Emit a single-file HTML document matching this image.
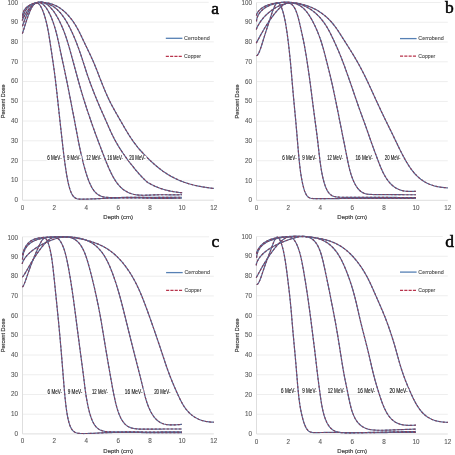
<!DOCTYPE html>
<html><head><meta charset="utf-8"><style>
html,body{margin:0;padding:0;background:#fff;}
svg{display:block;filter:blur(0.35px);}
.g{stroke:#eeeeee;stroke-width:1;}
.ax{stroke:#dedede;stroke-width:1;}
.tk{font-family:"Liberation Sans",sans-serif;font-size:6.3px;fill:#5a5a5a;stroke:#5a5a5a;stroke-width:0.1px;}
.ttl{font-family:"Liberation Sans",sans-serif;font-size:6.2px;fill:#3c3c3c;stroke:#3c3c3c;stroke-width:0.18px;}
.lg{font-family:"Liberation Sans",sans-serif;font-size:6.2px;fill:#505050;stroke:#505050;stroke-width:0.12px;}
.el{font-family:"Liberation Sans",sans-serif;font-size:6.3px;fill:#1a1a1a;stroke:#1a1a1a;stroke-width:0.15px;}
.let{font-family:"Liberation Serif",serif;font-size:17.5px;font-weight:normal;fill:#000;stroke:#000;stroke-width:0.5px;}
.lgb{stroke:#5680b4;stroke-width:1.3;}
.lgr{stroke:#b8344c;stroke-width:1.2;stroke-dasharray:3.1,1.2;}
.cb{fill:none;stroke:#536894;stroke-width:1.2;stroke-linejoin:round;}
.cu{fill:none;stroke:#843e5c;stroke-width:1.1;stroke-dasharray:2.1,1.9;}
.ck{fill:none;stroke:#3a3a5a;stroke-width:0.6;opacity:0.6}
</style></head><body>
<svg width="455" height="455" viewBox="0 0 455 455">
<rect width="455" height="455" fill="#fff"/>
<line x1="22.5" y1="180.41" x2="213.8" y2="180.41" class="g"/>
<line x1="22.5" y1="160.62" x2="213.8" y2="160.62" class="g"/>
<line x1="22.5" y1="140.83" x2="213.8" y2="140.83" class="g"/>
<line x1="22.5" y1="121.04" x2="213.8" y2="121.04" class="g"/>
<line x1="22.5" y1="101.25" x2="213.8" y2="101.25" class="g"/>
<line x1="22.5" y1="81.46" x2="213.8" y2="81.46" class="g"/>
<line x1="22.5" y1="61.67" x2="213.8" y2="61.67" class="g"/>
<line x1="22.5" y1="41.88" x2="213.8" y2="41.88" class="g"/>
<line x1="22.5" y1="22.09" x2="213.8" y2="22.09" class="g"/>
<line x1="22.5" y1="2.3" x2="213.8" y2="2.3" class="g"/>
<line x1="22.5" y1="2.3" x2="22.5" y2="200.2" class="ax"/>
<line x1="22.5" y1="200.2" x2="213.8" y2="200.2" class="ax"/>
<text x="17.9" y="202.2" class="tk" text-anchor="end">0</text>
<text x="17.9" y="182.41" class="tk" text-anchor="end">10</text>
<text x="17.9" y="162.62" class="tk" text-anchor="end">20</text>
<text x="17.9" y="142.83" class="tk" text-anchor="end">30</text>
<text x="17.9" y="123.04" class="tk" text-anchor="end">40</text>
<text x="17.9" y="103.25" class="tk" text-anchor="end">50</text>
<text x="17.9" y="83.46" class="tk" text-anchor="end">60</text>
<text x="17.9" y="63.67" class="tk" text-anchor="end">70</text>
<text x="17.9" y="43.88" class="tk" text-anchor="end">80</text>
<text x="17.9" y="24.09" class="tk" text-anchor="end">90</text>
<text x="17.9" y="5.1" class="tk" text-anchor="end">100</text>
<text x="22.5" y="209.7" class="tk" text-anchor="middle">0</text>
<text x="54.38" y="209.7" class="tk" text-anchor="middle">2</text>
<text x="86.27" y="209.7" class="tk" text-anchor="middle">4</text>
<text x="118.15" y="209.7" class="tk" text-anchor="middle">6</text>
<text x="150.03" y="209.7" class="tk" text-anchor="middle">8</text>
<text x="181.92" y="209.7" class="tk" text-anchor="middle">10</text>
<text x="213.8" y="209.7" class="tk" text-anchor="middle">12</text>
<text class="ttl" text-anchor="middle" textLength="34" lengthAdjust="spacingAndGlyphs" transform="translate(4.7,101.25) rotate(-90)">Percent Dose</text>
<text x="118.15" y="219.2" class="ttl" text-anchor="middle" textLength="29.7" lengthAdjust="spacingAndGlyphs">Depth (cm)</text>
<rect x="208.7" y="0.8" width="19.3" height="15" fill="#fff"/>
<text class="let" transform="translate(211.2,13.8) scale(1.0,1)">a</text>
<line x1="165.8" y1="38.3" x2="182.4" y2="38.3" class="lgb"/>
<line x1="165.8" y1="56.4" x2="182.4" y2="56.4" class="lgr"/>
<text x="184.1" y="39.9" class="lg" textLength="25.6" lengthAdjust="spacingAndGlyphs">Cerrobend</text>
<text x="184.1" y="58" class="lg" textLength="17" lengthAdjust="spacingAndGlyphs">Copper</text>
<path d="M22.34,33.65 L22.74,32.61 L23.1,31.52 L23.44,30.42 L23.77,29.32 L24.1,28.22 L24.44,27.11 L24.77,26.01 L25.11,24.91 L25.46,23.81 L25.81,22.72 L26.16,21.62 L26.52,20.53 L26.89,19.44 L27.27,18.35 L27.65,17.26 L28.04,16.18 L28.44,15.1 L28.85,14.03 L29.27,12.97 L29.7,11.91 L30.15,10.85 L30.62,9.81 L31.11,8.78 L31.63,7.77 L32.18,6.78 L32.77,5.82 L33.41,4.91 L34.12,4.07 L34.92,3.36 L35.81,2.87 L36.76,2.74 L37.7,3.01 L38.56,3.61 L39.33,4.39 L40,5.28 L40.61,6.23 L41.17,7.22 L41.68,8.24 L42.16,9.28 L42.61,10.33 L43.03,11.4 L43.43,12.47 L43.82,13.56 L44.19,14.65 L44.54,15.74 L44.88,16.85 L45.2,17.95 L45.51,19.06 L45.81,20.17 L46.1,21.29 L46.38,22.4 L46.65,23.53 L46.91,24.65 L47.16,25.77 L47.4,26.9 L47.63,28.03 L47.85,29.16 L48.07,30.29 L48.28,31.42 L48.48,32.56 L48.68,33.69 L48.87,34.83 L49.06,35.96 L49.24,37.1 L49.42,38.24 L49.6,39.37 L49.77,40.51 L49.95,41.65 L50.12,42.79 L50.29,43.93 L50.47,45.07 L50.64,46.2 L50.81,47.34 L50.98,48.48 L51.16,49.62 L51.33,50.76 L51.5,51.9 L51.67,53.03 L51.85,54.17 L52.02,55.31 L52.19,56.45 L52.36,57.59 L52.53,58.73 L52.69,59.87 L52.86,61.01 L53.03,62.15 L53.19,63.29 L53.35,64.43 L53.52,65.57 L53.67,66.71 L53.83,67.85 L53.99,68.99 L54.14,70.13 L54.3,71.27 L54.45,72.41 L54.6,73.56 L54.75,74.7 L54.89,75.84 L55.04,76.98 L55.18,78.12 L55.32,79.27 L55.46,80.41 L55.6,81.55 L55.74,82.7 L55.87,83.84 L56.01,84.98 L56.14,86.13 L56.27,87.27 L56.4,88.42 L56.53,89.56 L56.66,90.7 L56.79,91.85 L56.91,92.99 L57.04,94.14 L57.16,95.28 L57.29,96.43 L57.41,97.57 L57.54,98.72 L57.66,99.86 L57.79,101.01 L57.91,102.15 L58.04,103.3 L58.16,104.44 L58.29,105.59 L58.41,106.73 L58.54,107.87 L58.66,109.02 L58.79,110.16 L58.91,111.31 L59.04,112.45 L59.16,113.6 L59.29,114.74 L59.42,115.89 L59.54,117.03 L59.67,118.18 L59.8,119.32 L59.92,120.46 L60.05,121.61 L60.18,122.75 L60.31,123.9 L60.43,125.04 L60.56,126.19 L60.69,127.33 L60.81,128.47 L60.94,129.62 L61.07,130.76 L61.2,131.91 L61.32,133.05 L61.45,134.2 L61.57,135.34 L61.7,136.49 L61.83,137.63 L61.95,138.77 L62.08,139.92 L62.2,141.06 L62.33,142.21 L62.46,143.35 L62.58,144.5 L62.71,145.64 L62.84,146.78 L62.97,147.93 L63.11,149.07 L63.24,150.22 L63.38,151.36 L63.51,152.5 L63.65,153.65 L63.8,154.79 L63.94,155.93 L64.09,157.07 L64.23,158.22 L64.39,159.36 L64.54,160.5 L64.69,161.64 L64.85,162.78 L65.01,163.92 L65.17,165.06 L65.33,166.2 L65.49,167.34 L65.66,168.48 L65.83,169.62 L66.01,170.76 L66.18,171.9 L66.37,173.04 L66.55,174.17 L66.74,175.31 L66.94,176.45 L67.14,177.58 L67.36,178.71 L67.57,179.85 L67.8,180.98 L68.04,182.11 L68.29,183.23 L68.55,184.36 L68.83,185.48 L69.13,186.6 L69.44,187.71 L69.77,188.82 L70.13,189.92 L70.52,191.01 L70.95,192.09 L71.42,193.16 L71.94,194.2 L72.54,195.21 L73.22,196.17 L74.02,197.05 L74.94,197.81 L75.99,198.39 L77.11,198.79 L78.27,199.02 L79.43,199.13 L80.59,199.18 L81.75,199.19 L82.9,199.18 L84.05,199.16 L85.2,199.13 L86.35,199.1 L87.51,199.07 L88.66,199.04 L89.81,199 L90.96,198.97 L92.11,198.93 L93.26,198.88 L94.41,198.83 L95.56,198.78 L96.71,198.73 L97.86,198.67 L99.02,198.61 L100.17,198.55 L101.32,198.49 L102.47,198.43 L103.62,198.38 L104.77,198.33 L105.92,198.29 L107.07,198.25 L108.22,198.21 L109.37,198.18 L110.53,198.15 L111.68,198.13 L112.83,198.11 L113.98,198.09 L115.13,198.07 L116.28,198.05 L117.43,198.04 L118.59,198.03 L119.74,198.01 L120.89,198 L122.04,197.99 L123.19,197.98 L124.34,197.98 L125.49,197.97 L126.64,197.96 L127.8,197.96 L128.95,197.95 L130.1,197.95 L131.25,197.95 L132.4,197.95 L133.55,197.95 L134.7,197.95 L135.86,197.95 L137.01,197.96 L138.16,197.97 L139.31,197.98 L140.46,198 L141.61,198.02 L142.77,198.04 L143.92,198.06 L145.07,198.09 L146.22,198.12 L147.37,198.15 L148.52,198.19 L149.68,198.22 L150.83,198.25 L151.98,198.28 L153.13,198.3 L154.28,198.32 L155.44,198.33 L156.59,198.34 L157.74,198.35 L158.89,198.36 L160.04,198.36 L161.19,198.36 L162.34,198.35 L163.5,198.35 L164.65,198.34 L165.8,198.34 L166.95,198.33 L168.1,198.32 L169.25,198.31 L170.4,198.3 L171.56,198.29 L172.71,198.28 L173.86,198.28 L175.01,198.27 L176.16,198.26 L177.31,198.25 L178.46,198.23 L179.61,198.22 L180.77,198.21 L181.92,198.2" class="cb"/>
<path d="M22.34,33.65 L22.74,32.61 L23.1,31.52 L23.44,30.42 L23.77,29.32 L24.1,28.22 L24.44,27.11 L24.77,26.01 L25.11,24.91 L25.46,23.81 L25.81,22.72 L26.16,21.62 L26.52,20.53 L26.89,19.44 L27.27,18.35 L27.65,17.26 L28.04,16.18 L28.44,15.1 L28.85,14.03 L29.27,12.97 L29.7,11.91 L30.15,10.85 L30.62,9.81 L31.11,8.78 L31.63,7.77 L32.18,6.78 L32.77,5.82 L33.41,4.91 L34.12,4.07 L34.92,3.36 L35.81,2.87 L36.76,2.74 L37.7,3.01 L38.56,3.61 L39.33,4.39 L40,5.28 L40.61,6.23 L41.17,7.22 L41.68,8.24 L42.16,9.28 L42.61,10.33 L43.03,11.4 L43.43,12.47 L43.82,13.56 L44.19,14.65 L44.54,15.74 L44.88,16.85 L45.2,17.95 L45.51,19.06 L45.81,20.17 L46.1,21.29 L46.38,22.4 L46.65,23.53 L46.91,24.65 L47.16,25.77 L47.4,26.9 L47.63,28.03 L47.85,29.16 L48.07,30.29 L48.28,31.42 L48.48,32.56 L48.68,33.69 L48.87,34.83 L49.06,35.96 L49.24,37.1 L49.42,38.24 L49.6,39.37 L49.77,40.51 L49.95,41.65 L50.12,42.79 L50.29,43.93 L50.47,45.07 L50.64,46.2 L50.81,47.34 L50.98,48.48 L51.16,49.62 L51.33,50.76 L51.5,51.9 L51.67,53.03 L51.85,54.17 L52.02,55.31 L52.19,56.45 L52.36,57.59 L52.53,58.73 L52.69,59.87 L52.86,61.01 L53.03,62.15 L53.19,63.29 L53.35,64.43 L53.52,65.57 L53.67,66.71 L53.83,67.85 L53.99,68.99 L54.14,70.13 L54.3,71.27 L54.45,72.41 L54.6,73.56 L54.75,74.7 L54.89,75.84 L55.04,76.98 L55.18,78.12 L55.32,79.27 L55.46,80.41 L55.6,81.55 L55.74,82.7 L55.87,83.84 L56.01,84.98 L56.14,86.13 L56.27,87.27 L56.4,88.42 L56.53,89.56 L56.66,90.7 L56.79,91.85 L56.91,92.99 L57.04,94.14 L57.16,95.28 L57.29,96.43 L57.41,97.57 L57.54,98.72 L57.66,99.86 L57.79,101.01 L57.91,102.15 L58.04,103.3 L58.16,104.44 L58.29,105.59 L58.41,106.73 L58.54,107.87 L58.66,109.02 L58.79,110.16 L58.91,111.31 L59.04,112.45 L59.16,113.6 L59.29,114.74 L59.42,115.89 L59.54,117.03 L59.67,118.18 L59.8,119.32 L59.92,120.46 L60.05,121.61 L60.18,122.75 L60.31,123.9 L60.43,125.04 L60.56,126.19 L60.69,127.33 L60.81,128.47 L60.94,129.62 L61.07,130.76 L61.2,131.91 L61.32,133.05 L61.45,134.2 L61.57,135.34 L61.7,136.49 L61.83,137.63 L61.95,138.77 L62.08,139.92 L62.2,141.06 L62.33,142.21 L62.46,143.35 L62.58,144.5 L62.71,145.64 L62.84,146.78 L62.97,147.93 L63.11,149.07 L63.24,150.22 L63.38,151.36 L63.51,152.5 L63.65,153.65 L63.8,154.79 L63.94,155.93 L64.09,157.07 L64.23,158.22 L64.39,159.36 L64.54,160.5 L64.69,161.64 L64.85,162.78 L65.01,163.92 L65.17,165.06 L65.33,166.2 L65.49,167.34 L65.66,168.48 L65.83,169.62 L66.01,170.76 L66.18,171.9 L66.37,173.04 L66.55,174.17 L66.74,175.31 L66.94,176.45 L67.14,177.58 L67.36,178.71 L67.57,179.85 L67.8,180.98 L68.04,182.11 L68.29,183.23 L68.55,184.36 L68.83,185.48 L69.13,186.6 L69.44,187.71 L69.77,188.82 L70.13,189.92 L70.52,191.01 L70.95,192.09 L71.42,193.16 L71.94,194.2 L72.54,195.21 L73.22,196.17 L74.02,197.05 L74.94,197.81 L75.99,198.39 L77.11,198.79 L78.27,199.02 L79.43,199.13 L80.59,199.18 L81.75,199.19 L82.9,199.18 L84.05,199.16 L85.2,199.13 L86.35,199.1 L87.51,199.07 L88.66,199.04 L89.81,199 L90.96,198.97 L92.11,198.93 L93.26,198.88 L94.41,198.83 L95.56,198.78 L96.71,198.73 L97.86,198.67 L99.02,198.61 L100.17,198.55 L101.32,198.49 L102.47,198.43 L103.62,198.38 L104.77,198.33 L105.92,198.29 L107.07,198.25 L108.22,198.21 L109.37,198.18 L110.53,198.15 L111.68,198.13 L112.83,198.11 L113.98,198.09 L115.13,198.07 L116.28,198.05 L117.43,198.04 L118.59,198.03 L119.74,198.01 L120.89,198 L122.04,197.99 L123.19,197.98 L124.34,197.98 L125.49,197.97 L126.64,197.96 L127.8,197.96 L128.95,197.95 L130.1,197.95 L131.25,197.95 L132.4,197.95 L133.55,197.95 L134.7,197.95 L135.86,197.95 L137.01,197.96 L138.16,197.97 L139.31,197.98 L140.46,198 L141.61,198.02 L142.77,198.04 L143.92,198.06 L145.07,198.09 L146.22,198.12 L147.37,198.15 L148.52,198.19 L149.68,198.22 L150.83,198.25 L151.98,198.28 L153.13,198.3 L154.28,198.32 L155.44,198.33 L156.59,198.34 L157.74,198.35 L158.89,198.36 L160.04,198.36 L161.19,198.36 L162.34,198.35 L163.5,198.35 L164.65,198.34 L165.8,198.34 L166.95,198.33 L168.1,198.32 L169.25,198.31 L170.4,198.3 L171.56,198.29 L172.71,198.28 L173.86,198.28 L175.01,198.27 L176.16,198.26 L177.31,198.25 L178.46,198.23 L179.61,198.22 L180.77,198.21 L181.92,198.2" class="cu"/>
<path d="M22.44,26.28 L22.77,25.26 L23.1,24.24 L23.45,23.23 L23.8,22.22 L24.17,21.21 L24.55,20.21 L24.93,19.21 L25.33,18.22 L25.75,17.23 L26.17,16.25 L26.61,15.27 L27.07,14.3 L27.54,13.34 L28.02,12.39 L28.53,11.45 L29.06,10.52 L29.61,9.61 L30.19,8.71 L30.79,7.83 L31.43,6.98 L32.11,6.16 L32.82,5.38 L33.59,4.64 L34.4,3.98 L35.28,3.4 L36.22,2.93 L37.21,2.61 L38.24,2.47 L39.28,2.52 L40.29,2.76 L41.26,3.17 L42.16,3.7 L43.01,4.33 L43.8,5.04 L44.54,5.8 L45.24,6.61 L45.89,7.45 L46.51,8.32 L47.1,9.21 L47.67,10.12 L48.2,11.04 L48.72,11.98 L49.21,12.93 L49.69,13.89 L50.15,14.85 L50.59,15.83 L51.02,16.81 L51.43,17.8 L51.83,18.79 L52.22,19.79 L52.6,20.79 L52.96,21.8 L53.32,22.81 L53.66,23.82 L53.99,24.84 L54.32,25.86 L54.64,26.88 L54.95,27.91 L55.25,28.93 L55.54,29.96 L55.82,31 L56.1,32.03 L56.37,33.06 L56.64,34.1 L56.9,35.14 L57.15,36.18 L57.4,37.22 L57.64,38.26 L57.88,39.3 L58.12,40.35 L58.35,41.39 L58.58,42.44 L58.81,43.48 L59.04,44.53 L59.26,45.57 L59.48,46.62 L59.71,47.67 L59.93,48.71 L60.15,49.76 L60.37,50.81 L60.59,51.85 L60.81,52.9 L61.04,53.94 L61.26,54.99 L61.48,56.04 L61.71,57.08 L61.93,58.13 L62.16,59.17 L62.38,60.22 L62.61,61.26 L62.83,62.31 L63.06,63.36 L63.28,64.4 L63.51,65.45 L63.73,66.49 L63.96,67.54 L64.18,68.59 L64.41,69.63 L64.63,70.68 L64.85,71.73 L65.07,72.77 L65.3,73.82 L65.52,74.87 L65.74,75.91 L65.95,76.96 L66.17,78.01 L66.39,79.06 L66.6,80.11 L66.82,81.16 L67.03,82.21 L67.24,83.26 L67.45,84.31 L67.66,85.35 L67.87,86.4 L68.08,87.46 L68.29,88.51 L68.49,89.56 L68.7,90.61 L68.91,91.66 L69.11,92.71 L69.32,93.76 L69.52,94.81 L69.73,95.86 L69.93,96.91 L70.13,97.96 L70.34,99.02 L70.54,100.07 L70.74,101.12 L70.95,102.17 L71.15,103.22 L71.36,104.27 L71.56,105.32 L71.76,106.37 L71.97,107.43 L72.17,108.48 L72.37,109.53 L72.58,110.58 L72.78,111.63 L72.98,112.68 L73.19,113.73 L73.39,114.78 L73.59,115.84 L73.8,116.89 L74,117.94 L74.2,118.99 L74.4,120.04 L74.6,121.1 L74.8,122.15 L75,123.2 L75.2,124.25 L75.4,125.3 L75.6,126.36 L75.79,127.41 L75.99,128.46 L76.19,129.51 L76.39,130.56 L76.58,131.62 L76.78,132.67 L76.98,133.72 L77.18,134.77 L77.38,135.83 L77.58,136.88 L77.78,137.93 L77.98,138.98 L78.18,140.03 L78.39,141.08 L78.59,142.13 L78.8,143.19 L79.01,144.24 L79.22,145.28 L79.44,146.33 L79.65,147.38 L79.87,148.43 L80.1,149.48 L80.32,150.52 L80.55,151.57 L80.78,152.62 L81.01,153.66 L81.25,154.71 L81.49,155.75 L81.74,156.79 L81.98,157.83 L82.23,158.87 L82.49,159.92 L82.74,160.95 L83,161.99 L83.27,163.03 L83.54,164.07 L83.81,165.1 L84.08,166.14 L84.37,167.17 L84.65,168.2 L84.94,169.23 L85.24,170.26 L85.54,171.29 L85.84,172.31 L86.16,173.34 L86.48,174.36 L86.81,175.38 L87.15,176.39 L87.49,177.41 L87.85,178.42 L88.22,179.42 L88.6,180.42 L88.99,181.42 L89.4,182.41 L89.83,183.39 L90.27,184.36 L90.74,185.33 L91.22,186.28 L91.73,187.23 L92.27,188.15 L92.84,189.06 L93.44,189.95 L94.07,190.81 L94.75,191.64 L95.47,192.43 L96.24,193.18 L97.05,193.88 L97.91,194.52 L98.81,195.1 L99.76,195.6 L100.73,196.04 L101.74,196.4 L102.77,196.7 L103.81,196.94 L104.86,197.12 L105.92,197.27 L106.98,197.37 L108.05,197.45 L109.11,197.51 L110.18,197.54 L111.25,197.56 L112.32,197.57 L113.39,197.57 L114.46,197.57 L115.53,197.56 L116.6,197.55 L117.67,197.53 L118.74,197.52 L119.81,197.5 L120.88,197.48 L121.95,197.46 L123.02,197.45 L124.09,197.43 L125.17,197.41 L126.24,197.4 L127.31,197.38 L128.38,197.37 L129.45,197.36 L130.52,197.35 L131.59,197.34 L132.66,197.34 L133.73,197.34 L134.8,197.34 L135.87,197.34 L136.94,197.35 L138.01,197.35 L139.09,197.36 L140.16,197.37 L141.23,197.39 L142.3,197.4 L143.37,197.41 L144.44,197.42 L145.51,197.43 L146.58,197.44 L147.65,197.45 L148.72,197.45 L149.79,197.45 L150.87,197.45 L151.94,197.45 L153.01,197.45 L154.08,197.45 L155.15,197.44 L156.22,197.44 L157.29,197.43 L158.36,197.42 L159.43,197.41 L160.5,197.41 L161.57,197.4 L162.64,197.39 L163.71,197.38 L164.79,197.37 L165.86,197.36 L166.93,197.36 L168,197.35 L169.07,197.34 L170.14,197.33 L171.21,197.32 L172.28,197.31 L173.35,197.3 L174.42,197.29 L175.49,197.28 L176.56,197.27 L177.63,197.26 L178.7,197.26 L179.78,197.25 L180.85,197.24 L181.92,197.23" class="cb"/>
<path d="M22.44,26.28 L22.77,25.26 L23.1,24.24 L23.45,23.23 L23.8,22.22 L24.17,21.21 L24.55,20.21 L24.93,19.21 L25.33,18.22 L25.75,17.23 L26.17,16.25 L26.61,15.27 L27.07,14.3 L27.54,13.34 L28.02,12.39 L28.53,11.45 L29.06,10.52 L29.61,9.61 L30.19,8.71 L30.79,7.83 L31.43,6.98 L32.11,6.16 L32.82,5.38 L33.59,4.64 L34.4,3.98 L35.28,3.4 L36.22,2.93 L37.21,2.61 L38.24,2.47 L39.28,2.52 L40.29,2.76 L41.26,3.17 L42.16,3.7 L43.01,4.33 L43.8,5.04 L44.54,5.8 L45.24,6.61 L45.89,7.45 L46.51,8.32 L47.1,9.21 L47.67,10.12 L48.2,11.04 L48.72,11.98 L49.21,12.93 L49.69,13.89 L50.15,14.85 L50.59,15.83 L51.02,16.81 L51.43,17.8 L51.83,18.79 L52.22,19.79 L52.6,20.79 L52.96,21.8 L53.32,22.81 L53.66,23.82 L53.99,24.84 L54.32,25.86 L54.64,26.88 L54.95,27.91 L55.25,28.93 L55.54,29.96 L55.82,31 L56.1,32.03 L56.37,33.06 L56.64,34.1 L56.9,35.14 L57.15,36.18 L57.4,37.22 L57.64,38.26 L57.88,39.3 L58.12,40.35 L58.35,41.39 L58.58,42.44 L58.81,43.48 L59.04,44.53 L59.26,45.57 L59.48,46.62 L59.71,47.67 L59.93,48.71 L60.15,49.76 L60.37,50.81 L60.59,51.85 L60.81,52.9 L61.04,53.94 L61.26,54.99 L61.48,56.04 L61.71,57.08 L61.93,58.13 L62.16,59.17 L62.38,60.22 L62.61,61.26 L62.83,62.31 L63.06,63.36 L63.28,64.4 L63.51,65.45 L63.73,66.49 L63.96,67.54 L64.18,68.59 L64.41,69.63 L64.63,70.68 L64.85,71.73 L65.07,72.77 L65.3,73.82 L65.52,74.87 L65.74,75.91 L65.95,76.96 L66.17,78.01 L66.39,79.06 L66.6,80.11 L66.82,81.16 L67.03,82.21 L67.24,83.26 L67.45,84.31 L67.66,85.35 L67.87,86.4 L68.08,87.46 L68.29,88.51 L68.49,89.56 L68.7,90.61 L68.91,91.66 L69.11,92.71 L69.32,93.76 L69.52,94.81 L69.73,95.86 L69.93,96.91 L70.13,97.96 L70.34,99.02 L70.54,100.07 L70.74,101.12 L70.95,102.17 L71.15,103.22 L71.36,104.27 L71.56,105.32 L71.76,106.37 L71.97,107.43 L72.17,108.48 L72.37,109.53 L72.58,110.58 L72.78,111.63 L72.98,112.68 L73.19,113.73 L73.39,114.78 L73.59,115.84 L73.8,116.89 L74,117.94 L74.2,118.99 L74.4,120.04 L74.6,121.1 L74.8,122.15 L75,123.2 L75.2,124.25 L75.4,125.3 L75.6,126.36 L75.79,127.41 L75.99,128.46 L76.19,129.51 L76.39,130.56 L76.58,131.62 L76.78,132.67 L76.98,133.72 L77.18,134.77 L77.38,135.83 L77.58,136.88 L77.78,137.93 L77.98,138.98 L78.18,140.03 L78.39,141.08 L78.59,142.13 L78.8,143.19 L79.01,144.24 L79.22,145.28 L79.44,146.33 L79.65,147.38 L79.87,148.43 L80.1,149.48 L80.32,150.52 L80.55,151.57 L80.78,152.62 L81.01,153.66 L81.25,154.71 L81.49,155.75 L81.74,156.79 L81.98,157.83 L82.23,158.87 L82.49,159.92 L82.74,160.95 L83,161.99 L83.27,163.03 L83.54,164.07 L83.81,165.1 L84.08,166.14 L84.37,167.17 L84.65,168.2 L84.94,169.23 L85.24,170.26 L85.54,171.29 L85.84,172.31 L86.16,173.34 L86.48,174.36 L86.81,175.38 L87.15,176.39 L87.49,177.41 L87.85,178.42 L88.22,179.42 L88.6,180.42 L88.99,181.42 L89.4,182.41 L89.83,183.39 L90.27,184.36 L90.74,185.33 L91.22,186.28 L91.73,187.23 L92.27,188.15 L92.84,189.06 L93.44,189.95 L94.07,190.81 L94.75,191.64 L95.47,192.43 L96.24,193.18 L97.05,193.88 L97.91,194.52 L98.81,195.1 L99.76,195.6 L100.73,196.04 L101.74,196.4 L102.77,196.7 L103.81,196.94 L104.86,197.12 L105.92,197.27 L106.98,197.37 L108.05,197.45 L109.11,197.51 L110.18,197.54 L111.25,197.56 L112.32,197.57 L113.39,197.57 L114.46,197.57 L115.53,197.56 L116.6,197.55 L117.67,197.53 L118.74,197.52 L119.81,197.5 L120.88,197.48 L121.95,197.46 L123.02,197.45 L124.09,197.43 L125.17,197.41 L126.24,197.4 L127.31,197.38 L128.38,197.37 L129.45,197.36 L130.52,197.35 L131.59,197.34 L132.66,197.34 L133.73,197.34 L134.8,197.34 L135.87,197.34 L136.94,197.35 L138.01,197.35 L139.09,197.36 L140.16,197.37 L141.23,197.39 L142.3,197.4 L143.37,197.41 L144.44,197.42 L145.51,197.43 L146.58,197.44 L147.65,197.45 L148.72,197.45 L149.79,197.45 L150.87,197.45 L151.94,197.45 L153.01,197.45 L154.08,197.45 L155.15,197.44 L156.22,197.44 L157.29,197.43 L158.36,197.42 L159.43,197.41 L160.5,197.41 L161.57,197.4 L162.64,197.39 L163.71,197.38 L164.79,197.37 L165.86,197.36 L166.93,197.36 L168,197.35 L169.07,197.34 L170.14,197.33 L171.21,197.32 L172.28,197.31 L173.35,197.3 L174.42,197.29 L175.49,197.28 L176.56,197.27 L177.63,197.26 L178.7,197.26 L179.78,197.25 L180.85,197.24 L181.92,197.23" class="cu"/>
<path d="M22.09,20.58 L22.51,19.68 L22.94,18.78 L23.38,17.89 L23.84,17.01 L24.3,16.13 L24.78,15.26 L25.28,14.39 L25.78,13.53 L26.31,12.68 L26.85,11.84 L27.41,11.01 L27.98,10.2 L28.58,9.4 L29.2,8.61 L29.85,7.84 L30.52,7.09 L31.22,6.37 L31.95,5.67 L32.71,5.01 L33.51,4.39 L34.34,3.81 L35.22,3.29 L36.13,2.84 L37.09,2.46 L38.07,2.18 L39.09,1.99 L40.12,1.92 L41.15,1.96 L42.16,2.12 L43.16,2.37 L44.12,2.72 L45.05,3.15 L45.94,3.65 L46.79,4.2 L47.6,4.8 L48.38,5.43 L49.14,6.11 L49.86,6.81 L50.55,7.53 L51.22,8.28 L51.87,9.04 L52.5,9.82 L53.11,10.61 L53.7,11.42 L54.27,12.24 L54.83,13.06 L55.38,13.9 L55.91,14.74 L56.43,15.6 L56.93,16.46 L57.43,17.32 L57.91,18.19 L58.38,19.07 L58.85,19.95 L59.3,20.83 L59.74,21.72 L60.18,22.62 L60.6,23.52 L61.02,24.42 L61.43,25.32 L61.83,26.23 L62.22,27.14 L62.61,28.06 L62.99,28.97 L63.36,29.89 L63.72,30.82 L64.08,31.74 L64.43,32.67 L64.78,33.6 L65.11,34.53 L65.45,35.47 L65.77,36.4 L66.09,37.34 L66.41,38.28 L66.71,39.22 L67.02,40.16 L67.32,41.11 L67.61,42.06 L67.9,43 L68.19,43.95 L68.47,44.9 L68.75,45.85 L69.03,46.8 L69.3,47.75 L69.57,48.7 L69.84,49.66 L70.11,50.61 L70.38,51.56 L70.64,52.52 L70.9,53.47 L71.17,54.42 L71.43,55.38 L71.69,56.33 L71.95,57.29 L72.21,58.24 L72.47,59.19 L72.73,60.15 L72.99,61.1 L73.25,62.06 L73.51,63.01 L73.77,63.97 L74.03,64.92 L74.28,65.87 L74.54,66.83 L74.8,67.78 L75.06,68.74 L75.32,69.69 L75.57,70.65 L75.83,71.6 L76.09,72.55 L76.35,73.51 L76.61,74.46 L76.87,75.42 L77.13,76.37 L77.39,77.32 L77.65,78.28 L77.91,79.23 L78.18,80.18 L78.44,81.13 L78.71,82.09 L78.97,83.04 L79.24,83.99 L79.51,84.94 L79.78,85.89 L80.06,86.84 L80.33,87.79 L80.6,88.74 L80.88,89.69 L81.16,90.64 L81.44,91.59 L81.72,92.54 L82,93.49 L82.28,94.44 L82.57,95.38 L82.85,96.33 L83.14,97.28 L83.43,98.22 L83.72,99.17 L84.02,100.11 L84.31,101.06 L84.61,102 L84.91,102.95 L85.21,103.89 L85.51,104.83 L85.82,105.77 L86.12,106.72 L86.43,107.66 L86.74,108.6 L87.05,109.54 L87.37,110.48 L87.68,111.42 L88,112.36 L88.31,113.29 L88.63,114.23 L88.95,115.17 L89.27,116.11 L89.59,117.05 L89.91,117.99 L90.23,118.92 L90.55,119.86 L90.87,120.8 L91.19,121.73 L91.52,122.67 L91.84,123.6 L92.17,124.54 L92.49,125.48 L92.82,126.41 L93.15,127.34 L93.48,128.28 L93.81,129.21 L94.15,130.14 L94.48,131.07 L94.82,132 L95.16,132.93 L95.5,133.86 L95.84,134.79 L96.18,135.72 L96.53,136.65 L96.87,137.58 L97.22,138.5 L97.57,139.43 L97.92,140.35 L98.26,141.28 L98.61,142.2 L98.96,143.13 L99.31,144.05 L99.66,144.98 L100.01,145.9 L100.36,146.82 L100.71,147.75 L101.06,148.67 L101.41,149.59 L101.76,150.51 L102.11,151.43 L102.47,152.35 L102.82,153.27 L103.17,154.19 L103.53,155.11 L103.88,156.03 L104.24,156.95 L104.6,157.87 L104.96,158.78 L105.33,159.7 L105.69,160.61 L106.06,161.52 L106.43,162.43 L106.8,163.34 L107.18,164.25 L107.56,165.16 L107.94,166.07 L108.33,166.97 L108.73,167.87 L109.12,168.77 L109.53,169.67 L109.94,170.56 L110.35,171.45 L110.78,172.34 L111.21,173.23 L111.65,174.11 L112.1,174.98 L112.56,175.85 L113.03,176.72 L113.52,177.58 L114.01,178.43 L114.52,179.27 L115.05,180.11 L115.59,180.94 L116.14,181.75 L116.72,182.56 L117.31,183.35 L117.92,184.13 L118.55,184.9 L119.2,185.65 L119.88,186.38 L120.57,187.09 L121.29,187.77 L122.03,188.44 L122.8,189.08 L123.58,189.69 L124.4,190.28 L125.23,190.83 L126.08,191.35 L126.96,191.84 L127.85,192.29 L128.76,192.71 L129.68,193.09 L130.62,193.44 L131.57,193.75 L132.53,194.02 L133.5,194.27 L134.48,194.48 L135.46,194.66 L136.44,194.81 L137.42,194.93 L138.41,195.03 L139.4,195.11 L140.39,195.17 L141.38,195.21 L142.37,195.23 L143.36,195.24 L144.35,195.24 L145.34,195.22 L146.33,195.2 L147.31,195.17 L148.3,195.14 L149.29,195.1 L150.27,195.06 L151.26,195.02 L152.25,194.98 L153.24,194.93 L154.22,194.9 L155.21,194.86 L156.2,194.83 L157.18,194.8 L158.17,194.78 L159.16,194.76 L160.15,194.75 L161.14,194.74 L162.13,194.74 L163.12,194.74 L164.11,194.74 L165.1,194.75 L166.09,194.76 L167.08,194.77 L168.07,194.78 L169.06,194.8 L170.05,194.81 L171.04,194.81 L172.03,194.82 L173.02,194.82 L174.01,194.82 L175,194.82 L175.99,194.81 L176.98,194.8 L177.97,194.79 L178.96,194.78 L179.95,194.76 L180.94,194.74 L181.93,194.71" class="cb"/>
<path d="M22.09,20.58 L22.51,19.68 L22.94,18.78 L23.38,17.89 L23.84,17.01 L24.3,16.13 L24.78,15.26 L25.28,14.39 L25.78,13.53 L26.31,12.68 L26.85,11.84 L27.41,11.01 L27.98,10.2 L28.58,9.4 L29.2,8.61 L29.85,7.84 L30.52,7.09 L31.22,6.37 L31.95,5.67 L32.71,5.01 L33.51,4.39 L34.34,3.81 L35.22,3.29 L36.13,2.84 L37.09,2.46 L38.07,2.18 L39.09,1.99 L40.12,1.92 L41.15,1.96 L42.16,2.12 L43.16,2.37 L44.12,2.72 L45.05,3.15 L45.94,3.65 L46.79,4.2 L47.6,4.8 L48.38,5.43 L49.14,6.11 L49.86,6.81 L50.55,7.53 L51.22,8.28 L51.87,9.04 L52.5,9.82 L53.11,10.61 L53.7,11.42 L54.27,12.24 L54.83,13.06 L55.38,13.9 L55.91,14.74 L56.43,15.6 L56.93,16.46 L57.43,17.32 L57.91,18.19 L58.38,19.07 L58.85,19.95 L59.3,20.83 L59.74,21.72 L60.18,22.62 L60.6,23.52 L61.02,24.42 L61.43,25.32 L61.83,26.23 L62.22,27.14 L62.61,28.06 L62.99,28.97 L63.36,29.89 L63.72,30.82 L64.08,31.74 L64.43,32.67 L64.78,33.6 L65.11,34.53 L65.45,35.47 L65.77,36.4 L66.09,37.34 L66.41,38.28 L66.71,39.22 L67.02,40.16 L67.32,41.11 L67.61,42.06 L67.9,43 L68.19,43.95 L68.47,44.9 L68.75,45.85 L69.03,46.8 L69.3,47.75 L69.57,48.7 L69.84,49.66 L70.11,50.61 L70.38,51.56 L70.64,52.52 L70.9,53.47 L71.17,54.42 L71.43,55.38 L71.69,56.33 L71.95,57.29 L72.21,58.24 L72.47,59.19 L72.73,60.15 L72.99,61.1 L73.25,62.06 L73.51,63.01 L73.77,63.97 L74.03,64.92 L74.28,65.87 L74.54,66.83 L74.8,67.78 L75.06,68.74 L75.32,69.69 L75.57,70.65 L75.83,71.6 L76.09,72.55 L76.35,73.51 L76.61,74.46 L76.87,75.42 L77.13,76.37 L77.39,77.32 L77.65,78.28 L77.91,79.23 L78.18,80.18 L78.44,81.13 L78.71,82.09 L78.97,83.04 L79.24,83.99 L79.51,84.94 L79.78,85.89 L80.06,86.84 L80.33,87.79 L80.6,88.74 L80.88,89.69 L81.16,90.64 L81.44,91.59 L81.72,92.54 L82,93.49 L82.28,94.44 L82.57,95.38 L82.85,96.33 L83.14,97.28 L83.43,98.22 L83.72,99.17 L84.02,100.11 L84.31,101.06 L84.61,102 L84.91,102.95 L85.21,103.89 L85.51,104.83 L85.82,105.77 L86.12,106.72 L86.43,107.66 L86.74,108.6 L87.05,109.54 L87.37,110.48 L87.68,111.42 L88,112.36 L88.31,113.29 L88.63,114.23 L88.95,115.17 L89.27,116.11 L89.59,117.05 L89.91,117.99 L90.23,118.92 L90.55,119.86 L90.87,120.8 L91.19,121.73 L91.52,122.67 L91.84,123.6 L92.17,124.54 L92.49,125.48 L92.82,126.41 L93.15,127.34 L93.48,128.28 L93.81,129.21 L94.15,130.14 L94.48,131.07 L94.82,132 L95.16,132.93 L95.5,133.86 L95.84,134.79 L96.18,135.72 L96.53,136.65 L96.87,137.58 L97.22,138.5 L97.57,139.43 L97.92,140.35 L98.26,141.28 L98.61,142.2 L98.96,143.13 L99.31,144.05 L99.66,144.98 L100.01,145.9 L100.36,146.82 L100.71,147.75 L101.06,148.67 L101.41,149.59 L101.76,150.51 L102.11,151.43 L102.47,152.35 L102.82,153.27 L103.17,154.19 L103.53,155.11 L103.88,156.03 L104.24,156.95 L104.6,157.87 L104.96,158.78 L105.33,159.7 L105.69,160.61 L106.06,161.52 L106.43,162.43 L106.8,163.34 L107.18,164.25 L107.56,165.16 L107.94,166.07 L108.33,166.97 L108.73,167.87 L109.12,168.77 L109.53,169.67 L109.94,170.56 L110.35,171.45 L110.78,172.34 L111.21,173.23 L111.65,174.11 L112.1,174.98 L112.56,175.85 L113.03,176.72 L113.52,177.58 L114.01,178.43 L114.52,179.27 L115.05,180.11 L115.59,180.94 L116.14,181.75 L116.72,182.56 L117.31,183.35 L117.92,184.13 L118.55,184.9 L119.2,185.65 L119.88,186.38 L120.57,187.09 L121.29,187.77 L122.03,188.44 L122.8,189.08 L123.58,189.69 L124.4,190.28 L125.23,190.83 L126.08,191.35 L126.96,191.84 L127.85,192.29 L128.76,192.71 L129.68,193.09 L130.62,193.44 L131.57,193.75 L132.53,194.02 L133.5,194.27 L134.48,194.48 L135.46,194.66 L136.44,194.81 L137.42,194.93 L138.41,195.03 L139.4,195.11 L140.39,195.17 L141.38,195.21 L142.37,195.23 L143.36,195.24 L144.35,195.24 L145.34,195.22 L146.33,195.2 L147.31,195.17 L148.3,195.14 L149.29,195.1 L150.27,195.06 L151.26,195.02 L152.25,194.98 L153.24,194.93 L154.22,194.9 L155.21,194.86 L156.2,194.83 L157.18,194.8 L158.17,194.78 L159.16,194.76 L160.15,194.75 L161.14,194.74 L162.13,194.74 L163.12,194.74 L164.11,194.74 L165.1,194.75 L166.09,194.76 L167.08,194.77 L168.07,194.78 L169.06,194.8 L170.05,194.81 L171.04,194.81 L172.03,194.82 L173.02,194.82 L174.01,194.82 L175,194.82 L175.99,194.81 L176.98,194.8 L177.97,194.79 L178.96,194.78 L179.95,194.76 L180.94,194.74 L181.93,194.71" class="cu"/>
<path d="M22.55,18.12 L22.74,17.22 L22.99,16.32 L23.28,15.44 L23.6,14.57 L23.94,13.71 L24.32,12.86 L24.72,12.02 L25.16,11.2 L25.63,10.4 L26.13,9.63 L26.67,8.87 L27.25,8.14 L27.86,7.45 L28.51,6.79 L29.19,6.17 L29.91,5.59 L30.67,5.06 L31.46,4.58 L32.27,4.14 L33.11,3.76 L33.97,3.43 L34.85,3.15 L35.75,2.92 L36.65,2.74 L37.57,2.6 L38.49,2.51 L39.41,2.46 L40.33,2.45 L41.26,2.48 L42.18,2.55 L43.1,2.66 L44.01,2.8 L44.92,2.98 L45.82,3.19 L46.71,3.44 L47.59,3.73 L48.45,4.04 L49.31,4.39 L50.15,4.77 L50.98,5.18 L51.79,5.62 L52.59,6.09 L53.37,6.58 L54.13,7.1 L54.87,7.65 L55.6,8.22 L56.31,8.81 L57.01,9.42 L57.68,10.05 L58.34,10.7 L58.99,11.36 L59.62,12.04 L60.23,12.73 L60.83,13.44 L61.41,14.16 L61.99,14.89 L62.55,15.63 L63.09,16.38 L63.63,17.13 L64.15,17.9 L64.67,18.67 L65.17,19.45 L65.66,20.24 L66.15,21.03 L66.62,21.83 L67.09,22.64 L67.55,23.44 L68,24.26 L68.44,25.07 L68.88,25.9 L69.31,26.72 L69.73,27.55 L70.15,28.38 L70.56,29.21 L70.97,30.05 L71.37,30.89 L71.77,31.74 L72.16,32.58 L72.54,33.43 L72.92,34.28 L73.3,35.13 L73.67,35.98 L74.04,36.84 L74.4,37.69 L74.76,38.55 L75.12,39.41 L75.47,40.28 L75.82,41.14 L76.16,42.01 L76.5,42.87 L76.84,43.74 L77.17,44.61 L77.5,45.48 L77.83,46.35 L78.15,47.22 L78.47,48.1 L78.79,48.97 L79.11,49.85 L79.42,50.73 L79.73,51.6 L80.03,52.48 L80.34,53.36 L80.64,54.24 L80.94,55.12 L81.24,56.01 L81.53,56.89 L81.83,57.77 L82.12,58.66 L82.41,59.54 L82.7,60.43 L82.98,61.31 L83.27,62.2 L83.55,63.09 L83.83,63.97 L84.12,64.86 L84.4,65.75 L84.68,66.63 L84.97,67.52 L85.25,68.41 L85.53,69.29 L85.82,70.18 L86.11,71.07 L86.39,71.95 L86.69,72.83 L86.98,73.72 L87.27,74.6 L87.57,75.48 L87.87,76.36 L88.18,77.24 L88.48,78.12 L88.79,79 L89.11,79.88 L89.42,80.75 L89.74,81.63 L90.06,82.5 L90.38,83.38 L90.71,84.25 L91.04,85.12 L91.36,85.99 L91.7,86.86 L92.03,87.73 L92.36,88.6 L92.7,89.47 L93.04,90.34 L93.38,91.21 L93.72,92.07 L94.06,92.94 L94.4,93.81 L94.75,94.67 L95.09,95.54 L95.44,96.4 L95.79,97.26 L96.14,98.13 L96.49,98.99 L96.84,99.85 L97.2,100.71 L97.56,101.57 L97.92,102.43 L98.28,103.29 L98.64,104.15 L99,105 L99.37,105.86 L99.74,106.71 L100.11,107.57 L100.48,108.42 L100.85,109.27 L101.23,110.13 L101.6,110.98 L101.98,111.83 L102.36,112.68 L102.73,113.53 L103.11,114.38 L103.49,115.23 L103.87,116.08 L104.25,116.93 L104.63,117.78 L105,118.63 L105.38,119.48 L105.75,120.33 L106.13,121.18 L106.5,122.03 L106.88,122.88 L107.25,123.73 L107.62,124.58 L107.99,125.44 L108.37,126.29 L108.74,127.14 L109.12,127.99 L109.49,128.84 L109.87,129.69 L110.26,130.54 L110.64,131.39 L111.03,132.23 L111.43,133.08 L111.83,133.92 L112.23,134.76 L112.64,135.6 L113.05,136.43 L113.47,137.26 L113.9,138.09 L114.33,138.92 L114.76,139.74 L115.21,140.56 L115.66,141.38 L116.11,142.19 L116.57,143 L117.04,143.81 L117.51,144.61 L117.98,145.41 L118.47,146.21 L118.95,147 L119.45,147.79 L119.94,148.58 L120.45,149.37 L120.95,150.15 L121.46,150.93 L121.98,151.7 L122.5,152.47 L123.03,153.24 L123.55,154.01 L124.09,154.77 L124.62,155.53 L125.16,156.29 L125.7,157.05 L126.25,157.8 L126.8,158.56 L127.35,159.3 L127.91,160.05 L128.46,160.8 L129.02,161.54 L129.59,162.28 L130.15,163.02 L130.72,163.76 L131.3,164.49 L131.87,165.22 L132.45,165.95 L133.03,166.68 L133.61,167.4 L134.2,168.13 L134.79,168.85 L135.39,169.56 L135.98,170.28 L136.59,170.99 L137.19,171.69 L137.8,172.4 L138.42,173.1 L139.03,173.8 L139.66,174.49 L140.29,175.18 L140.92,175.86 L141.55,176.55 L142.2,177.22 L142.84,177.89 L143.49,178.56 L144.15,179.23 L144.81,179.88 L145.48,180.54 L146.15,181.19 L146.83,181.83 L147.67,182.39 L148.47,182.87 L149.29,183.33 L150.1,183.78 L150.93,184.23 L151.76,184.66 L152.59,185.08 L153.43,185.49 L154.28,185.88 L155.13,186.27 L155.99,186.64 L156.85,187 L157.72,187.36 L158.59,187.69 L159.46,188.02 L160.34,188.34 L161.23,188.64 L162.11,188.93 L163,189.21 L163.9,189.48 L164.79,189.74 L165.69,189.98 L166.6,190.22 L167.5,190.44 L168.41,190.65 L169.32,190.86 L170.23,191.05 L171.14,191.23 L172.06,191.4 L172.97,191.57 L173.89,191.72 L174.81,191.87 L175.73,192.01 L176.65,192.14 L177.57,192.27 L178.49,192.38 L179.41,192.5 L180.33,192.6 L181.25,192.71 L182.17,192.8" class="cb"/>
<path d="M22.55,18.12 L22.74,17.22 L22.99,16.32 L23.28,15.44 L23.6,14.57 L23.94,13.71 L24.32,12.86 L24.72,12.02 L25.16,11.2 L25.63,10.4 L26.13,9.63 L26.67,8.87 L27.25,8.14 L27.86,7.45 L28.51,6.79 L29.19,6.17 L29.91,5.59 L30.67,5.06 L31.46,4.58 L32.27,4.14 L33.11,3.76 L33.97,3.43 L34.85,3.15 L35.75,2.92 L36.65,2.74 L37.57,2.6 L38.49,2.51 L39.41,2.46 L40.33,2.45 L41.26,2.48 L42.18,2.55 L43.1,2.66 L44.01,2.8 L44.92,2.98 L45.82,3.19 L46.71,3.44 L47.59,3.73 L48.45,4.04 L49.31,4.39 L50.15,4.77 L50.98,5.18 L51.79,5.62 L52.59,6.09 L53.37,6.58 L54.13,7.1 L54.87,7.65 L55.6,8.22 L56.31,8.81 L57.01,9.42 L57.68,10.05 L58.34,10.7 L58.99,11.36 L59.62,12.04 L60.23,12.73 L60.83,13.44 L61.41,14.16 L61.99,14.89 L62.55,15.63 L63.09,16.38 L63.63,17.13 L64.15,17.9 L64.67,18.67 L65.17,19.45 L65.66,20.24 L66.15,21.03 L66.62,21.83 L67.09,22.64 L67.55,23.44 L68,24.26 L68.44,25.07 L68.88,25.9 L69.31,26.72 L69.73,27.55 L70.15,28.38 L70.56,29.21 L70.97,30.05 L71.37,30.89 L71.77,31.74 L72.16,32.58 L72.54,33.43 L72.92,34.28 L73.3,35.13 L73.67,35.98 L74.04,36.84 L74.4,37.69 L74.76,38.55 L75.12,39.41 L75.47,40.28 L75.82,41.14 L76.16,42.01 L76.5,42.87 L76.84,43.74 L77.17,44.61 L77.5,45.48 L77.83,46.35 L78.15,47.22 L78.47,48.1 L78.79,48.97 L79.11,49.85 L79.42,50.73 L79.73,51.6 L80.03,52.48 L80.34,53.36 L80.64,54.24 L80.94,55.12 L81.24,56.01 L81.53,56.89 L81.83,57.77 L82.12,58.66 L82.41,59.54 L82.7,60.43 L82.98,61.31 L83.27,62.2 L83.55,63.09 L83.83,63.97 L84.12,64.86 L84.4,65.75 L84.68,66.63 L84.97,67.52 L85.25,68.41 L85.53,69.29 L85.82,70.18 L86.11,71.07 L86.39,71.95 L86.69,72.83 L86.98,73.72 L87.27,74.6 L87.57,75.48 L87.87,76.36 L88.18,77.24 L88.48,78.12 L88.79,79 L89.11,79.88 L89.42,80.75 L89.74,81.63 L90.06,82.5 L90.38,83.38 L90.71,84.25 L91.04,85.12 L91.36,85.99 L91.7,86.86 L92.03,87.73 L92.36,88.6 L92.7,89.47 L93.04,90.34 L93.38,91.21 L93.72,92.07 L94.06,92.94 L94.4,93.81 L94.75,94.67 L95.09,95.54 L95.44,96.4 L95.79,97.26 L96.14,98.13 L96.49,98.99 L96.84,99.85 L97.2,100.71 L97.56,101.57 L97.92,102.43 L98.28,103.29 L98.64,104.15 L99,105 L99.37,105.86 L99.74,106.71 L100.11,107.57 L100.48,108.42 L100.85,109.27 L101.23,110.13 L101.6,110.98 L101.98,111.83 L102.36,112.68 L102.73,113.53 L103.11,114.38 L103.49,115.23 L103.87,116.08 L104.25,116.93 L104.63,117.78 L105,118.63 L105.38,119.48 L105.75,120.33 L106.13,121.18 L106.5,122.03 L106.88,122.88 L107.25,123.73 L107.62,124.58 L107.99,125.44 L108.37,126.29 L108.74,127.14 L109.12,127.99 L109.49,128.84 L109.87,129.69 L110.26,130.54 L110.64,131.39 L111.03,132.23 L111.43,133.08 L111.83,133.92 L112.23,134.76 L112.64,135.6 L113.05,136.43 L113.47,137.26 L113.9,138.09 L114.33,138.92 L114.76,139.74 L115.21,140.56 L115.66,141.38 L116.11,142.19 L116.57,143 L117.04,143.81 L117.51,144.61 L117.98,145.41 L118.47,146.21 L118.95,147 L119.45,147.79 L119.94,148.58 L120.45,149.37 L120.95,150.15 L121.46,150.93 L121.98,151.7 L122.5,152.47 L123.03,153.24 L123.55,154.01 L124.09,154.77 L124.62,155.53 L125.16,156.29 L125.7,157.05 L126.25,157.8 L126.8,158.56 L127.35,159.3 L127.91,160.05 L128.46,160.8 L129.02,161.54 L129.59,162.28 L130.15,163.02 L130.72,163.76 L131.3,164.49 L131.87,165.22 L132.45,165.95 L133.03,166.68 L133.61,167.4 L134.2,168.13 L134.79,168.85 L135.39,169.56 L135.98,170.28 L136.59,170.99 L137.19,171.69 L137.8,172.4 L138.42,173.1 L139.03,173.8 L139.66,174.49 L140.29,175.18 L140.92,175.86 L141.55,176.55 L142.2,177.22 L142.84,177.89 L143.49,178.56 L144.15,179.23 L144.81,179.88 L145.48,180.54 L146.15,181.19 L146.83,181.83 L147.67,182.39 L148.47,182.87 L149.29,183.33 L150.1,183.78 L150.93,184.23 L151.76,184.66 L152.59,185.08 L153.43,185.49 L154.28,185.88 L155.13,186.27 L155.99,186.64 L156.85,187 L157.72,187.36 L158.59,187.69 L159.46,188.02 L160.34,188.34 L161.23,188.64 L162.11,188.93 L163,189.21 L163.9,189.48 L164.79,189.74 L165.69,189.98 L166.6,190.22 L167.5,190.44 L168.41,190.65 L169.32,190.86 L170.23,191.05 L171.14,191.23 L172.06,191.4 L172.97,191.57 L173.89,191.72 L174.81,191.87 L175.73,192.01 L176.65,192.14 L177.57,192.27 L178.49,192.38 L179.41,192.5 L180.33,192.6 L181.25,192.71 L182.17,192.8" class="cu"/>
<path d="M22.55,15.8 L22.62,14.82 L22.78,13.85 L23.03,12.89 L23.35,11.97 L23.75,11.07 L24.22,10.2 L24.76,9.38 L25.36,8.61 L26.02,7.88 L26.73,7.2 L27.49,6.57 L28.28,5.99 L29.11,5.47 L29.97,4.99 L30.86,4.55 L31.76,4.17 L32.68,3.82 L33.62,3.52 L34.57,3.26 L35.52,3.03 L36.49,2.84 L37.46,2.69 L38.44,2.57 L39.42,2.48 L40.4,2.43 L41.39,2.4 L42.37,2.41 L43.35,2.45 L44.33,2.52 L45.31,2.62 L46.29,2.76 L47.26,2.92 L48.23,3.11 L49.19,3.32 L50.14,3.57 L51.09,3.85 L52.02,4.16 L52.95,4.49 L53.87,4.85 L54.78,5.24 L55.67,5.66 L56.56,6.1 L57.43,6.56 L58.29,7.06 L59.13,7.57 L59.96,8.11 L60.78,8.67 L61.58,9.25 L62.37,9.85 L63.14,10.47 L63.9,11.11 L64.65,11.77 L65.38,12.44 L66.09,13.13 L66.79,13.83 L67.48,14.55 L68.15,15.27 L68.81,16.02 L69.46,16.77 L70.09,17.53 L70.71,18.3 L71.32,19.09 L71.92,19.88 L72.5,20.68 L73.08,21.49 L73.64,22.3 L74.19,23.13 L74.72,23.96 L75.25,24.8 L75.77,25.64 L76.28,26.49 L76.78,27.34 L77.26,28.2 L77.74,29.07 L78.21,29.94 L78.67,30.81 L79.13,31.69 L79.58,32.57 L80.02,33.46 L80.45,34.34 L80.88,35.23 L81.31,36.12 L81.74,37.01 L82.16,37.9 L82.58,38.8 L83,39.69 L83.42,40.58 L83.84,41.47 L84.26,42.36 L84.69,43.25 L85.11,44.14 L85.54,45.03 L85.96,45.92 L86.39,46.81 L86.82,47.7 L87.25,48.59 L87.68,49.48 L88.11,50.37 L88.54,51.25 L88.97,52.14 L89.39,53.04 L89.82,53.93 L90.24,54.82 L90.66,55.71 L91.07,56.61 L91.48,57.51 L91.89,58.41 L92.3,59.31 L92.7,60.21 L93.09,61.12 L93.48,62.02 L93.87,62.93 L94.26,63.84 L94.64,64.75 L95.01,65.66 L95.39,66.58 L95.76,67.49 L96.12,68.41 L96.49,69.33 L96.85,70.25 L97.21,71.17 L97.57,72.09 L97.93,73.01 L98.29,73.93 L98.65,74.85 L99,75.77 L99.36,76.69 L99.71,77.61 L100.07,78.53 L100.43,79.46 L100.79,80.38 L101.15,81.3 L101.51,82.22 L101.87,83.14 L102.24,84.05 L102.6,84.97 L102.97,85.89 L103.34,86.81 L103.71,87.72 L104.09,88.64 L104.47,89.55 L104.85,90.46 L105.24,91.37 L105.62,92.28 L106.02,93.19 L106.41,94.09 L106.82,94.99 L107.22,95.9 L107.63,96.8 L108.05,97.69 L108.47,98.59 L108.89,99.48 L109.33,100.37 L109.76,101.26 L110.2,102.14 L110.65,103.03 L111.1,103.91 L111.56,104.78 L112.02,105.66 L112.49,106.53 L112.96,107.4 L113.43,108.27 L113.91,109.14 L114.39,110 L114.88,110.86 L115.36,111.73 L115.85,112.59 L116.34,113.44 L116.83,114.3 L117.33,115.16 L117.82,116.02 L118.31,116.87 L118.8,117.73 L119.3,118.58 L119.79,119.44 L120.28,120.29 L120.77,121.15 L121.27,122 L121.76,122.86 L122.25,123.71 L122.74,124.57 L123.23,125.42 L123.72,126.27 L124.22,127.13 L124.71,127.98 L125.21,128.83 L125.71,129.68 L126.21,130.53 L126.72,131.37 L127.23,132.21 L127.74,133.06 L128.26,133.9 L128.78,134.73 L129.31,135.56 L129.84,136.39 L130.37,137.22 L130.92,138.04 L131.47,138.86 L132.02,139.67 L132.58,140.48 L133.15,141.29 L133.73,142.09 L134.31,142.88 L134.9,143.67 L135.5,144.45 L136.1,145.23 L136.71,146 L137.33,146.77 L137.96,147.53 L138.59,148.29 L139.23,149.04 L139.87,149.78 L140.52,150.52 L141.18,151.25 L141.84,151.98 L142.5,152.7 L143.17,153.42 L143.85,154.14 L144.53,154.85 L145.21,155.55 L145.9,156.25 L146.59,156.95 L147.28,157.65 L147.98,158.34 L148.68,159.03 L149.38,159.71 L150.09,160.39 L150.81,161.06 L151.52,161.74 L152.25,162.4 L152.97,163.06 L153.7,163.72 L154.44,164.37 L155.18,165.02 L155.93,165.66 L156.68,166.3 L157.44,166.93 L158.2,167.55 L158.97,168.17 L159.75,168.78 L160.53,169.38 L161.32,169.97 L162.12,170.56 L162.92,171.14 L163.73,171.7 L164.54,172.27 L165.37,172.82 L166.19,173.36 L167.03,173.9 L167.87,174.42 L168.72,174.93 L169.57,175.44 L170.43,175.94 L171.29,176.42 L172.16,176.9 L173.04,177.36 L173.92,177.82 L174.81,178.26 L175.7,178.7 L176.6,179.12 L177.5,179.54 L178.41,179.94 L179.32,180.34 L180.24,180.72 L181.16,181.09 L182.08,181.45 L183.01,181.8 L183.94,182.15 L184.88,182.48 L185.82,182.8 L186.76,183.11 L187.7,183.41 L188.65,183.7 L189.6,183.98 L190.56,184.25 L191.51,184.51 L192.47,184.76 L193.43,185 L194.4,185.23 L195.36,185.46 L196.33,185.67 L197.3,185.88 L198.27,186.08 L199.24,186.27 L200.21,186.46 L201.18,186.63 L202.16,186.81 L203.13,186.97 L204.11,187.13 L205.08,187.28 L206.06,187.43 L207.04,187.58 L208.02,187.71 L208.99,187.85 L209.97,187.98 L210.95,188.11 L211.93,188.23 L212.91,188.35 L213.89,188.47" class="cb"/>
<path d="M22.55,15.8 L22.62,14.82 L22.78,13.85 L23.03,12.89 L23.35,11.97 L23.75,11.07 L24.22,10.2 L24.76,9.38 L25.36,8.61 L26.02,7.88 L26.73,7.2 L27.49,6.57 L28.28,5.99 L29.11,5.47 L29.97,4.99 L30.86,4.55 L31.76,4.17 L32.68,3.82 L33.62,3.52 L34.57,3.26 L35.52,3.03 L36.49,2.84 L37.46,2.69 L38.44,2.57 L39.42,2.48 L40.4,2.43 L41.39,2.4 L42.37,2.41 L43.35,2.45 L44.33,2.52 L45.31,2.62 L46.29,2.76 L47.26,2.92 L48.23,3.11 L49.19,3.32 L50.14,3.57 L51.09,3.85 L52.02,4.16 L52.95,4.49 L53.87,4.85 L54.78,5.24 L55.67,5.66 L56.56,6.1 L57.43,6.56 L58.29,7.06 L59.13,7.57 L59.96,8.11 L60.78,8.67 L61.58,9.25 L62.37,9.85 L63.14,10.47 L63.9,11.11 L64.65,11.77 L65.38,12.44 L66.09,13.13 L66.79,13.83 L67.48,14.55 L68.15,15.27 L68.81,16.02 L69.46,16.77 L70.09,17.53 L70.71,18.3 L71.32,19.09 L71.92,19.88 L72.5,20.68 L73.08,21.49 L73.64,22.3 L74.19,23.13 L74.72,23.96 L75.25,24.8 L75.77,25.64 L76.28,26.49 L76.78,27.34 L77.26,28.2 L77.74,29.07 L78.21,29.94 L78.67,30.81 L79.13,31.69 L79.58,32.57 L80.02,33.46 L80.45,34.34 L80.88,35.23 L81.31,36.12 L81.74,37.01 L82.16,37.9 L82.58,38.8 L83,39.69 L83.42,40.58 L83.84,41.47 L84.26,42.36 L84.69,43.25 L85.11,44.14 L85.54,45.03 L85.96,45.92 L86.39,46.81 L86.82,47.7 L87.25,48.59 L87.68,49.48 L88.11,50.37 L88.54,51.25 L88.97,52.14 L89.39,53.04 L89.82,53.93 L90.24,54.82 L90.66,55.71 L91.07,56.61 L91.48,57.51 L91.89,58.41 L92.3,59.31 L92.7,60.21 L93.09,61.12 L93.48,62.02 L93.87,62.93 L94.26,63.84 L94.64,64.75 L95.01,65.66 L95.39,66.58 L95.76,67.49 L96.12,68.41 L96.49,69.33 L96.85,70.25 L97.21,71.17 L97.57,72.09 L97.93,73.01 L98.29,73.93 L98.65,74.85 L99,75.77 L99.36,76.69 L99.71,77.61 L100.07,78.53 L100.43,79.46 L100.79,80.38 L101.15,81.3 L101.51,82.22 L101.87,83.14 L102.24,84.05 L102.6,84.97 L102.97,85.89 L103.34,86.81 L103.71,87.72 L104.09,88.64 L104.47,89.55 L104.85,90.46 L105.24,91.37 L105.62,92.28 L106.02,93.19 L106.41,94.09 L106.82,94.99 L107.22,95.9 L107.63,96.8 L108.05,97.69 L108.47,98.59 L108.89,99.48 L109.33,100.37 L109.76,101.26 L110.2,102.14 L110.65,103.03 L111.1,103.91 L111.56,104.78 L112.02,105.66 L112.49,106.53 L112.96,107.4 L113.43,108.27 L113.91,109.14 L114.39,110 L114.88,110.86 L115.36,111.73 L115.85,112.59 L116.34,113.44 L116.83,114.3 L117.33,115.16 L117.82,116.02 L118.31,116.87 L118.8,117.73 L119.3,118.58 L119.79,119.44 L120.28,120.29 L120.77,121.15 L121.27,122 L121.76,122.86 L122.25,123.71 L122.74,124.57 L123.23,125.42 L123.72,126.27 L124.22,127.13 L124.71,127.98 L125.21,128.83 L125.71,129.68 L126.21,130.53 L126.72,131.37 L127.23,132.21 L127.74,133.06 L128.26,133.9 L128.78,134.73 L129.31,135.56 L129.84,136.39 L130.37,137.22 L130.92,138.04 L131.47,138.86 L132.02,139.67 L132.58,140.48 L133.15,141.29 L133.73,142.09 L134.31,142.88 L134.9,143.67 L135.5,144.45 L136.1,145.23 L136.71,146 L137.33,146.77 L137.96,147.53 L138.59,148.29 L139.23,149.04 L139.87,149.78 L140.52,150.52 L141.18,151.25 L141.84,151.98 L142.5,152.7 L143.17,153.42 L143.85,154.14 L144.53,154.85 L145.21,155.55 L145.9,156.25 L146.59,156.95 L147.28,157.65 L147.98,158.34 L148.68,159.03 L149.38,159.71 L150.09,160.39 L150.81,161.06 L151.52,161.74 L152.25,162.4 L152.97,163.06 L153.7,163.72 L154.44,164.37 L155.18,165.02 L155.93,165.66 L156.68,166.3 L157.44,166.93 L158.2,167.55 L158.97,168.17 L159.75,168.78 L160.53,169.38 L161.32,169.97 L162.12,170.56 L162.92,171.14 L163.73,171.7 L164.54,172.27 L165.37,172.82 L166.19,173.36 L167.03,173.9 L167.87,174.42 L168.72,174.93 L169.57,175.44 L170.43,175.94 L171.29,176.42 L172.16,176.9 L173.04,177.36 L173.92,177.82 L174.81,178.26 L175.7,178.7 L176.6,179.12 L177.5,179.54 L178.41,179.94 L179.32,180.34 L180.24,180.72 L181.16,181.09 L182.08,181.45 L183.01,181.8 L183.94,182.15 L184.88,182.48 L185.82,182.8 L186.76,183.11 L187.7,183.41 L188.65,183.7 L189.6,183.98 L190.56,184.25 L191.51,184.51 L192.47,184.76 L193.43,185 L194.4,185.23 L195.36,185.46 L196.33,185.67 L197.3,185.88 L198.27,186.08 L199.24,186.27 L200.21,186.46 L201.18,186.63 L202.16,186.81 L203.13,186.97 L204.11,187.13 L205.08,187.28 L206.06,187.43 L207.04,187.58 L208.02,187.71 L208.99,187.85 L209.97,187.98 L210.95,188.11 L211.93,188.23 L212.91,188.35 L213.89,188.47" class="cu"/>
<rect x="46.7" y="155.7" width="15.9" height="5.4" fill="#fff"/>
<text x="47.2" y="160.3" class="el" textLength="14.5" lengthAdjust="spacingAndGlyphs">6 MeV-</text>
<rect x="66.4" y="155.7" width="15.2" height="5.4" fill="#fff"/>
<text x="66.9" y="160.3" class="el" textLength="13.8" lengthAdjust="spacingAndGlyphs">9 MeV-</text>
<rect x="85.7" y="155.7" width="16.7" height="5.4" fill="#fff"/>
<text x="86.2" y="160.3" class="el" textLength="15.3" lengthAdjust="spacingAndGlyphs">12 MeV-</text>
<rect x="106.8" y="155.7" width="17" height="5.4" fill="#fff"/>
<text x="107.3" y="160.3" class="el" textLength="15.6" lengthAdjust="spacingAndGlyphs">16 MeV-</text>
<rect x="128.8" y="155.7" width="17.5" height="5.4" fill="#fff"/>
<text x="129.3" y="160.3" class="el" textLength="16.1" lengthAdjust="spacingAndGlyphs">20 MeV-</text>
<line x1="256.5" y1="180.52" x2="447.8" y2="180.52" class="g"/>
<line x1="256.5" y1="160.74" x2="447.8" y2="160.74" class="g"/>
<line x1="256.5" y1="140.96" x2="447.8" y2="140.96" class="g"/>
<line x1="256.5" y1="121.18" x2="447.8" y2="121.18" class="g"/>
<line x1="256.5" y1="101.4" x2="447.8" y2="101.4" class="g"/>
<line x1="256.5" y1="81.62" x2="447.8" y2="81.62" class="g"/>
<line x1="256.5" y1="61.84" x2="447.8" y2="61.84" class="g"/>
<line x1="256.5" y1="42.06" x2="447.8" y2="42.06" class="g"/>
<line x1="256.5" y1="22.28" x2="447.8" y2="22.28" class="g"/>
<line x1="256.5" y1="2.5" x2="447.8" y2="2.5" class="g"/>
<line x1="256.5" y1="2.5" x2="256.5" y2="200.3" class="ax"/>
<line x1="256.5" y1="200.3" x2="447.8" y2="200.3" class="ax"/>
<text x="251.9" y="202.3" class="tk" text-anchor="end">0</text>
<text x="251.9" y="182.52" class="tk" text-anchor="end">10</text>
<text x="251.9" y="162.74" class="tk" text-anchor="end">20</text>
<text x="251.9" y="142.96" class="tk" text-anchor="end">30</text>
<text x="251.9" y="123.18" class="tk" text-anchor="end">40</text>
<text x="251.9" y="103.4" class="tk" text-anchor="end">50</text>
<text x="251.9" y="83.62" class="tk" text-anchor="end">60</text>
<text x="251.9" y="63.84" class="tk" text-anchor="end">70</text>
<text x="251.9" y="44.06" class="tk" text-anchor="end">80</text>
<text x="251.9" y="24.28" class="tk" text-anchor="end">90</text>
<text x="251.9" y="5.3" class="tk" text-anchor="end">100</text>
<text x="256.5" y="209.8" class="tk" text-anchor="middle">0</text>
<text x="288.38" y="209.8" class="tk" text-anchor="middle">2</text>
<text x="320.27" y="209.8" class="tk" text-anchor="middle">4</text>
<text x="352.15" y="209.8" class="tk" text-anchor="middle">6</text>
<text x="384.03" y="209.8" class="tk" text-anchor="middle">8</text>
<text x="415.92" y="209.8" class="tk" text-anchor="middle">10</text>
<text x="447.8" y="209.8" class="tk" text-anchor="middle">12</text>
<text class="ttl" text-anchor="middle" textLength="34" lengthAdjust="spacingAndGlyphs" transform="translate(238.7,101.4) rotate(-90)">Percent Dose</text>
<text x="352.15" y="219.3" class="ttl" text-anchor="middle" textLength="29.7" lengthAdjust="spacingAndGlyphs">Depth (cm)</text>
<rect x="440.8" y="-0.4" width="14.2" height="15" fill="#fff"/>
<text class="let" transform="translate(445,12.6) scale(1.0,1)">b</text>
<line x1="400" y1="38.6" x2="416.6" y2="38.6" class="lgb"/>
<line x1="400" y1="56.1" x2="416.6" y2="56.1" class="lgr"/>
<text x="418.3" y="40.2" class="lg" textLength="25.6" lengthAdjust="spacingAndGlyphs">Cerrobend</text>
<text x="418.3" y="57.7" class="lg" textLength="17" lengthAdjust="spacingAndGlyphs">Copper</text>
<path d="M256.52,55.72 L257.28,55.29 L257.97,54.4 L258.56,53.38 L259.08,52.31 L259.55,51.2 L259.99,50.07 L260.4,48.93 L260.8,47.79 L261.19,46.63 L261.56,45.48 L261.93,44.32 L262.29,43.15 L262.65,41.99 L263.01,40.82 L263.37,39.65 L263.73,38.49 L264.09,37.32 L264.46,36.15 L264.82,34.98 L265.19,33.82 L265.56,32.65 L265.94,31.49 L266.31,30.32 L266.69,29.16 L267.07,27.99 L267.45,26.83 L267.83,25.66 L268.21,24.5 L268.59,23.34 L268.97,22.18 L269.35,21.01 L269.73,19.85 L270.1,18.69 L270.48,17.53 L270.86,16.37 L271.24,15.22 L271.62,14.06 L272.01,12.91 L272.41,11.77 L272.82,10.63 L273.24,9.49 L273.69,8.37 L274.16,7.27 L274.68,6.19 L275.24,5.15 L275.89,4.18 L276.66,3.37 L277.55,2.9 L278.5,3.07 L279.35,3.76 L280.06,4.69 L280.67,5.73 L281.19,6.82 L281.66,7.94 L282.09,9.08 L282.48,10.24 L282.84,11.4 L283.18,12.58 L283.5,13.76 L283.8,14.94 L284.09,16.13 L284.36,17.32 L284.62,18.52 L284.87,19.72 L285.1,20.92 L285.33,22.12 L285.55,23.32 L285.76,24.53 L285.96,25.73 L286.16,26.94 L286.35,28.15 L286.54,29.36 L286.72,30.57 L286.9,31.78 L287.07,32.99 L287.24,34.2 L287.41,35.41 L287.57,36.62 L287.73,37.83 L287.88,39.05 L288.04,40.26 L288.19,41.47 L288.34,42.69 L288.48,43.9 L288.63,45.11 L288.77,46.33 L288.91,47.54 L289.05,48.76 L289.18,49.97 L289.32,51.19 L289.45,52.4 L289.58,53.62 L289.71,54.84 L289.83,56.05 L289.96,57.27 L290.08,58.49 L290.2,59.7 L290.32,60.92 L290.43,62.14 L290.55,63.35 L290.66,64.57 L290.77,65.79 L290.88,67.01 L290.99,68.22 L291.1,69.44 L291.2,70.66 L291.31,71.88 L291.41,73.1 L291.52,74.31 L291.62,75.53 L291.72,76.75 L291.83,77.97 L291.93,79.19 L292.03,80.41 L292.14,81.62 L292.24,82.84 L292.34,84.06 L292.45,85.28 L292.56,86.5 L292.66,87.71 L292.77,88.93 L292.87,90.15 L292.98,91.37 L293.09,92.59 L293.2,93.8 L293.31,95.02 L293.42,96.24 L293.53,97.46 L293.64,98.67 L293.76,99.89 L293.87,101.11 L293.98,102.33 L294.1,103.54 L294.21,104.76 L294.33,105.98 L294.45,107.19 L294.56,108.41 L294.68,109.63 L294.79,110.85 L294.91,112.06 L295.03,113.28 L295.14,114.5 L295.26,115.72 L295.37,116.93 L295.48,118.15 L295.59,119.37 L295.71,120.59 L295.82,121.8 L295.93,123.02 L296.03,124.24 L296.14,125.46 L296.25,126.67 L296.35,127.89 L296.46,129.11 L296.56,130.33 L296.67,131.55 L296.77,132.77 L296.87,133.98 L296.97,135.2 L297.08,136.42 L297.18,137.64 L297.28,138.86 L297.38,140.08 L297.49,141.3 L297.59,142.51 L297.69,143.73 L297.8,144.95 L297.9,146.17 L298.01,147.39 L298.11,148.61 L298.22,149.82 L298.33,151.04 L298.43,152.26 L298.54,153.48 L298.66,154.7 L298.77,155.92 L298.88,157.13 L299,158.35 L299.12,159.57 L299.24,160.79 L299.37,162 L299.49,163.22 L299.62,164.44 L299.76,165.65 L299.9,166.87 L300.05,168.09 L300.2,169.3 L300.36,170.51 L300.52,171.73 L300.69,172.94 L300.87,174.15 L301.06,175.36 L301.25,176.57 L301.46,177.78 L301.67,178.99 L301.9,180.2 L302.13,181.4 L302.38,182.6 L302.64,183.8 L302.91,185 L303.2,186.19 L303.51,187.38 L303.84,188.57 L304.2,189.75 L304.59,190.92 L305.02,192.07 L305.51,193.21 L306.06,194.33 L306.72,195.39 L307.5,196.38 L308.45,197.22 L309.55,197.86 L310.74,198.26 L311.97,198.47 L313.2,198.57 L314.43,198.61 L315.66,198.62 L316.88,198.62 L318.1,198.61 L319.33,198.61 L320.55,198.6 L321.77,198.6 L323,198.59 L324.22,198.59 L325.44,198.58 L326.66,198.58 L327.89,198.57 L329.11,198.57 L330.33,198.57 L331.55,198.56 L332.78,198.56 L334,198.55 L335.22,198.55 L336.44,198.54 L337.67,198.54 L338.89,198.53 L340.11,198.52 L341.34,198.52 L342.56,198.51 L343.78,198.5 L345,198.5 L346.23,198.49 L347.45,198.49 L348.67,198.48 L349.89,198.48 L351.12,198.47 L352.34,198.47 L353.56,198.47 L354.78,198.46 L356.01,198.46 L357.23,198.46 L358.45,198.46 L359.67,198.46 L360.9,198.46 L362.12,198.46 L363.34,198.46 L364.57,198.46 L365.79,198.46 L367.01,198.46 L368.23,198.46 L369.46,198.46 L370.68,198.46 L371.9,198.46 L373.12,198.46 L374.35,198.46 L375.57,198.46 L376.79,198.46 L378.01,198.47 L379.24,198.47 L380.46,198.47 L381.68,198.47 L382.91,198.47 L384.13,198.48 L385.35,198.48 L386.57,198.48 L387.8,198.49 L389.02,198.49 L390.24,198.49 L391.46,198.49 L392.69,198.5 L393.91,198.5 L395.13,198.5 L396.35,198.5 L397.58,198.5 L398.8,198.5 L400.02,198.51 L401.24,198.51 L402.47,198.51 L403.69,198.51 L404.91,198.51 L406.14,198.51 L407.36,198.51 L408.58,198.51 L409.8,198.51 L411.03,198.51 L412.25,198.51 L413.47,198.51 L414.69,198.51 L415.92,198.51" class="cb"/>
<path d="M256.52,55.72 L257.28,55.29 L257.97,54.4 L258.56,53.38 L259.08,52.31 L259.55,51.2 L259.99,50.07 L260.4,48.93 L260.8,47.79 L261.19,46.63 L261.56,45.48 L261.93,44.32 L262.29,43.15 L262.65,41.99 L263.01,40.82 L263.37,39.65 L263.73,38.49 L264.09,37.32 L264.46,36.15 L264.82,34.98 L265.19,33.82 L265.56,32.65 L265.94,31.49 L266.31,30.32 L266.69,29.16 L267.07,27.99 L267.45,26.83 L267.83,25.66 L268.21,24.5 L268.59,23.34 L268.97,22.18 L269.35,21.01 L269.73,19.85 L270.1,18.69 L270.48,17.53 L270.86,16.37 L271.24,15.22 L271.62,14.06 L272.01,12.91 L272.41,11.77 L272.82,10.63 L273.24,9.49 L273.69,8.37 L274.16,7.27 L274.68,6.19 L275.24,5.15 L275.89,4.18 L276.66,3.37 L277.55,2.9 L278.5,3.07 L279.35,3.76 L280.06,4.69 L280.67,5.73 L281.19,6.82 L281.66,7.94 L282.09,9.08 L282.48,10.24 L282.84,11.4 L283.18,12.58 L283.5,13.76 L283.8,14.94 L284.09,16.13 L284.36,17.32 L284.62,18.52 L284.87,19.72 L285.1,20.92 L285.33,22.12 L285.55,23.32 L285.76,24.53 L285.96,25.73 L286.16,26.94 L286.35,28.15 L286.54,29.36 L286.72,30.57 L286.9,31.78 L287.07,32.99 L287.24,34.2 L287.41,35.41 L287.57,36.62 L287.73,37.83 L287.88,39.05 L288.04,40.26 L288.19,41.47 L288.34,42.69 L288.48,43.9 L288.63,45.11 L288.77,46.33 L288.91,47.54 L289.05,48.76 L289.18,49.97 L289.32,51.19 L289.45,52.4 L289.58,53.62 L289.71,54.84 L289.83,56.05 L289.96,57.27 L290.08,58.49 L290.2,59.7 L290.32,60.92 L290.43,62.14 L290.55,63.35 L290.66,64.57 L290.77,65.79 L290.88,67.01 L290.99,68.22 L291.1,69.44 L291.2,70.66 L291.31,71.88 L291.41,73.1 L291.52,74.31 L291.62,75.53 L291.72,76.75 L291.83,77.97 L291.93,79.19 L292.03,80.41 L292.14,81.62 L292.24,82.84 L292.34,84.06 L292.45,85.28 L292.56,86.5 L292.66,87.71 L292.77,88.93 L292.87,90.15 L292.98,91.37 L293.09,92.59 L293.2,93.8 L293.31,95.02 L293.42,96.24 L293.53,97.46 L293.64,98.67 L293.76,99.89 L293.87,101.11 L293.98,102.33 L294.1,103.54 L294.21,104.76 L294.33,105.98 L294.45,107.19 L294.56,108.41 L294.68,109.63 L294.79,110.85 L294.91,112.06 L295.03,113.28 L295.14,114.5 L295.26,115.72 L295.37,116.93 L295.48,118.15 L295.59,119.37 L295.71,120.59 L295.82,121.8 L295.93,123.02 L296.03,124.24 L296.14,125.46 L296.25,126.67 L296.35,127.89 L296.46,129.11 L296.56,130.33 L296.67,131.55 L296.77,132.77 L296.87,133.98 L296.97,135.2 L297.08,136.42 L297.18,137.64 L297.28,138.86 L297.38,140.08 L297.49,141.3 L297.59,142.51 L297.69,143.73 L297.8,144.95 L297.9,146.17 L298.01,147.39 L298.11,148.61 L298.22,149.82 L298.33,151.04 L298.43,152.26 L298.54,153.48 L298.66,154.7 L298.77,155.92 L298.88,157.13 L299,158.35 L299.12,159.57 L299.24,160.79 L299.37,162 L299.49,163.22 L299.62,164.44 L299.76,165.65 L299.9,166.87 L300.05,168.09 L300.2,169.3 L300.36,170.51 L300.52,171.73 L300.69,172.94 L300.87,174.15 L301.06,175.36 L301.25,176.57 L301.46,177.78 L301.67,178.99 L301.9,180.2 L302.13,181.4 L302.38,182.6 L302.64,183.8 L302.91,185 L303.2,186.19 L303.51,187.38 L303.84,188.57 L304.2,189.75 L304.59,190.92 L305.02,192.07 L305.51,193.21 L306.06,194.33 L306.72,195.39 L307.5,196.38 L308.45,197.22 L309.55,197.86 L310.74,198.26 L311.97,198.47 L313.2,198.57 L314.43,198.61 L315.66,198.62 L316.88,198.62 L318.1,198.61 L319.33,198.61 L320.55,198.6 L321.77,198.6 L323,198.59 L324.22,198.59 L325.44,198.58 L326.66,198.58 L327.89,198.57 L329.11,198.57 L330.33,198.57 L331.55,198.56 L332.78,198.56 L334,198.55 L335.22,198.55 L336.44,198.54 L337.67,198.54 L338.89,198.53 L340.11,198.52 L341.34,198.52 L342.56,198.51 L343.78,198.5 L345,198.5 L346.23,198.49 L347.45,198.49 L348.67,198.48 L349.89,198.48 L351.12,198.47 L352.34,198.47 L353.56,198.47 L354.78,198.46 L356.01,198.46 L357.23,198.46 L358.45,198.46 L359.67,198.46 L360.9,198.46 L362.12,198.46 L363.34,198.46 L364.57,198.46 L365.79,198.46 L367.01,198.46 L368.23,198.46 L369.46,198.46 L370.68,198.46 L371.9,198.46 L373.12,198.46 L374.35,198.46 L375.57,198.46 L376.79,198.46 L378.01,198.47 L379.24,198.47 L380.46,198.47 L381.68,198.47 L382.91,198.47 L384.13,198.48 L385.35,198.48 L386.57,198.48 L387.8,198.49 L389.02,198.49 L390.24,198.49 L391.46,198.49 L392.69,198.5 L393.91,198.5 L395.13,198.5 L396.35,198.5 L397.58,198.5 L398.8,198.5 L400.02,198.51 L401.24,198.51 L402.47,198.51 L403.69,198.51 L404.91,198.51 L406.14,198.51 L407.36,198.51 L408.58,198.51 L409.8,198.51 L411.03,198.51 L412.25,198.51 L413.47,198.51 L414.69,198.51 L415.92,198.51" class="cu"/>
<path d="M256.24,43.11 L256.79,42.14 L257.33,41.14 L257.87,40.14 L258.4,39.14 L258.94,38.14 L259.49,37.14 L260.03,36.15 L260.58,35.15 L261.14,34.16 L261.7,33.17 L262.26,32.18 L262.83,31.2 L263.4,30.22 L263.98,29.24 L264.57,28.27 L265.16,27.3 L265.76,26.33 L266.37,25.37 L266.98,24.41 L267.6,23.46 L268.23,22.51 L268.86,21.57 L269.5,20.63 L270.15,19.7 L270.8,18.77 L271.47,17.85 L272.14,16.93 L272.82,16.02 L273.5,15.12 L274.2,14.23 L274.9,13.35 L275.62,12.47 L276.34,11.6 L277.08,10.75 L277.83,9.91 L278.6,9.09 L279.38,8.28 L280.18,7.5 L281.01,6.75 L281.85,6.03 L282.73,5.35 L283.63,4.72 L284.57,4.17 L285.54,3.7 L286.55,3.35 L287.57,3.14 L288.59,3.12 L289.59,3.29 L290.53,3.66 L291.41,4.2 L292.22,4.87 L292.95,5.65 L293.62,6.5 L294.22,7.41 L294.77,8.36 L295.27,9.34 L295.74,10.35 L296.16,11.37 L296.56,12.41 L296.94,13.47 L297.28,14.53 L297.61,15.6 L297.93,16.68 L298.22,17.76 L298.51,18.84 L298.79,19.93 L299.06,21.02 L299.32,22.12 L299.58,23.21 L299.84,24.31 L300.09,25.4 L300.34,26.5 L300.6,27.6 L300.85,28.7 L301.1,29.8 L301.35,30.91 L301.59,32.01 L301.84,33.11 L302.08,34.22 L302.33,35.32 L302.57,36.43 L302.8,37.54 L303.04,38.65 L303.27,39.75 L303.5,40.87 L303.72,41.98 L303.94,43.09 L304.15,44.2 L304.36,45.32 L304.57,46.43 L304.78,47.55 L304.98,48.67 L305.18,49.78 L305.37,50.9 L305.56,52.02 L305.75,53.14 L305.93,54.26 L306.12,55.38 L306.3,56.5 L306.48,57.62 L306.65,58.74 L306.83,59.86 L307,60.99 L307.18,62.11 L307.35,63.23 L307.52,64.35 L307.69,65.48 L307.85,66.6 L308.02,67.72 L308.19,68.85 L308.35,69.97 L308.52,71.1 L308.68,72.22 L308.84,73.34 L309,74.47 L309.16,75.59 L309.32,76.72 L309.47,77.84 L309.63,78.97 L309.78,80.1 L309.93,81.22 L310.08,82.35 L310.23,83.47 L310.38,84.6 L310.53,85.73 L310.67,86.85 L310.82,87.98 L310.96,89.11 L311.11,90.23 L311.25,91.36 L311.39,92.49 L311.54,93.62 L311.68,94.74 L311.82,95.87 L311.96,97 L312.1,98.12 L312.25,99.25 L312.39,100.38 L312.53,101.51 L312.68,102.63 L312.82,103.76 L312.97,104.89 L313.11,106.01 L313.26,107.14 L313.4,108.27 L313.55,109.39 L313.7,110.52 L313.85,111.65 L314,112.77 L314.15,113.9 L314.3,115.03 L314.45,116.15 L314.6,117.28 L314.75,118.4 L314.9,119.53 L315.05,120.66 L315.2,121.78 L315.35,122.91 L315.5,124.03 L315.66,125.16 L315.81,126.29 L315.96,127.41 L316.1,128.54 L316.25,129.66 L316.4,130.79 L316.55,131.92 L316.69,133.04 L316.84,134.17 L316.98,135.29 L317.12,136.42 L317.26,137.55 L317.4,138.68 L317.54,139.8 L317.67,140.93 L317.8,142.06 L317.94,143.18 L318.07,144.31 L318.2,145.44 L318.32,146.57 L318.45,147.7 L318.58,148.82 L318.71,149.95 L318.83,151.08 L318.96,152.21 L319.09,153.34 L319.22,154.47 L319.35,155.59 L319.49,156.72 L319.62,157.85 L319.76,158.98 L319.9,160.1 L320.05,161.23 L320.2,162.35 L320.35,163.48 L320.51,164.6 L320.67,165.73 L320.84,166.85 L321.02,167.97 L321.2,169.1 L321.39,170.22 L321.58,171.33 L321.79,172.45 L322,173.57 L322.22,174.68 L322.45,175.79 L322.69,176.9 L322.95,178.01 L323.21,179.12 L323.49,180.22 L323.79,181.32 L324.1,182.41 L324.42,183.5 L324.77,184.58 L325.14,185.66 L325.53,186.72 L325.96,187.78 L326.41,188.82 L326.91,189.84 L327.45,190.84 L328.04,191.81 L328.7,192.73 L329.43,193.6 L330.24,194.39 L331.13,195.09 L332.1,195.68 L333.12,196.15 L334.2,196.51 L335.3,196.77 L336.42,196.96 L337.54,197.09 L338.67,197.17 L339.81,197.23 L340.94,197.27 L342.08,197.29 L343.21,197.31 L344.35,197.31 L345.48,197.32 L346.62,197.32 L347.76,197.32 L348.89,197.32 L350.03,197.32 L351.16,197.32 L352.3,197.31 L353.44,197.31 L354.57,197.31 L355.71,197.31 L356.84,197.31 L357.98,197.31 L359.12,197.3 L360.25,197.3 L361.39,197.3 L362.52,197.3 L363.66,197.3 L364.8,197.3 L365.93,197.3 L367.07,197.31 L368.2,197.31 L369.34,197.31 L370.48,197.31 L371.61,197.31 L372.75,197.31 L373.88,197.32 L375.02,197.32 L376.16,197.33 L377.29,197.33 L378.43,197.34 L379.56,197.35 L380.7,197.36 L381.84,197.36 L382.97,197.37 L384.11,197.38 L385.24,197.39 L386.38,197.4 L387.52,197.41 L388.65,197.42 L389.79,197.43 L390.92,197.44 L392.06,197.45 L393.2,197.46 L394.33,197.46 L395.47,197.47 L396.6,197.47 L397.74,197.48 L398.88,197.48 L400.01,197.49 L401.15,197.49 L402.28,197.49 L403.42,197.49 L404.56,197.49 L405.69,197.5 L406.83,197.5 L407.96,197.5 L409.1,197.5 L410.24,197.5 L411.37,197.5 L412.51,197.5 L413.64,197.5 L414.78,197.5 L415.92,197.5" class="cb"/>
<path d="M256.24,43.11 L256.79,42.14 L257.33,41.14 L257.87,40.14 L258.4,39.14 L258.94,38.14 L259.49,37.14 L260.03,36.15 L260.58,35.15 L261.14,34.16 L261.7,33.17 L262.26,32.18 L262.83,31.2 L263.4,30.22 L263.98,29.24 L264.57,28.27 L265.16,27.3 L265.76,26.33 L266.37,25.37 L266.98,24.41 L267.6,23.46 L268.23,22.51 L268.86,21.57 L269.5,20.63 L270.15,19.7 L270.8,18.77 L271.47,17.85 L272.14,16.93 L272.82,16.02 L273.5,15.12 L274.2,14.23 L274.9,13.35 L275.62,12.47 L276.34,11.6 L277.08,10.75 L277.83,9.91 L278.6,9.09 L279.38,8.28 L280.18,7.5 L281.01,6.75 L281.85,6.03 L282.73,5.35 L283.63,4.72 L284.57,4.17 L285.54,3.7 L286.55,3.35 L287.57,3.14 L288.59,3.12 L289.59,3.29 L290.53,3.66 L291.41,4.2 L292.22,4.87 L292.95,5.65 L293.62,6.5 L294.22,7.41 L294.77,8.36 L295.27,9.34 L295.74,10.35 L296.16,11.37 L296.56,12.41 L296.94,13.47 L297.28,14.53 L297.61,15.6 L297.93,16.68 L298.22,17.76 L298.51,18.84 L298.79,19.93 L299.06,21.02 L299.32,22.12 L299.58,23.21 L299.84,24.31 L300.09,25.4 L300.34,26.5 L300.6,27.6 L300.85,28.7 L301.1,29.8 L301.35,30.91 L301.59,32.01 L301.84,33.11 L302.08,34.22 L302.33,35.32 L302.57,36.43 L302.8,37.54 L303.04,38.65 L303.27,39.75 L303.5,40.87 L303.72,41.98 L303.94,43.09 L304.15,44.2 L304.36,45.32 L304.57,46.43 L304.78,47.55 L304.98,48.67 L305.18,49.78 L305.37,50.9 L305.56,52.02 L305.75,53.14 L305.93,54.26 L306.12,55.38 L306.3,56.5 L306.48,57.62 L306.65,58.74 L306.83,59.86 L307,60.99 L307.18,62.11 L307.35,63.23 L307.52,64.35 L307.69,65.48 L307.85,66.6 L308.02,67.72 L308.19,68.85 L308.35,69.97 L308.52,71.1 L308.68,72.22 L308.84,73.34 L309,74.47 L309.16,75.59 L309.32,76.72 L309.47,77.84 L309.63,78.97 L309.78,80.1 L309.93,81.22 L310.08,82.35 L310.23,83.47 L310.38,84.6 L310.53,85.73 L310.67,86.85 L310.82,87.98 L310.96,89.11 L311.11,90.23 L311.25,91.36 L311.39,92.49 L311.54,93.62 L311.68,94.74 L311.82,95.87 L311.96,97 L312.1,98.12 L312.25,99.25 L312.39,100.38 L312.53,101.51 L312.68,102.63 L312.82,103.76 L312.97,104.89 L313.11,106.01 L313.26,107.14 L313.4,108.27 L313.55,109.39 L313.7,110.52 L313.85,111.65 L314,112.77 L314.15,113.9 L314.3,115.03 L314.45,116.15 L314.6,117.28 L314.75,118.4 L314.9,119.53 L315.05,120.66 L315.2,121.78 L315.35,122.91 L315.5,124.03 L315.66,125.16 L315.81,126.29 L315.96,127.41 L316.1,128.54 L316.25,129.66 L316.4,130.79 L316.55,131.92 L316.69,133.04 L316.84,134.17 L316.98,135.29 L317.12,136.42 L317.26,137.55 L317.4,138.68 L317.54,139.8 L317.67,140.93 L317.8,142.06 L317.94,143.18 L318.07,144.31 L318.2,145.44 L318.32,146.57 L318.45,147.7 L318.58,148.82 L318.71,149.95 L318.83,151.08 L318.96,152.21 L319.09,153.34 L319.22,154.47 L319.35,155.59 L319.49,156.72 L319.62,157.85 L319.76,158.98 L319.9,160.1 L320.05,161.23 L320.2,162.35 L320.35,163.48 L320.51,164.6 L320.67,165.73 L320.84,166.85 L321.02,167.97 L321.2,169.1 L321.39,170.22 L321.58,171.33 L321.79,172.45 L322,173.57 L322.22,174.68 L322.45,175.79 L322.69,176.9 L322.95,178.01 L323.21,179.12 L323.49,180.22 L323.79,181.32 L324.1,182.41 L324.42,183.5 L324.77,184.58 L325.14,185.66 L325.53,186.72 L325.96,187.78 L326.41,188.82 L326.91,189.84 L327.45,190.84 L328.04,191.81 L328.7,192.73 L329.43,193.6 L330.24,194.39 L331.13,195.09 L332.1,195.68 L333.12,196.15 L334.2,196.51 L335.3,196.77 L336.42,196.96 L337.54,197.09 L338.67,197.17 L339.81,197.23 L340.94,197.27 L342.08,197.29 L343.21,197.31 L344.35,197.31 L345.48,197.32 L346.62,197.32 L347.76,197.32 L348.89,197.32 L350.03,197.32 L351.16,197.32 L352.3,197.31 L353.44,197.31 L354.57,197.31 L355.71,197.31 L356.84,197.31 L357.98,197.31 L359.12,197.3 L360.25,197.3 L361.39,197.3 L362.52,197.3 L363.66,197.3 L364.8,197.3 L365.93,197.3 L367.07,197.31 L368.2,197.31 L369.34,197.31 L370.48,197.31 L371.61,197.31 L372.75,197.31 L373.88,197.32 L375.02,197.32 L376.16,197.33 L377.29,197.33 L378.43,197.34 L379.56,197.35 L380.7,197.36 L381.84,197.36 L382.97,197.37 L384.11,197.38 L385.24,197.39 L386.38,197.4 L387.52,197.41 L388.65,197.42 L389.79,197.43 L390.92,197.44 L392.06,197.45 L393.2,197.46 L394.33,197.46 L395.47,197.47 L396.6,197.47 L397.74,197.48 L398.88,197.48 L400.01,197.49 L401.15,197.49 L402.28,197.49 L403.42,197.49 L404.56,197.49 L405.69,197.5 L406.83,197.5 L407.96,197.5 L409.1,197.5 L410.24,197.5 L411.37,197.5 L412.51,197.5 L413.64,197.5 L414.78,197.5 L415.92,197.5" class="cu"/>
<path d="M256.32,29.46 L256.65,28.45 L257.06,27.49 L257.51,26.54 L257.99,25.62 L258.5,24.71 L259.03,23.82 L259.59,22.94 L260.16,22.07 L260.76,21.22 L261.38,20.38 L262.01,19.56 L262.67,18.75 L263.34,17.96 L264.02,17.18 L264.73,16.42 L265.45,15.68 L266.18,14.95 L266.93,14.23 L267.7,13.54 L268.47,12.86 L269.26,12.2 L270.07,11.55 L270.88,10.92 L271.71,10.31 L272.55,9.72 L273.4,9.14 L274.26,8.59 L275.13,8.05 L276.01,7.53 L276.9,7.04 L277.8,6.56 L278.72,6.11 L279.64,5.67 L280.57,5.27 L281.51,4.89 L282.46,4.54 L283.42,4.22 L284.39,3.93 L285.37,3.67 L286.36,3.46 L287.36,3.28 L288.36,3.15 L289.37,3.07 L290.38,3.03 L291.39,3.05 L292.4,3.12 L293.4,3.25 L294.4,3.44 L295.38,3.68 L296.35,3.98 L297.3,4.33 L298.23,4.74 L299.14,5.2 L300.02,5.71 L300.88,6.27 L301.7,6.87 L302.5,7.5 L303.27,8.17 L304.01,8.88 L304.73,9.61 L305.42,10.36 L306.08,11.14 L306.73,11.93 L307.35,12.74 L307.95,13.57 L308.54,14.41 L309.1,15.27 L309.66,16.13 L310.2,17 L310.73,17.88 L311.24,18.77 L311.75,19.67 L312.24,20.57 L312.73,21.48 L313.21,22.39 L313.68,23.31 L314.14,24.23 L314.59,25.16 L315.04,26.09 L315.47,27.03 L315.9,27.97 L316.33,28.92 L316.74,29.86 L317.15,30.82 L317.55,31.77 L317.94,32.73 L318.33,33.69 L318.7,34.66 L319.07,35.63 L319.44,36.6 L319.79,37.57 L320.14,38.55 L320.47,39.53 L320.81,40.52 L321.13,41.5 L321.45,42.49 L321.76,43.48 L322.06,44.47 L322.36,45.46 L322.66,46.46 L322.95,47.46 L323.23,48.46 L323.51,49.45 L323.78,50.45 L324.06,51.46 L324.33,52.46 L324.59,53.46 L324.86,54.46 L325.12,55.47 L325.38,56.47 L325.64,57.48 L325.9,58.48 L326.16,59.49 L326.42,60.49 L326.68,61.5 L326.94,62.5 L327.19,63.51 L327.45,64.51 L327.7,65.52 L327.96,66.53 L328.21,67.53 L328.46,68.54 L328.71,69.55 L328.96,70.56 L329.21,71.57 L329.46,72.57 L329.7,73.58 L329.95,74.59 L330.19,75.6 L330.43,76.61 L330.66,77.63 L330.9,78.64 L331.13,79.65 L331.37,80.66 L331.6,81.67 L331.83,82.69 L332.05,83.7 L332.28,84.71 L332.51,85.73 L332.73,86.74 L332.95,87.76 L333.17,88.77 L333.39,89.78 L333.61,90.8 L333.83,91.82 L334.04,92.83 L334.26,93.85 L334.47,94.86 L334.69,95.88 L334.9,96.9 L335.11,97.91 L335.32,98.93 L335.53,99.95 L335.74,100.96 L335.95,101.98 L336.15,103 L336.36,104.02 L336.57,105.03 L336.77,106.05 L336.98,107.07 L337.18,108.09 L337.39,109.1 L337.59,110.12 L337.8,111.14 L338,112.16 L338.2,113.18 L338.41,114.19 L338.61,115.21 L338.81,116.23 L339.01,117.25 L339.22,118.27 L339.42,119.29 L339.62,120.3 L339.82,121.32 L340.02,122.34 L340.22,123.36 L340.43,124.38 L340.63,125.39 L340.83,126.41 L341.03,127.43 L341.23,128.45 L341.44,129.47 L341.64,130.48 L341.84,131.5 L342.04,132.52 L342.25,133.54 L342.45,134.55 L342.65,135.57 L342.86,136.59 L343.06,137.61 L343.27,138.62 L343.47,139.64 L343.67,140.66 L343.88,141.67 L344.08,142.69 L344.29,143.71 L344.49,144.72 L344.7,145.74 L344.9,146.76 L345.1,147.78 L345.31,148.79 L345.51,149.81 L345.71,150.83 L345.91,151.84 L346.12,152.86 L346.32,153.88 L346.52,154.9 L346.72,155.92 L346.92,156.93 L347.13,157.95 L347.33,158.97 L347.53,159.99 L347.74,161.01 L347.95,162.02 L348.16,163.04 L348.38,164.06 L348.6,165.07 L348.83,166.09 L349.06,167.1 L349.3,168.11 L349.55,169.12 L349.81,170.13 L350.08,171.13 L350.37,172.13 L350.66,173.13 L350.96,174.13 L351.28,175.12 L351.62,176.1 L351.97,177.09 L352.33,178.06 L352.71,179.04 L353.11,180 L353.52,180.96 L353.95,181.91 L354.41,182.85 L354.88,183.78 L355.38,184.7 L355.91,185.6 L356.46,186.49 L357.05,187.36 L357.67,188.2 L358.33,189.01 L359.03,189.79 L359.77,190.53 L360.56,191.21 L361.4,191.84 L362.28,192.39 L363.21,192.87 L364.16,193.28 L365.15,193.61 L366.15,193.87 L367.17,194.08 L368.19,194.23 L369.22,194.34 L370.25,194.42 L371.29,194.47 L372.32,194.51 L373.36,194.53 L374.4,194.54 L375.43,194.55 L376.47,194.55 L377.51,194.55 L378.55,194.55 L379.58,194.54 L380.62,194.54 L381.66,194.54 L382.7,194.53 L383.74,194.53 L384.77,194.53 L385.81,194.53 L386.85,194.54 L387.89,194.54 L388.93,194.55 L389.96,194.56 L391,194.57 L392.04,194.58 L393.08,194.6 L394.12,194.61 L395.15,194.63 L396.19,194.65 L397.23,194.66 L398.27,194.68 L399.31,194.69 L400.35,194.7 L401.38,194.71 L402.42,194.72 L403.46,194.73 L404.5,194.73 L405.54,194.74 L406.57,194.74 L407.61,194.74 L408.65,194.75 L409.69,194.75 L410.73,194.75 L411.76,194.75 L412.8,194.75 L413.84,194.75 L414.88,194.75 L415.92,194.75" class="cb"/>
<path d="M256.32,29.46 L256.65,28.45 L257.06,27.49 L257.51,26.54 L257.99,25.62 L258.5,24.71 L259.03,23.82 L259.59,22.94 L260.16,22.07 L260.76,21.22 L261.38,20.38 L262.01,19.56 L262.67,18.75 L263.34,17.96 L264.02,17.18 L264.73,16.42 L265.45,15.68 L266.18,14.95 L266.93,14.23 L267.7,13.54 L268.47,12.86 L269.26,12.2 L270.07,11.55 L270.88,10.92 L271.71,10.31 L272.55,9.72 L273.4,9.14 L274.26,8.59 L275.13,8.05 L276.01,7.53 L276.9,7.04 L277.8,6.56 L278.72,6.11 L279.64,5.67 L280.57,5.27 L281.51,4.89 L282.46,4.54 L283.42,4.22 L284.39,3.93 L285.37,3.67 L286.36,3.46 L287.36,3.28 L288.36,3.15 L289.37,3.07 L290.38,3.03 L291.39,3.05 L292.4,3.12 L293.4,3.25 L294.4,3.44 L295.38,3.68 L296.35,3.98 L297.3,4.33 L298.23,4.74 L299.14,5.2 L300.02,5.71 L300.88,6.27 L301.7,6.87 L302.5,7.5 L303.27,8.17 L304.01,8.88 L304.73,9.61 L305.42,10.36 L306.08,11.14 L306.73,11.93 L307.35,12.74 L307.95,13.57 L308.54,14.41 L309.1,15.27 L309.66,16.13 L310.2,17 L310.73,17.88 L311.24,18.77 L311.75,19.67 L312.24,20.57 L312.73,21.48 L313.21,22.39 L313.68,23.31 L314.14,24.23 L314.59,25.16 L315.04,26.09 L315.47,27.03 L315.9,27.97 L316.33,28.92 L316.74,29.86 L317.15,30.82 L317.55,31.77 L317.94,32.73 L318.33,33.69 L318.7,34.66 L319.07,35.63 L319.44,36.6 L319.79,37.57 L320.14,38.55 L320.47,39.53 L320.81,40.52 L321.13,41.5 L321.45,42.49 L321.76,43.48 L322.06,44.47 L322.36,45.46 L322.66,46.46 L322.95,47.46 L323.23,48.46 L323.51,49.45 L323.78,50.45 L324.06,51.46 L324.33,52.46 L324.59,53.46 L324.86,54.46 L325.12,55.47 L325.38,56.47 L325.64,57.48 L325.9,58.48 L326.16,59.49 L326.42,60.49 L326.68,61.5 L326.94,62.5 L327.19,63.51 L327.45,64.51 L327.7,65.52 L327.96,66.53 L328.21,67.53 L328.46,68.54 L328.71,69.55 L328.96,70.56 L329.21,71.57 L329.46,72.57 L329.7,73.58 L329.95,74.59 L330.19,75.6 L330.43,76.61 L330.66,77.63 L330.9,78.64 L331.13,79.65 L331.37,80.66 L331.6,81.67 L331.83,82.69 L332.05,83.7 L332.28,84.71 L332.51,85.73 L332.73,86.74 L332.95,87.76 L333.17,88.77 L333.39,89.78 L333.61,90.8 L333.83,91.82 L334.04,92.83 L334.26,93.85 L334.47,94.86 L334.69,95.88 L334.9,96.9 L335.11,97.91 L335.32,98.93 L335.53,99.95 L335.74,100.96 L335.95,101.98 L336.15,103 L336.36,104.02 L336.57,105.03 L336.77,106.05 L336.98,107.07 L337.18,108.09 L337.39,109.1 L337.59,110.12 L337.8,111.14 L338,112.16 L338.2,113.18 L338.41,114.19 L338.61,115.21 L338.81,116.23 L339.01,117.25 L339.22,118.27 L339.42,119.29 L339.62,120.3 L339.82,121.32 L340.02,122.34 L340.22,123.36 L340.43,124.38 L340.63,125.39 L340.83,126.41 L341.03,127.43 L341.23,128.45 L341.44,129.47 L341.64,130.48 L341.84,131.5 L342.04,132.52 L342.25,133.54 L342.45,134.55 L342.65,135.57 L342.86,136.59 L343.06,137.61 L343.27,138.62 L343.47,139.64 L343.67,140.66 L343.88,141.67 L344.08,142.69 L344.29,143.71 L344.49,144.72 L344.7,145.74 L344.9,146.76 L345.1,147.78 L345.31,148.79 L345.51,149.81 L345.71,150.83 L345.91,151.84 L346.12,152.86 L346.32,153.88 L346.52,154.9 L346.72,155.92 L346.92,156.93 L347.13,157.95 L347.33,158.97 L347.53,159.99 L347.74,161.01 L347.95,162.02 L348.16,163.04 L348.38,164.06 L348.6,165.07 L348.83,166.09 L349.06,167.1 L349.3,168.11 L349.55,169.12 L349.81,170.13 L350.08,171.13 L350.37,172.13 L350.66,173.13 L350.96,174.13 L351.28,175.12 L351.62,176.1 L351.97,177.09 L352.33,178.06 L352.71,179.04 L353.11,180 L353.52,180.96 L353.95,181.91 L354.41,182.85 L354.88,183.78 L355.38,184.7 L355.91,185.6 L356.46,186.49 L357.05,187.36 L357.67,188.2 L358.33,189.01 L359.03,189.79 L359.77,190.53 L360.56,191.21 L361.4,191.84 L362.28,192.39 L363.21,192.87 L364.16,193.28 L365.15,193.61 L366.15,193.87 L367.17,194.08 L368.19,194.23 L369.22,194.34 L370.25,194.42 L371.29,194.47 L372.32,194.51 L373.36,194.53 L374.4,194.54 L375.43,194.55 L376.47,194.55 L377.51,194.55 L378.55,194.55 L379.58,194.54 L380.62,194.54 L381.66,194.54 L382.7,194.53 L383.74,194.53 L384.77,194.53 L385.81,194.53 L386.85,194.54 L387.89,194.54 L388.93,194.55 L389.96,194.56 L391,194.57 L392.04,194.58 L393.08,194.6 L394.12,194.61 L395.15,194.63 L396.19,194.65 L397.23,194.66 L398.27,194.68 L399.31,194.69 L400.35,194.7 L401.38,194.71 L402.42,194.72 L403.46,194.73 L404.5,194.73 L405.54,194.74 L406.57,194.74 L407.61,194.74 L408.65,194.75 L409.69,194.75 L410.73,194.75 L411.76,194.75 L412.8,194.75 L413.84,194.75 L414.88,194.75 L415.92,194.75" class="cu"/>
<path d="M256.5,21.4 L256.57,20.45 L256.72,19.51 L256.93,18.58 L257.2,17.67 L257.53,16.77 L257.9,15.89 L258.33,15.04 L258.8,14.21 L259.32,13.41 L259.87,12.63 L260.47,11.89 L261.11,11.18 L261.77,10.49 L262.47,9.84 L263.2,9.23 L263.95,8.64 L264.73,8.08 L265.53,7.56 L266.35,7.07 L267.18,6.6 L268.03,6.16 L268.89,5.76 L269.77,5.37 L270.65,5.02 L271.55,4.69 L272.45,4.38 L273.36,4.09 L274.28,3.83 L275.21,3.59 L276.14,3.37 L277.07,3.17 L278.01,2.99 L278.95,2.83 L279.9,2.69 L280.85,2.57 L281.8,2.47 L282.75,2.38 L283.71,2.31 L284.67,2.26 L285.62,2.23 L286.58,2.22 L287.54,2.23 L288.5,2.25 L289.46,2.3 L290.42,2.36 L291.38,2.45 L292.34,2.55 L293.3,2.68 L294.25,2.83 L295.2,3 L296.15,3.19 L297.09,3.4 L298.03,3.64 L298.96,3.89 L299.89,4.17 L300.81,4.47 L301.72,4.8 L302.63,5.14 L303.53,5.51 L304.41,5.9 L305.29,6.31 L306.16,6.74 L307.02,7.19 L307.87,7.66 L308.71,8.15 L309.53,8.65 L310.35,9.18 L311.15,9.72 L311.94,10.28 L312.72,10.86 L313.49,11.45 L314.24,12.06 L314.98,12.68 L315.71,13.32 L316.42,13.97 L317.13,14.63 L317.82,15.31 L318.49,15.99 L319.16,16.69 L319.81,17.4 L320.45,18.12 L321.07,18.86 L321.69,19.6 L322.29,20.35 L322.88,21.11 L323.45,21.88 L324.02,22.65 L324.57,23.44 L325.11,24.23 L325.64,25.03 L326.16,25.84 L326.66,26.65 L327.16,27.47 L327.64,28.29 L328.12,29.12 L328.58,29.96 L329.04,30.8 L329.49,31.64 L329.93,32.49 L330.36,33.34 L330.79,34.19 L331.21,35.04 L331.63,35.9 L332.04,36.76 L332.45,37.62 L332.86,38.48 L333.26,39.34 L333.67,40.2 L334.07,41.06 L334.46,41.92 L334.86,42.79 L335.25,43.65 L335.65,44.52 L336.04,45.38 L336.42,46.25 L336.81,47.12 L337.19,47.99 L337.57,48.86 L337.95,49.73 L338.33,50.6 L338.7,51.47 L339.07,52.35 L339.44,53.23 L339.8,54.1 L340.16,54.98 L340.52,55.86 L340.88,56.74 L341.23,57.63 L341.58,58.51 L341.93,59.4 L342.27,60.28 L342.61,61.17 L342.95,62.06 L343.29,62.95 L343.62,63.84 L343.95,64.73 L344.28,65.62 L344.61,66.52 L344.93,67.41 L345.25,68.31 L345.58,69.2 L345.89,70.1 L346.21,71 L346.53,71.9 L346.85,72.79 L347.17,73.69 L347.49,74.59 L347.81,75.48 L348.12,76.38 L348.44,77.28 L348.75,78.18 L349.07,79.08 L349.38,79.98 L349.7,80.88 L350.01,81.77 L350.32,82.67 L350.64,83.57 L350.95,84.47 L351.26,85.37 L351.57,86.27 L351.88,87.17 L352.19,88.07 L352.51,88.97 L352.82,89.88 L353.13,90.78 L353.44,91.68 L353.75,92.58 L354.05,93.48 L354.36,94.38 L354.67,95.28 L354.98,96.19 L355.29,97.09 L355.6,97.99 L355.91,98.89 L356.22,99.79 L356.53,100.7 L356.84,101.6 L357.15,102.5 L357.46,103.4 L357.78,104.3 L358.09,105.2 L358.41,106.1 L358.72,107 L359.04,107.9 L359.36,108.8 L359.68,109.7 L360,110.6 L360.33,111.5 L360.65,112.39 L360.98,113.29 L361.3,114.19 L361.63,115.08 L361.96,115.98 L362.29,116.88 L362.62,117.77 L362.95,118.67 L363.28,119.56 L363.61,120.46 L363.94,121.36 L364.26,122.25 L364.59,123.15 L364.91,124.05 L365.24,124.94 L365.56,125.84 L365.88,126.74 L366.2,127.64 L366.51,128.54 L366.83,129.44 L367.15,130.33 L367.46,131.23 L367.77,132.13 L368.09,133.03 L368.4,133.93 L368.71,134.83 L369.02,135.73 L369.34,136.63 L369.65,137.53 L369.96,138.43 L370.28,139.33 L370.6,140.23 L370.91,141.12 L371.23,142.02 L371.55,142.92 L371.87,143.81 L372.19,144.71 L372.52,145.6 L372.84,146.49 L373.17,147.39 L373.49,148.28 L373.82,149.17 L374.15,150.07 L374.48,150.96 L374.8,151.85 L375.13,152.74 L375.46,153.63 L375.79,154.52 L376.12,155.41 L376.45,156.3 L376.78,157.19 L377.12,158.08 L377.45,158.97 L377.78,159.86 L378.12,160.75 L378.46,161.64 L378.8,162.53 L379.15,163.41 L379.49,164.3 L379.85,165.18 L380.21,166.06 L380.57,166.94 L380.94,167.82 L381.32,168.69 L381.7,169.56 L382.1,170.43 L382.5,171.29 L382.92,172.15 L383.34,173.01 L383.78,173.86 L384.23,174.7 L384.69,175.54 L385.17,176.37 L385.66,177.19 L386.17,178 L386.7,178.8 L387.25,179.59 L387.81,180.37 L388.39,181.13 L389,181.88 L389.63,182.62 L390.27,183.33 L390.94,184.03 L391.64,184.7 L392.36,185.35 L393.1,185.97 L393.86,186.57 L394.65,187.14 L395.46,187.67 L396.29,188.17 L397.15,188.63 L398.02,189.06 L398.91,189.45 L399.81,189.8 L400.72,190.12 L401.65,190.39 L402.58,190.63 L403.53,190.84 L404.47,191.01 L405.42,191.15 L406.38,191.26 L407.33,191.34 L408.29,191.4 L409.24,191.44 L410.2,191.45 L411.15,191.45 L412.1,191.43 L413.06,191.4 L414.01,191.35 L414.96,191.3 L415.91,191.23" class="cb"/>
<path d="M256.5,21.4 L256.57,20.45 L256.72,19.51 L256.93,18.58 L257.2,17.67 L257.53,16.77 L257.9,15.89 L258.33,15.04 L258.8,14.21 L259.32,13.41 L259.87,12.63 L260.47,11.89 L261.11,11.18 L261.77,10.49 L262.47,9.84 L263.2,9.23 L263.95,8.64 L264.73,8.08 L265.53,7.56 L266.35,7.07 L267.18,6.6 L268.03,6.16 L268.89,5.76 L269.77,5.37 L270.65,5.02 L271.55,4.69 L272.45,4.38 L273.36,4.09 L274.28,3.83 L275.21,3.59 L276.14,3.37 L277.07,3.17 L278.01,2.99 L278.95,2.83 L279.9,2.69 L280.85,2.57 L281.8,2.47 L282.75,2.38 L283.71,2.31 L284.67,2.26 L285.62,2.23 L286.58,2.22 L287.54,2.23 L288.5,2.25 L289.46,2.3 L290.42,2.36 L291.38,2.45 L292.34,2.55 L293.3,2.68 L294.25,2.83 L295.2,3 L296.15,3.19 L297.09,3.4 L298.03,3.64 L298.96,3.89 L299.89,4.17 L300.81,4.47 L301.72,4.8 L302.63,5.14 L303.53,5.51 L304.41,5.9 L305.29,6.31 L306.16,6.74 L307.02,7.19 L307.87,7.66 L308.71,8.15 L309.53,8.65 L310.35,9.18 L311.15,9.72 L311.94,10.28 L312.72,10.86 L313.49,11.45 L314.24,12.06 L314.98,12.68 L315.71,13.32 L316.42,13.97 L317.13,14.63 L317.82,15.31 L318.49,15.99 L319.16,16.69 L319.81,17.4 L320.45,18.12 L321.07,18.86 L321.69,19.6 L322.29,20.35 L322.88,21.11 L323.45,21.88 L324.02,22.65 L324.57,23.44 L325.11,24.23 L325.64,25.03 L326.16,25.84 L326.66,26.65 L327.16,27.47 L327.64,28.29 L328.12,29.12 L328.58,29.96 L329.04,30.8 L329.49,31.64 L329.93,32.49 L330.36,33.34 L330.79,34.19 L331.21,35.04 L331.63,35.9 L332.04,36.76 L332.45,37.62 L332.86,38.48 L333.26,39.34 L333.67,40.2 L334.07,41.06 L334.46,41.92 L334.86,42.79 L335.25,43.65 L335.65,44.52 L336.04,45.38 L336.42,46.25 L336.81,47.12 L337.19,47.99 L337.57,48.86 L337.95,49.73 L338.33,50.6 L338.7,51.47 L339.07,52.35 L339.44,53.23 L339.8,54.1 L340.16,54.98 L340.52,55.86 L340.88,56.74 L341.23,57.63 L341.58,58.51 L341.93,59.4 L342.27,60.28 L342.61,61.17 L342.95,62.06 L343.29,62.95 L343.62,63.84 L343.95,64.73 L344.28,65.62 L344.61,66.52 L344.93,67.41 L345.25,68.31 L345.58,69.2 L345.89,70.1 L346.21,71 L346.53,71.9 L346.85,72.79 L347.17,73.69 L347.49,74.59 L347.81,75.48 L348.12,76.38 L348.44,77.28 L348.75,78.18 L349.07,79.08 L349.38,79.98 L349.7,80.88 L350.01,81.77 L350.32,82.67 L350.64,83.57 L350.95,84.47 L351.26,85.37 L351.57,86.27 L351.88,87.17 L352.19,88.07 L352.51,88.97 L352.82,89.88 L353.13,90.78 L353.44,91.68 L353.75,92.58 L354.05,93.48 L354.36,94.38 L354.67,95.28 L354.98,96.19 L355.29,97.09 L355.6,97.99 L355.91,98.89 L356.22,99.79 L356.53,100.7 L356.84,101.6 L357.15,102.5 L357.46,103.4 L357.78,104.3 L358.09,105.2 L358.41,106.1 L358.72,107 L359.04,107.9 L359.36,108.8 L359.68,109.7 L360,110.6 L360.33,111.5 L360.65,112.39 L360.98,113.29 L361.3,114.19 L361.63,115.08 L361.96,115.98 L362.29,116.88 L362.62,117.77 L362.95,118.67 L363.28,119.56 L363.61,120.46 L363.94,121.36 L364.26,122.25 L364.59,123.15 L364.91,124.05 L365.24,124.94 L365.56,125.84 L365.88,126.74 L366.2,127.64 L366.51,128.54 L366.83,129.44 L367.15,130.33 L367.46,131.23 L367.77,132.13 L368.09,133.03 L368.4,133.93 L368.71,134.83 L369.02,135.73 L369.34,136.63 L369.65,137.53 L369.96,138.43 L370.28,139.33 L370.6,140.23 L370.91,141.12 L371.23,142.02 L371.55,142.92 L371.87,143.81 L372.19,144.71 L372.52,145.6 L372.84,146.49 L373.17,147.39 L373.49,148.28 L373.82,149.17 L374.15,150.07 L374.48,150.96 L374.8,151.85 L375.13,152.74 L375.46,153.63 L375.79,154.52 L376.12,155.41 L376.45,156.3 L376.78,157.19 L377.12,158.08 L377.45,158.97 L377.78,159.86 L378.12,160.75 L378.46,161.64 L378.8,162.53 L379.15,163.41 L379.49,164.3 L379.85,165.18 L380.21,166.06 L380.57,166.94 L380.94,167.82 L381.32,168.69 L381.7,169.56 L382.1,170.43 L382.5,171.29 L382.92,172.15 L383.34,173.01 L383.78,173.86 L384.23,174.7 L384.69,175.54 L385.17,176.37 L385.66,177.19 L386.17,178 L386.7,178.8 L387.25,179.59 L387.81,180.37 L388.39,181.13 L389,181.88 L389.63,182.62 L390.27,183.33 L390.94,184.03 L391.64,184.7 L392.36,185.35 L393.1,185.97 L393.86,186.57 L394.65,187.14 L395.46,187.67 L396.29,188.17 L397.15,188.63 L398.02,189.06 L398.91,189.45 L399.81,189.8 L400.72,190.12 L401.65,190.39 L402.58,190.63 L403.53,190.84 L404.47,191.01 L405.42,191.15 L406.38,191.26 L407.33,191.34 L408.29,191.4 L409.24,191.44 L410.2,191.45 L411.15,191.45 L412.1,191.43 L413.06,191.4 L414.01,191.35 L414.96,191.3 L415.91,191.23" class="cu"/>
<path d="M256.43,15.51 L256.63,14.53 L257,13.6 L257.46,12.72 L258,11.89 L258.6,11.1 L259.26,10.35 L259.96,9.66 L260.71,9 L261.49,8.39 L262.3,7.81 L263.13,7.28 L263.99,6.78 L264.87,6.32 L265.76,5.9 L266.67,5.5 L267.59,5.13 L268.52,4.8 L269.46,4.49 L270.41,4.2 L271.37,3.94 L272.33,3.71 L273.29,3.49 L274.27,3.3 L275.24,3.13 L276.22,2.97 L277.2,2.84 L278.18,2.72 L279.16,2.62 L280.15,2.53 L281.14,2.46 L282.13,2.41 L283.12,2.37 L284.11,2.35 L285.1,2.34 L286.09,2.34 L287.08,2.36 L288.07,2.39 L289.06,2.43 L290.05,2.49 L291.04,2.56 L292.03,2.65 L293.02,2.75 L294.01,2.86 L294.99,2.99 L295.98,3.13 L296.96,3.28 L297.94,3.45 L298.92,3.63 L299.9,3.82 L300.87,4.04 L301.84,4.26 L302.81,4.5 L303.78,4.76 L304.74,5.03 L305.7,5.32 L306.65,5.62 L307.6,5.95 L308.54,6.28 L309.48,6.64 L310.41,7.01 L311.33,7.4 L312.25,7.8 L313.15,8.22 L314.06,8.66 L314.95,9.12 L315.83,9.59 L316.71,10.08 L317.58,10.58 L318.43,11.1 L319.28,11.63 L320.12,12.18 L320.95,12.74 L321.77,13.32 L322.57,13.91 L323.37,14.51 L324.16,15.13 L324.93,15.76 L325.7,16.41 L326.45,17.06 L327.19,17.73 L327.92,18.41 L328.64,19.1 L329.34,19.8 L330.03,20.52 L330.72,21.25 L331.38,21.98 L332.04,22.73 L332.68,23.49 L333.31,24.25 L333.93,25.03 L334.54,25.81 L335.13,26.61 L335.72,27.41 L336.29,28.21 L336.86,29.02 L337.42,29.84 L337.97,30.66 L338.51,31.48 L339.05,32.31 L339.59,33.13 L340.12,33.96 L340.65,34.79 L341.18,35.62 L341.7,36.44 L342.23,37.27 L342.76,38.1 L343.28,38.93 L343.81,39.75 L344.33,40.58 L344.86,41.4 L345.38,42.23 L345.91,43.06 L346.43,43.88 L346.96,44.71 L347.48,45.54 L348,46.37 L348.52,47.2 L349.04,48.03 L349.56,48.87 L350.09,49.71 L350.61,50.54 L351.13,51.37 L351.65,52.21 L352.16,53.05 L352.67,53.89 L353.18,54.73 L353.69,55.57 L354.2,56.41 L354.7,57.26 L355.2,58.11 L355.7,58.96 L356.19,59.81 L356.68,60.67 L357.17,61.52 L357.66,62.38 L358.14,63.24 L358.62,64.1 L359.1,64.96 L359.57,65.83 L360.04,66.7 L360.51,67.56 L360.98,68.44 L361.44,69.31 L361.9,70.18 L362.35,71.06 L362.81,71.93 L363.26,72.81 L363.7,73.69 L364.15,74.58 L364.59,75.46 L365.02,76.35 L365.46,77.23 L365.89,78.12 L366.32,79.01 L366.75,79.9 L367.17,80.79 L367.59,81.69 L368.01,82.58 L368.43,83.47 L368.85,84.37 L369.26,85.27 L369.68,86.16 L370.09,87.06 L370.51,87.96 L370.92,88.85 L371.33,89.75 L371.74,90.65 L372.15,91.55 L372.56,92.45 L372.98,93.35 L373.39,94.24 L373.8,95.14 L374.21,96.04 L374.62,96.94 L375.03,97.84 L375.45,98.74 L375.86,99.63 L376.27,100.53 L376.69,101.43 L377.1,102.33 L377.52,103.22 L377.93,104.12 L378.35,105.02 L378.77,105.91 L379.18,106.81 L379.6,107.7 L380.02,108.6 L380.44,109.49 L380.86,110.39 L381.28,111.28 L381.71,112.17 L382.13,113.07 L382.56,113.96 L382.98,114.85 L383.41,115.74 L383.84,116.63 L384.27,117.52 L384.7,118.41 L385.13,119.3 L385.56,120.19 L386,121.07 L386.43,121.96 L386.87,122.85 L387.3,123.73 L387.74,124.62 L388.18,125.5 L388.62,126.39 L389.06,127.27 L389.49,128.15 L389.93,129.04 L390.37,129.92 L390.8,130.81 L391.24,131.69 L391.67,132.58 L392.1,133.46 L392.53,134.35 L392.96,135.23 L393.39,136.12 L393.82,137.01 L394.24,137.89 L394.67,138.78 L395.09,139.67 L395.52,140.56 L395.94,141.44 L396.37,142.33 L396.79,143.22 L397.22,144.11 L397.64,144.99 L398.07,145.88 L398.5,146.76 L398.94,147.65 L399.37,148.53 L399.81,149.41 L400.25,150.29 L400.69,151.17 L401.13,152.05 L401.58,152.93 L402.03,153.8 L402.49,154.68 L402.95,155.55 L403.41,156.42 L403.88,157.29 L404.35,158.15 L404.83,159.02 L405.31,159.88 L405.8,160.74 L406.29,161.59 L406.8,162.44 L407.3,163.29 L407.82,164.14 L408.35,164.98 L408.88,165.81 L409.43,166.64 L409.98,167.46 L410.55,168.28 L411.13,169.09 L411.72,169.89 L412.32,170.68 L412.94,171.46 L413.57,172.24 L414.22,173 L414.88,173.75 L415.56,174.48 L416.25,175.2 L416.96,175.91 L417.69,176.6 L418.43,177.27 L419.19,177.93 L419.97,178.57 L420.76,179.19 L421.57,179.79 L422.39,180.36 L423.23,180.92 L424.08,181.46 L424.94,181.97 L425.82,182.46 L426.71,182.93 L427.61,183.37 L428.52,183.79 L429.44,184.19 L430.37,184.56 L431.31,184.91 L432.25,185.23 L433.21,185.54 L434.16,185.82 L435.12,186.08 L436.09,186.32 L437.06,186.54 L438.03,186.74 L439.01,186.92 L439.98,187.08 L440.96,187.22 L441.94,187.35 L442.92,187.47 L443.9,187.57 L444.88,187.66 L445.87,187.73 L446.85,187.79 L447.83,187.84" class="cb"/>
<path d="M256.43,15.51 L256.63,14.53 L257,13.6 L257.46,12.72 L258,11.89 L258.6,11.1 L259.26,10.35 L259.96,9.66 L260.71,9 L261.49,8.39 L262.3,7.81 L263.13,7.28 L263.99,6.78 L264.87,6.32 L265.76,5.9 L266.67,5.5 L267.59,5.13 L268.52,4.8 L269.46,4.49 L270.41,4.2 L271.37,3.94 L272.33,3.71 L273.29,3.49 L274.27,3.3 L275.24,3.13 L276.22,2.97 L277.2,2.84 L278.18,2.72 L279.16,2.62 L280.15,2.53 L281.14,2.46 L282.13,2.41 L283.12,2.37 L284.11,2.35 L285.1,2.34 L286.09,2.34 L287.08,2.36 L288.07,2.39 L289.06,2.43 L290.05,2.49 L291.04,2.56 L292.03,2.65 L293.02,2.75 L294.01,2.86 L294.99,2.99 L295.98,3.13 L296.96,3.28 L297.94,3.45 L298.92,3.63 L299.9,3.82 L300.87,4.04 L301.84,4.26 L302.81,4.5 L303.78,4.76 L304.74,5.03 L305.7,5.32 L306.65,5.62 L307.6,5.95 L308.54,6.28 L309.48,6.64 L310.41,7.01 L311.33,7.4 L312.25,7.8 L313.15,8.22 L314.06,8.66 L314.95,9.12 L315.83,9.59 L316.71,10.08 L317.58,10.58 L318.43,11.1 L319.28,11.63 L320.12,12.18 L320.95,12.74 L321.77,13.32 L322.57,13.91 L323.37,14.51 L324.16,15.13 L324.93,15.76 L325.7,16.41 L326.45,17.06 L327.19,17.73 L327.92,18.41 L328.64,19.1 L329.34,19.8 L330.03,20.52 L330.72,21.25 L331.38,21.98 L332.04,22.73 L332.68,23.49 L333.31,24.25 L333.93,25.03 L334.54,25.81 L335.13,26.61 L335.72,27.41 L336.29,28.21 L336.86,29.02 L337.42,29.84 L337.97,30.66 L338.51,31.48 L339.05,32.31 L339.59,33.13 L340.12,33.96 L340.65,34.79 L341.18,35.62 L341.7,36.44 L342.23,37.27 L342.76,38.1 L343.28,38.93 L343.81,39.75 L344.33,40.58 L344.86,41.4 L345.38,42.23 L345.91,43.06 L346.43,43.88 L346.96,44.71 L347.48,45.54 L348,46.37 L348.52,47.2 L349.04,48.03 L349.56,48.87 L350.09,49.71 L350.61,50.54 L351.13,51.37 L351.65,52.21 L352.16,53.05 L352.67,53.89 L353.18,54.73 L353.69,55.57 L354.2,56.41 L354.7,57.26 L355.2,58.11 L355.7,58.96 L356.19,59.81 L356.68,60.67 L357.17,61.52 L357.66,62.38 L358.14,63.24 L358.62,64.1 L359.1,64.96 L359.57,65.83 L360.04,66.7 L360.51,67.56 L360.98,68.44 L361.44,69.31 L361.9,70.18 L362.35,71.06 L362.81,71.93 L363.26,72.81 L363.7,73.69 L364.15,74.58 L364.59,75.46 L365.02,76.35 L365.46,77.23 L365.89,78.12 L366.32,79.01 L366.75,79.9 L367.17,80.79 L367.59,81.69 L368.01,82.58 L368.43,83.47 L368.85,84.37 L369.26,85.27 L369.68,86.16 L370.09,87.06 L370.51,87.96 L370.92,88.85 L371.33,89.75 L371.74,90.65 L372.15,91.55 L372.56,92.45 L372.98,93.35 L373.39,94.24 L373.8,95.14 L374.21,96.04 L374.62,96.94 L375.03,97.84 L375.45,98.74 L375.86,99.63 L376.27,100.53 L376.69,101.43 L377.1,102.33 L377.52,103.22 L377.93,104.12 L378.35,105.02 L378.77,105.91 L379.18,106.81 L379.6,107.7 L380.02,108.6 L380.44,109.49 L380.86,110.39 L381.28,111.28 L381.71,112.17 L382.13,113.07 L382.56,113.96 L382.98,114.85 L383.41,115.74 L383.84,116.63 L384.27,117.52 L384.7,118.41 L385.13,119.3 L385.56,120.19 L386,121.07 L386.43,121.96 L386.87,122.85 L387.3,123.73 L387.74,124.62 L388.18,125.5 L388.62,126.39 L389.06,127.27 L389.49,128.15 L389.93,129.04 L390.37,129.92 L390.8,130.81 L391.24,131.69 L391.67,132.58 L392.1,133.46 L392.53,134.35 L392.96,135.23 L393.39,136.12 L393.82,137.01 L394.24,137.89 L394.67,138.78 L395.09,139.67 L395.52,140.56 L395.94,141.44 L396.37,142.33 L396.79,143.22 L397.22,144.11 L397.64,144.99 L398.07,145.88 L398.5,146.76 L398.94,147.65 L399.37,148.53 L399.81,149.41 L400.25,150.29 L400.69,151.17 L401.13,152.05 L401.58,152.93 L402.03,153.8 L402.49,154.68 L402.95,155.55 L403.41,156.42 L403.88,157.29 L404.35,158.15 L404.83,159.02 L405.31,159.88 L405.8,160.74 L406.29,161.59 L406.8,162.44 L407.3,163.29 L407.82,164.14 L408.35,164.98 L408.88,165.81 L409.43,166.64 L409.98,167.46 L410.55,168.28 L411.13,169.09 L411.72,169.89 L412.32,170.68 L412.94,171.46 L413.57,172.24 L414.22,173 L414.88,173.75 L415.56,174.48 L416.25,175.2 L416.96,175.91 L417.69,176.6 L418.43,177.27 L419.19,177.93 L419.97,178.57 L420.76,179.19 L421.57,179.79 L422.39,180.36 L423.23,180.92 L424.08,181.46 L424.94,181.97 L425.82,182.46 L426.71,182.93 L427.61,183.37 L428.52,183.79 L429.44,184.19 L430.37,184.56 L431.31,184.91 L432.25,185.23 L433.21,185.54 L434.16,185.82 L435.12,186.08 L436.09,186.32 L437.06,186.54 L438.03,186.74 L439.01,186.92 L439.98,187.08 L440.96,187.22 L441.94,187.35 L442.92,187.47 L443.9,187.57 L444.88,187.66 L445.87,187.73 L446.85,187.79 L447.83,187.84" class="cu"/>
<rect x="281.7" y="155.4" width="15.9" height="5.4" fill="#fff"/>
<text x="282.2" y="160" class="el" textLength="14.5" lengthAdjust="spacingAndGlyphs">6 MeV-</text>
<rect x="301.7" y="155.4" width="15.7" height="5.4" fill="#fff"/>
<text x="302.2" y="160" class="el" textLength="14.3" lengthAdjust="spacingAndGlyphs">9 MeV-</text>
<rect x="326.7" y="155.4" width="17.1" height="5.4" fill="#fff"/>
<text x="327.2" y="160" class="el" textLength="15.7" lengthAdjust="spacingAndGlyphs">12 MeV-</text>
<rect x="355" y="155.4" width="18.7" height="5.4" fill="#fff"/>
<text x="355.5" y="160" class="el" textLength="17.3" lengthAdjust="spacingAndGlyphs">16 MeV-</text>
<rect x="384.3" y="155.4" width="17.1" height="5.4" fill="#fff"/>
<text x="384.8" y="160" class="el" textLength="15.7" lengthAdjust="spacingAndGlyphs">20 MeV-</text>
<line x1="22.5" y1="414.19" x2="213.8" y2="414.19" class="g"/>
<line x1="22.5" y1="394.48" x2="213.8" y2="394.48" class="g"/>
<line x1="22.5" y1="374.77" x2="213.8" y2="374.77" class="g"/>
<line x1="22.5" y1="355.06" x2="213.8" y2="355.06" class="g"/>
<line x1="22.5" y1="335.35" x2="213.8" y2="335.35" class="g"/>
<line x1="22.5" y1="315.64" x2="213.8" y2="315.64" class="g"/>
<line x1="22.5" y1="295.93" x2="213.8" y2="295.93" class="g"/>
<line x1="22.5" y1="276.22" x2="213.8" y2="276.22" class="g"/>
<line x1="22.5" y1="256.51" x2="213.8" y2="256.51" class="g"/>
<line x1="22.5" y1="236.8" x2="213.8" y2="236.8" class="g"/>
<line x1="22.5" y1="236.8" x2="22.5" y2="433.9" class="ax"/>
<line x1="22.5" y1="433.9" x2="213.8" y2="433.9" class="ax"/>
<text x="17.9" y="435.9" class="tk" text-anchor="end">0</text>
<text x="17.9" y="416.19" class="tk" text-anchor="end">10</text>
<text x="17.9" y="396.48" class="tk" text-anchor="end">20</text>
<text x="17.9" y="376.77" class="tk" text-anchor="end">30</text>
<text x="17.9" y="357.06" class="tk" text-anchor="end">40</text>
<text x="17.9" y="337.35" class="tk" text-anchor="end">50</text>
<text x="17.9" y="317.64" class="tk" text-anchor="end">60</text>
<text x="17.9" y="297.93" class="tk" text-anchor="end">70</text>
<text x="17.9" y="278.22" class="tk" text-anchor="end">80</text>
<text x="17.9" y="258.51" class="tk" text-anchor="end">90</text>
<text x="17.9" y="239.6" class="tk" text-anchor="end">100</text>
<text x="22.5" y="443.4" class="tk" text-anchor="middle">0</text>
<text x="54.38" y="443.4" class="tk" text-anchor="middle">2</text>
<text x="86.27" y="443.4" class="tk" text-anchor="middle">4</text>
<text x="118.15" y="443.4" class="tk" text-anchor="middle">6</text>
<text x="150.03" y="443.4" class="tk" text-anchor="middle">8</text>
<text x="181.92" y="443.4" class="tk" text-anchor="middle">10</text>
<text x="213.8" y="443.4" class="tk" text-anchor="middle">12</text>
<text class="ttl" text-anchor="middle" textLength="34" lengthAdjust="spacingAndGlyphs" transform="translate(4.7,335.35) rotate(-90)">Percent Dose</text>
<text x="118.15" y="452.9" class="ttl" text-anchor="middle" textLength="29.7" lengthAdjust="spacingAndGlyphs">Depth (cm)</text>
<rect x="209.1" y="234" width="18.9" height="15" fill="#fff"/>
<text class="let" transform="translate(211.6,247) scale(1.0,1)">c</text>
<line x1="166.1" y1="272.6" x2="182.7" y2="272.6" class="lgb"/>
<line x1="166.1" y1="290.3" x2="182.7" y2="290.3" class="lgr"/>
<text x="184.4" y="274.2" class="lg" textLength="25.6" lengthAdjust="spacingAndGlyphs">Cerrobend</text>
<text x="184.4" y="291.9" class="lg" textLength="17" lengthAdjust="spacingAndGlyphs">Copper</text>
<path d="M22.46,287.06 L23.16,286.18 L23.71,285.11 L24.2,284.01 L24.65,282.89 L25.09,281.76 L25.5,280.63 L25.91,279.49 L26.31,278.35 L26.7,277.2 L27.1,276.05 L27.49,274.91 L27.88,273.76 L28.27,272.61 L28.67,271.47 L29.07,270.32 L29.48,269.18 L29.89,268.04 L30.3,266.9 L30.73,265.76 L31.15,264.62 L31.58,263.49 L32.02,262.36 L32.47,261.22 L32.91,260.1 L33.37,258.97 L33.82,257.85 L34.28,256.73 L34.75,255.61 L35.22,254.49 L35.69,253.38 L36.16,252.27 L36.64,251.16 L37.13,250.06 L37.61,248.96 L38.1,247.86 L38.6,246.77 L39.11,245.69 L39.62,244.63 L40.15,243.57 L40.7,242.53 L41.28,241.52 L41.88,240.55 L42.53,239.65 L43.22,238.85 L43.93,238.26 L44.55,238 L45.09,238.08 L45.74,238.56 L46.38,239.34 L46.95,240.27 L47.46,241.29 L47.92,242.36 L48.34,243.46 L48.72,244.59 L49.07,245.72 L49.4,246.87 L49.7,248.03 L49.99,249.2 L50.26,250.37 L50.51,251.55 L50.75,252.73 L50.98,253.91 L51.19,255.1 L51.4,256.29 L51.59,257.48 L51.78,258.67 L51.96,259.87 L52.13,261.07 L52.3,262.26 L52.46,263.46 L52.61,264.66 L52.76,265.86 L52.9,267.06 L53.04,268.26 L53.18,269.47 L53.32,270.67 L53.45,271.87 L53.58,273.08 L53.71,274.28 L53.84,275.48 L53.96,276.69 L54.09,277.89 L54.21,279.1 L54.34,280.3 L54.46,281.5 L54.59,282.71 L54.71,283.91 L54.83,285.12 L54.96,286.32 L55.08,287.53 L55.2,288.73 L55.33,289.94 L55.45,291.14 L55.57,292.35 L55.7,293.55 L55.82,294.76 L55.94,295.97 L56.07,297.17 L56.19,298.38 L56.31,299.58 L56.44,300.79 L56.56,301.99 L56.69,303.2 L56.81,304.41 L56.93,305.61 L57.05,306.82 L57.18,308.02 L57.3,309.23 L57.42,310.44 L57.54,311.64 L57.66,312.85 L57.78,314.06 L57.9,315.26 L58.02,316.47 L58.14,317.68 L58.26,318.88 L58.38,320.09 L58.49,321.3 L58.61,322.5 L58.72,323.71 L58.84,324.92 L58.95,326.13 L59.06,327.33 L59.18,328.54 L59.29,329.75 L59.4,330.96 L59.51,332.16 L59.62,333.37 L59.73,334.58 L59.84,335.79 L59.95,336.99 L60.06,338.2 L60.17,339.41 L60.27,340.62 L60.38,341.83 L60.49,343.03 L60.59,344.24 L60.7,345.45 L60.8,346.66 L60.91,347.87 L61.01,349.07 L61.11,350.28 L61.22,351.49 L61.32,352.7 L61.42,353.91 L61.52,355.12 L61.62,356.33 L61.72,357.53 L61.82,358.74 L61.92,359.95 L62.02,361.16 L62.12,362.37 L62.21,363.58 L62.31,364.79 L62.41,366 L62.5,367.2 L62.6,368.41 L62.7,369.62 L62.79,370.83 L62.89,372.04 L62.99,373.25 L63.08,374.46 L63.18,375.67 L63.28,376.88 L63.37,378.08 L63.47,379.29 L63.57,380.5 L63.67,381.71 L63.76,382.92 L63.86,384.13 L63.96,385.34 L64.06,386.55 L64.17,387.76 L64.27,388.97 L64.37,390.18 L64.48,391.38 L64.58,392.59 L64.69,393.8 L64.8,395.01 L64.92,396.22 L65.03,397.43 L65.15,398.64 L65.28,399.85 L65.4,401.05 L65.53,402.26 L65.67,403.47 L65.81,404.68 L65.95,405.88 L66.1,407.09 L66.26,408.3 L66.43,409.5 L66.6,410.71 L66.78,411.91 L66.98,413.11 L67.18,414.32 L67.39,415.52 L67.62,416.72 L67.86,417.91 L68.12,419.11 L68.4,420.31 L68.7,421.5 L69.02,422.68 L69.38,423.87 L69.77,425.04 L70.22,426.21 L70.73,427.37 L71.31,428.5 L72.01,429.59 L72.84,430.62 L73.84,431.53 L74.98,432.26 L76.22,432.78 L77.49,433.12 L78.75,433.32 L80,433.43 L81.24,433.49 L82.46,433.52 L83.68,433.53 L84.9,433.52 L86.12,433.51 L87.33,433.49 L88.54,433.47 L89.76,433.44 L90.97,433.4 L92.18,433.36 L93.4,433.31 L94.61,433.25 L95.82,433.19 L97.03,433.12 L98.25,433.05 L99.46,432.97 L100.67,432.9 L101.88,432.84 L103.1,432.78 L104.31,432.72 L105.52,432.67 L106.73,432.63 L107.95,432.6 L109.16,432.57 L110.37,432.55 L111.58,432.53 L112.8,432.51 L114.01,432.5 L115.22,432.49 L116.43,432.48 L117.65,432.48 L118.86,432.47 L120.07,432.47 L121.28,432.47 L122.5,432.47 L123.71,432.47 L124.92,432.47 L126.14,432.47 L127.35,432.47 L128.56,432.47 L129.77,432.47 L130.99,432.47 L132.2,432.48 L133.41,432.48 L134.62,432.48 L135.84,432.49 L137.05,432.5 L138.26,432.5 L139.47,432.51 L140.69,432.52 L141.9,432.53 L143.11,432.55 L144.33,432.56 L145.54,432.57 L146.75,432.59 L147.96,432.6 L149.18,432.61 L150.39,432.62 L151.6,432.63 L152.81,432.64 L154.03,432.65 L155.24,432.65 L156.45,432.65 L157.66,432.66 L158.88,432.66 L160.09,432.66 L161.3,432.65 L162.51,432.65 L163.73,432.65 L164.94,432.65 L166.15,432.65 L167.37,432.65 L168.58,432.64 L169.79,432.64 L171,432.64 L172.22,432.64 L173.43,432.64 L174.64,432.64 L175.85,432.63 L177.07,432.63 L178.28,432.63 L179.49,432.63 L180.7,432.63 L181.92,432.63" class="cb"/>
<path d="M22.46,287.06 L23.16,286.18 L23.71,285.11 L24.2,284.01 L24.65,282.89 L25.09,281.76 L25.5,280.63 L25.91,279.49 L26.31,278.35 L26.7,277.2 L27.1,276.05 L27.49,274.91 L27.88,273.76 L28.27,272.61 L28.67,271.47 L29.07,270.32 L29.48,269.18 L29.89,268.04 L30.3,266.9 L30.73,265.76 L31.15,264.62 L31.58,263.49 L32.02,262.36 L32.47,261.22 L32.91,260.1 L33.37,258.97 L33.82,257.85 L34.28,256.73 L34.75,255.61 L35.22,254.49 L35.69,253.38 L36.16,252.27 L36.64,251.16 L37.13,250.06 L37.61,248.96 L38.1,247.86 L38.6,246.77 L39.11,245.69 L39.62,244.63 L40.15,243.57 L40.7,242.53 L41.28,241.52 L41.88,240.55 L42.53,239.65 L43.22,238.85 L43.93,238.26 L44.55,238 L45.09,238.08 L45.74,238.56 L46.38,239.34 L46.95,240.27 L47.46,241.29 L47.92,242.36 L48.34,243.46 L48.72,244.59 L49.07,245.72 L49.4,246.87 L49.7,248.03 L49.99,249.2 L50.26,250.37 L50.51,251.55 L50.75,252.73 L50.98,253.91 L51.19,255.1 L51.4,256.29 L51.59,257.48 L51.78,258.67 L51.96,259.87 L52.13,261.07 L52.3,262.26 L52.46,263.46 L52.61,264.66 L52.76,265.86 L52.9,267.06 L53.04,268.26 L53.18,269.47 L53.32,270.67 L53.45,271.87 L53.58,273.08 L53.71,274.28 L53.84,275.48 L53.96,276.69 L54.09,277.89 L54.21,279.1 L54.34,280.3 L54.46,281.5 L54.59,282.71 L54.71,283.91 L54.83,285.12 L54.96,286.32 L55.08,287.53 L55.2,288.73 L55.33,289.94 L55.45,291.14 L55.57,292.35 L55.7,293.55 L55.82,294.76 L55.94,295.97 L56.07,297.17 L56.19,298.38 L56.31,299.58 L56.44,300.79 L56.56,301.99 L56.69,303.2 L56.81,304.41 L56.93,305.61 L57.05,306.82 L57.18,308.02 L57.3,309.23 L57.42,310.44 L57.54,311.64 L57.66,312.85 L57.78,314.06 L57.9,315.26 L58.02,316.47 L58.14,317.68 L58.26,318.88 L58.38,320.09 L58.49,321.3 L58.61,322.5 L58.72,323.71 L58.84,324.92 L58.95,326.13 L59.06,327.33 L59.18,328.54 L59.29,329.75 L59.4,330.96 L59.51,332.16 L59.62,333.37 L59.73,334.58 L59.84,335.79 L59.95,336.99 L60.06,338.2 L60.17,339.41 L60.27,340.62 L60.38,341.83 L60.49,343.03 L60.59,344.24 L60.7,345.45 L60.8,346.66 L60.91,347.87 L61.01,349.07 L61.11,350.28 L61.22,351.49 L61.32,352.7 L61.42,353.91 L61.52,355.12 L61.62,356.33 L61.72,357.53 L61.82,358.74 L61.92,359.95 L62.02,361.16 L62.12,362.37 L62.21,363.58 L62.31,364.79 L62.41,366 L62.5,367.2 L62.6,368.41 L62.7,369.62 L62.79,370.83 L62.89,372.04 L62.99,373.25 L63.08,374.46 L63.18,375.67 L63.28,376.88 L63.37,378.08 L63.47,379.29 L63.57,380.5 L63.67,381.71 L63.76,382.92 L63.86,384.13 L63.96,385.34 L64.06,386.55 L64.17,387.76 L64.27,388.97 L64.37,390.18 L64.48,391.38 L64.58,392.59 L64.69,393.8 L64.8,395.01 L64.92,396.22 L65.03,397.43 L65.15,398.64 L65.28,399.85 L65.4,401.05 L65.53,402.26 L65.67,403.47 L65.81,404.68 L65.95,405.88 L66.1,407.09 L66.26,408.3 L66.43,409.5 L66.6,410.71 L66.78,411.91 L66.98,413.11 L67.18,414.32 L67.39,415.52 L67.62,416.72 L67.86,417.91 L68.12,419.11 L68.4,420.31 L68.7,421.5 L69.02,422.68 L69.38,423.87 L69.77,425.04 L70.22,426.21 L70.73,427.37 L71.31,428.5 L72.01,429.59 L72.84,430.62 L73.84,431.53 L74.98,432.26 L76.22,432.78 L77.49,433.12 L78.75,433.32 L80,433.43 L81.24,433.49 L82.46,433.52 L83.68,433.53 L84.9,433.52 L86.12,433.51 L87.33,433.49 L88.54,433.47 L89.76,433.44 L90.97,433.4 L92.18,433.36 L93.4,433.31 L94.61,433.25 L95.82,433.19 L97.03,433.12 L98.25,433.05 L99.46,432.97 L100.67,432.9 L101.88,432.84 L103.1,432.78 L104.31,432.72 L105.52,432.67 L106.73,432.63 L107.95,432.6 L109.16,432.57 L110.37,432.55 L111.58,432.53 L112.8,432.51 L114.01,432.5 L115.22,432.49 L116.43,432.48 L117.65,432.48 L118.86,432.47 L120.07,432.47 L121.28,432.47 L122.5,432.47 L123.71,432.47 L124.92,432.47 L126.14,432.47 L127.35,432.47 L128.56,432.47 L129.77,432.47 L130.99,432.47 L132.2,432.48 L133.41,432.48 L134.62,432.48 L135.84,432.49 L137.05,432.5 L138.26,432.5 L139.47,432.51 L140.69,432.52 L141.9,432.53 L143.11,432.55 L144.33,432.56 L145.54,432.57 L146.75,432.59 L147.96,432.6 L149.18,432.61 L150.39,432.62 L151.6,432.63 L152.81,432.64 L154.03,432.65 L155.24,432.65 L156.45,432.65 L157.66,432.66 L158.88,432.66 L160.09,432.66 L161.3,432.65 L162.51,432.65 L163.73,432.65 L164.94,432.65 L166.15,432.65 L167.37,432.65 L168.58,432.64 L169.79,432.64 L171,432.64 L172.22,432.64 L173.43,432.64 L174.64,432.64 L175.85,432.63 L177.07,432.63 L178.28,432.63 L179.49,432.63 L180.7,432.63 L181.92,432.63" class="cu"/>
<path d="M22.32,277.11 L22.99,276.39 L23.64,275.49 L24.25,274.55 L24.85,273.6 L25.44,272.64 L26.02,271.68 L26.59,270.7 L27.16,269.73 L27.73,268.75 L28.29,267.77 L28.86,266.8 L29.43,265.82 L30,264.84 L30.58,263.87 L31.15,262.89 L31.74,261.92 L32.32,260.96 L32.91,259.99 L33.51,259.03 L34.12,258.07 L34.72,257.12 L35.34,256.17 L35.96,255.22 L36.59,254.28 L37.23,253.35 L37.88,252.42 L38.53,251.5 L39.19,250.58 L39.86,249.67 L40.54,248.77 L41.22,247.87 L41.92,246.99 L42.63,246.11 L43.35,245.25 L44.09,244.4 L44.83,243.56 L45.6,242.74 L46.38,241.94 L47.19,241.17 L48.01,240.43 L48.87,239.73 L49.76,239.07 L50.68,238.48 L51.64,237.98 L52.64,237.59 L53.66,237.34 L54.7,237.27 L55.73,237.4 L56.71,237.75 L57.62,238.27 L58.45,238.94 L59.21,239.72 L59.9,240.57 L60.53,241.47 L61.11,242.42 L61.64,243.4 L62.14,244.4 L62.6,245.42 L63.03,246.45 L63.43,247.5 L63.82,248.56 L64.18,249.62 L64.52,250.69 L64.85,251.77 L65.16,252.85 L65.46,253.94 L65.74,255.03 L66.01,256.12 L66.28,257.22 L66.53,258.31 L66.78,259.41 L67.02,260.52 L67.25,261.62 L67.47,262.73 L67.69,263.83 L67.91,264.94 L68.12,266.05 L68.33,267.16 L68.54,268.27 L68.74,269.38 L68.94,270.49 L69.13,271.6 L69.33,272.71 L69.52,273.82 L69.71,274.94 L69.9,276.05 L70.09,277.16 L70.27,278.28 L70.45,279.39 L70.63,280.51 L70.81,281.62 L70.99,282.74 L71.17,283.86 L71.34,284.97 L71.51,286.09 L71.68,287.21 L71.85,288.32 L72.02,289.44 L72.18,290.56 L72.35,291.68 L72.51,292.8 L72.67,293.92 L72.83,295.03 L72.99,296.15 L73.14,297.27 L73.3,298.39 L73.46,299.51 L73.61,300.63 L73.76,301.75 L73.92,302.87 L74.07,303.99 L74.22,305.11 L74.37,306.23 L74.52,307.36 L74.67,308.48 L74.81,309.6 L74.96,310.72 L75.11,311.84 L75.26,312.96 L75.4,314.08 L75.55,315.2 L75.7,316.32 L75.84,317.45 L75.99,318.57 L76.13,319.69 L76.28,320.81 L76.42,321.93 L76.57,323.05 L76.71,324.17 L76.86,325.3 L77,326.42 L77.15,327.54 L77.29,328.66 L77.44,329.78 L77.58,330.9 L77.73,332.03 L77.87,333.15 L78.02,334.27 L78.17,335.39 L78.31,336.51 L78.46,337.63 L78.61,338.75 L78.75,339.88 L78.9,341 L79.05,342.12 L79.2,343.24 L79.34,344.36 L79.49,345.48 L79.64,346.6 L79.79,347.72 L79.94,348.84 L80.09,349.97 L80.24,351.09 L80.38,352.21 L80.53,353.33 L80.68,354.45 L80.83,355.57 L80.98,356.69 L81.13,357.81 L81.28,358.93 L81.43,360.05 L81.57,361.17 L81.72,362.3 L81.87,363.42 L82.02,364.54 L82.16,365.66 L82.31,366.78 L82.46,367.9 L82.6,369.02 L82.75,370.14 L82.89,371.26 L83.04,372.38 L83.18,373.5 L83.32,374.63 L83.47,375.75 L83.61,376.87 L83.75,377.99 L83.89,379.11 L84.02,380.23 L84.16,381.35 L84.3,382.48 L84.44,383.6 L84.58,384.72 L84.72,385.84 L84.86,386.96 L85,388.08 L85.15,389.21 L85.3,390.33 L85.45,391.45 L85.61,392.57 L85.77,393.68 L85.94,394.8 L86.11,395.92 L86.29,397.04 L86.48,398.15 L86.67,399.27 L86.86,400.38 L87.07,401.49 L87.28,402.6 L87.49,403.71 L87.72,404.82 L87.95,405.93 L88.19,407.03 L88.44,408.14 L88.69,409.24 L88.96,410.34 L89.24,411.44 L89.53,412.53 L89.84,413.62 L90.16,414.71 L90.5,415.79 L90.85,416.86 L91.23,417.93 L91.63,418.99 L92.05,420.04 L92.51,421.08 L93,422.11 L93.52,423.12 L94.09,424.1 L94.71,425.06 L95.38,425.98 L96.1,426.85 L96.9,427.67 L97.75,428.42 L98.67,429.1 L99.65,429.69 L100.68,430.18 L101.74,430.6 L102.82,430.93 L103.93,431.19 L105.04,431.4 L106.16,431.55 L107.29,431.67 L108.42,431.76 L109.55,431.83 L110.68,431.88 L111.81,431.91 L112.94,431.94 L114.07,431.95 L115.2,431.96 L116.33,431.97 L117.46,431.97 L118.59,431.96 L119.72,431.96 L120.85,431.95 L121.98,431.95 L123.11,431.94 L124.25,431.93 L125.38,431.92 L126.51,431.92 L127.64,431.91 L128.77,431.91 L129.9,431.9 L131.03,431.9 L132.16,431.9 L133.29,431.91 L134.42,431.91 L135.55,431.91 L136.68,431.92 L137.82,431.93 L138.95,431.94 L140.08,431.95 L141.21,431.96 L142.34,431.97 L143.47,431.98 L144.6,431.99 L145.73,432 L146.86,432 L147.99,432.01 L149.12,432.01 L150.25,432.01 L151.38,432 L152.52,432 L153.65,432 L154.78,431.99 L155.91,431.99 L157.04,431.99 L158.17,431.98 L159.3,431.98 L160.43,431.97 L161.56,431.97 L162.69,431.97 L163.82,431.96 L164.95,431.96 L166.09,431.96 L167.22,431.96 L168.35,431.96 L169.48,431.95 L170.61,431.95 L171.74,431.95 L172.87,431.95 L174,431.95 L175.13,431.95 L176.26,431.95 L177.39,431.95 L178.52,431.95 L179.66,431.95 L180.79,431.95 L181.92,431.95" class="cb"/>
<path d="M22.32,277.11 L22.99,276.39 L23.64,275.49 L24.25,274.55 L24.85,273.6 L25.44,272.64 L26.02,271.68 L26.59,270.7 L27.16,269.73 L27.73,268.75 L28.29,267.77 L28.86,266.8 L29.43,265.82 L30,264.84 L30.58,263.87 L31.15,262.89 L31.74,261.92 L32.32,260.96 L32.91,259.99 L33.51,259.03 L34.12,258.07 L34.72,257.12 L35.34,256.17 L35.96,255.22 L36.59,254.28 L37.23,253.35 L37.88,252.42 L38.53,251.5 L39.19,250.58 L39.86,249.67 L40.54,248.77 L41.22,247.87 L41.92,246.99 L42.63,246.11 L43.35,245.25 L44.09,244.4 L44.83,243.56 L45.6,242.74 L46.38,241.94 L47.19,241.17 L48.01,240.43 L48.87,239.73 L49.76,239.07 L50.68,238.48 L51.64,237.98 L52.64,237.59 L53.66,237.34 L54.7,237.27 L55.73,237.4 L56.71,237.75 L57.62,238.27 L58.45,238.94 L59.21,239.72 L59.9,240.57 L60.53,241.47 L61.11,242.42 L61.64,243.4 L62.14,244.4 L62.6,245.42 L63.03,246.45 L63.43,247.5 L63.82,248.56 L64.18,249.62 L64.52,250.69 L64.85,251.77 L65.16,252.85 L65.46,253.94 L65.74,255.03 L66.01,256.12 L66.28,257.22 L66.53,258.31 L66.78,259.41 L67.02,260.52 L67.25,261.62 L67.47,262.73 L67.69,263.83 L67.91,264.94 L68.12,266.05 L68.33,267.16 L68.54,268.27 L68.74,269.38 L68.94,270.49 L69.13,271.6 L69.33,272.71 L69.52,273.82 L69.71,274.94 L69.9,276.05 L70.09,277.16 L70.27,278.28 L70.45,279.39 L70.63,280.51 L70.81,281.62 L70.99,282.74 L71.17,283.86 L71.34,284.97 L71.51,286.09 L71.68,287.21 L71.85,288.32 L72.02,289.44 L72.18,290.56 L72.35,291.68 L72.51,292.8 L72.67,293.92 L72.83,295.03 L72.99,296.15 L73.14,297.27 L73.3,298.39 L73.46,299.51 L73.61,300.63 L73.76,301.75 L73.92,302.87 L74.07,303.99 L74.22,305.11 L74.37,306.23 L74.52,307.36 L74.67,308.48 L74.81,309.6 L74.96,310.72 L75.11,311.84 L75.26,312.96 L75.4,314.08 L75.55,315.2 L75.7,316.32 L75.84,317.45 L75.99,318.57 L76.13,319.69 L76.28,320.81 L76.42,321.93 L76.57,323.05 L76.71,324.17 L76.86,325.3 L77,326.42 L77.15,327.54 L77.29,328.66 L77.44,329.78 L77.58,330.9 L77.73,332.03 L77.87,333.15 L78.02,334.27 L78.17,335.39 L78.31,336.51 L78.46,337.63 L78.61,338.75 L78.75,339.88 L78.9,341 L79.05,342.12 L79.2,343.24 L79.34,344.36 L79.49,345.48 L79.64,346.6 L79.79,347.72 L79.94,348.84 L80.09,349.97 L80.24,351.09 L80.38,352.21 L80.53,353.33 L80.68,354.45 L80.83,355.57 L80.98,356.69 L81.13,357.81 L81.28,358.93 L81.43,360.05 L81.57,361.17 L81.72,362.3 L81.87,363.42 L82.02,364.54 L82.16,365.66 L82.31,366.78 L82.46,367.9 L82.6,369.02 L82.75,370.14 L82.89,371.26 L83.04,372.38 L83.18,373.5 L83.32,374.63 L83.47,375.75 L83.61,376.87 L83.75,377.99 L83.89,379.11 L84.02,380.23 L84.16,381.35 L84.3,382.48 L84.44,383.6 L84.58,384.72 L84.72,385.84 L84.86,386.96 L85,388.08 L85.15,389.21 L85.3,390.33 L85.45,391.45 L85.61,392.57 L85.77,393.68 L85.94,394.8 L86.11,395.92 L86.29,397.04 L86.48,398.15 L86.67,399.27 L86.86,400.38 L87.07,401.49 L87.28,402.6 L87.49,403.71 L87.72,404.82 L87.95,405.93 L88.19,407.03 L88.44,408.14 L88.69,409.24 L88.96,410.34 L89.24,411.44 L89.53,412.53 L89.84,413.62 L90.16,414.71 L90.5,415.79 L90.85,416.86 L91.23,417.93 L91.63,418.99 L92.05,420.04 L92.51,421.08 L93,422.11 L93.52,423.12 L94.09,424.1 L94.71,425.06 L95.38,425.98 L96.1,426.85 L96.9,427.67 L97.75,428.42 L98.67,429.1 L99.65,429.69 L100.68,430.18 L101.74,430.6 L102.82,430.93 L103.93,431.19 L105.04,431.4 L106.16,431.55 L107.29,431.67 L108.42,431.76 L109.55,431.83 L110.68,431.88 L111.81,431.91 L112.94,431.94 L114.07,431.95 L115.2,431.96 L116.33,431.97 L117.46,431.97 L118.59,431.96 L119.72,431.96 L120.85,431.95 L121.98,431.95 L123.11,431.94 L124.25,431.93 L125.38,431.92 L126.51,431.92 L127.64,431.91 L128.77,431.91 L129.9,431.9 L131.03,431.9 L132.16,431.9 L133.29,431.91 L134.42,431.91 L135.55,431.91 L136.68,431.92 L137.82,431.93 L138.95,431.94 L140.08,431.95 L141.21,431.96 L142.34,431.97 L143.47,431.98 L144.6,431.99 L145.73,432 L146.86,432 L147.99,432.01 L149.12,432.01 L150.25,432.01 L151.38,432 L152.52,432 L153.65,432 L154.78,431.99 L155.91,431.99 L157.04,431.99 L158.17,431.98 L159.3,431.98 L160.43,431.97 L161.56,431.97 L162.69,431.97 L163.82,431.96 L164.95,431.96 L166.09,431.96 L167.22,431.96 L168.35,431.96 L169.48,431.95 L170.61,431.95 L171.74,431.95 L172.87,431.95 L174,431.95 L175.13,431.95 L176.26,431.95 L177.39,431.95 L178.52,431.95 L179.66,431.95 L180.79,431.95 L181.92,431.95" class="cu"/>
<path d="M22.18,263.99 L22.41,262.91 L22.78,261.89 L23.22,260.91 L23.73,259.97 L24.29,259.06 L24.89,258.18 L25.52,257.32 L26.18,256.49 L26.87,255.68 L27.59,254.9 L28.32,254.14 L29.08,253.4 L29.86,252.68 L30.65,251.98 L31.46,251.3 L32.28,250.64 L33.12,249.99 L33.97,249.36 L34.83,248.75 L35.7,248.16 L36.58,247.58 L37.47,247.02 L38.36,246.47 L39.27,245.93 L40.18,245.41 L41.1,244.9 L42.02,244.4 L42.95,243.92 L43.89,243.44 L44.83,242.98 L45.78,242.53 L46.73,242.09 L47.69,241.67 L48.65,241.25 L49.62,240.85 L50.59,240.46 L51.56,240.08 L52.55,239.72 L53.53,239.37 L54.52,239.03 L55.52,238.71 L56.52,238.41 L57.53,238.13 L58.54,237.88 L59.56,237.64 L60.58,237.43 L61.61,237.26 L62.64,237.11 L63.68,237 L64.73,236.94 L65.78,236.92 L66.83,236.94 L67.87,237.03 L68.91,237.17 L69.95,237.38 L70.97,237.65 L71.97,237.99 L72.95,238.4 L73.9,238.88 L74.81,239.41 L75.69,240.01 L76.54,240.66 L77.34,241.35 L78.1,242.09 L78.82,242.87 L79.51,243.68 L80.15,244.51 L80.76,245.38 L81.34,246.26 L81.89,247.16 L82.41,248.08 L82.9,249.01 L83.37,249.96 L83.82,250.91 L84.24,251.87 L84.65,252.84 L85.03,253.82 L85.41,254.8 L85.77,255.78 L86.11,256.77 L86.45,257.77 L86.77,258.76 L87.09,259.76 L87.4,260.77 L87.7,261.77 L88,262.78 L88.29,263.78 L88.58,264.79 L88.86,265.8 L89.14,266.81 L89.41,267.82 L89.68,268.83 L89.95,269.85 L90.22,270.86 L90.48,271.87 L90.75,272.89 L91.01,273.91 L91.27,274.92 L91.52,275.94 L91.78,276.96 L92.03,277.98 L92.29,278.99 L92.54,280.01 L92.79,281.03 L93.04,282.05 L93.28,283.08 L93.53,284.1 L93.77,285.12 L94.01,286.14 L94.25,287.17 L94.49,288.19 L94.73,289.21 L94.96,290.24 L95.19,291.27 L95.42,292.29 L95.65,293.32 L95.88,294.35 L96.11,295.37 L96.33,296.4 L96.55,297.43 L96.77,298.46 L96.99,299.49 L97.2,300.52 L97.42,301.55 L97.63,302.58 L97.84,303.61 L98.05,304.64 L98.26,305.67 L98.47,306.71 L98.67,307.74 L98.88,308.77 L99.08,309.81 L99.28,310.84 L99.47,311.87 L99.67,312.91 L99.86,313.94 L100.05,314.98 L100.24,316.01 L100.43,317.05 L100.62,318.09 L100.8,319.12 L100.98,320.16 L101.16,321.2 L101.34,322.23 L101.52,323.27 L101.7,324.31 L101.87,325.35 L102.05,326.39 L102.22,327.42 L102.39,328.46 L102.56,329.5 L102.73,330.54 L102.91,331.58 L103.08,332.62 L103.25,333.66 L103.42,334.7 L103.59,335.73 L103.76,336.77 L103.93,337.81 L104.1,338.85 L104.27,339.89 L104.44,340.93 L104.61,341.97 L104.78,343.01 L104.95,344.04 L105.12,345.08 L105.29,346.12 L105.46,347.16 L105.64,348.2 L105.81,349.24 L105.98,350.27 L106.16,351.31 L106.33,352.35 L106.51,353.39 L106.68,354.43 L106.86,355.46 L107.03,356.5 L107.21,357.54 L107.39,358.58 L107.57,359.61 L107.74,360.65 L107.92,361.69 L108.1,362.73 L108.28,363.76 L108.46,364.8 L108.64,365.84 L108.82,366.87 L109,367.91 L109.18,368.95 L109.36,369.98 L109.54,371.02 L109.72,372.06 L109.9,373.09 L110.08,374.13 L110.26,375.17 L110.45,376.2 L110.63,377.24 L110.81,378.27 L110.99,379.31 L111.18,380.34 L111.36,381.38 L111.55,382.42 L111.73,383.45 L111.92,384.49 L112.11,385.52 L112.3,386.55 L112.49,387.59 L112.69,388.62 L112.88,389.66 L113.08,390.69 L113.28,391.72 L113.48,392.76 L113.69,393.79 L113.89,394.82 L114.1,395.85 L114.32,396.88 L114.54,397.91 L114.76,398.94 L114.99,399.97 L115.22,400.99 L115.46,402.02 L115.7,403.04 L115.95,404.07 L116.21,405.09 L116.48,406.11 L116.76,407.12 L117.05,408.14 L117.35,409.15 L117.67,410.15 L117.99,411.16 L118.34,412.16 L118.7,413.15 L119.07,414.14 L119.47,415.12 L119.89,416.09 L120.33,417.06 L120.8,418.01 L121.3,418.95 L121.83,419.87 L122.39,420.77 L123,421.66 L123.64,422.51 L124.33,423.33 L125.06,424.11 L125.85,424.84 L126.68,425.52 L127.56,426.14 L128.48,426.69 L129.44,427.17 L130.43,427.58 L131.44,427.93 L132.47,428.21 L133.5,428.44 L134.55,428.63 L135.6,428.77 L136.65,428.89 L137.7,428.97 L138.76,429.04 L139.81,429.08 L140.86,429.12 L141.92,429.14 L142.97,429.15 L144.02,429.16 L145.07,429.16 L146.13,429.16 L147.18,429.15 L148.23,429.15 L149.28,429.14 L150.34,429.13 L151.39,429.12 L152.44,429.11 L153.5,429.09 L154.55,429.08 L155.6,429.07 L156.65,429.07 L157.71,429.06 L158.76,429.05 L159.81,429.04 L160.86,429.03 L161.92,429.03 L162.97,429.02 L164.02,429.02 L165.07,429.02 L166.13,429.01 L167.18,429.01 L168.23,429.01 L169.28,429.01 L170.34,429 L171.39,429 L172.44,429 L173.5,429 L174.55,429 L175.6,429 L176.65,429 L177.71,428.99 L178.76,428.99 L179.81,428.99 L180.86,428.99 L181.92,428.99" class="cb"/>
<path d="M22.18,263.99 L22.41,262.91 L22.78,261.89 L23.22,260.91 L23.73,259.97 L24.29,259.06 L24.89,258.18 L25.52,257.32 L26.18,256.49 L26.87,255.68 L27.59,254.9 L28.32,254.14 L29.08,253.4 L29.86,252.68 L30.65,251.98 L31.46,251.3 L32.28,250.64 L33.12,249.99 L33.97,249.36 L34.83,248.75 L35.7,248.16 L36.58,247.58 L37.47,247.02 L38.36,246.47 L39.27,245.93 L40.18,245.41 L41.1,244.9 L42.02,244.4 L42.95,243.92 L43.89,243.44 L44.83,242.98 L45.78,242.53 L46.73,242.09 L47.69,241.67 L48.65,241.25 L49.62,240.85 L50.59,240.46 L51.56,240.08 L52.55,239.72 L53.53,239.37 L54.52,239.03 L55.52,238.71 L56.52,238.41 L57.53,238.13 L58.54,237.88 L59.56,237.64 L60.58,237.43 L61.61,237.26 L62.64,237.11 L63.68,237 L64.73,236.94 L65.78,236.92 L66.83,236.94 L67.87,237.03 L68.91,237.17 L69.95,237.38 L70.97,237.65 L71.97,237.99 L72.95,238.4 L73.9,238.88 L74.81,239.41 L75.69,240.01 L76.54,240.66 L77.34,241.35 L78.1,242.09 L78.82,242.87 L79.51,243.68 L80.15,244.51 L80.76,245.38 L81.34,246.26 L81.89,247.16 L82.41,248.08 L82.9,249.01 L83.37,249.96 L83.82,250.91 L84.24,251.87 L84.65,252.84 L85.03,253.82 L85.41,254.8 L85.77,255.78 L86.11,256.77 L86.45,257.77 L86.77,258.76 L87.09,259.76 L87.4,260.77 L87.7,261.77 L88,262.78 L88.29,263.78 L88.58,264.79 L88.86,265.8 L89.14,266.81 L89.41,267.82 L89.68,268.83 L89.95,269.85 L90.22,270.86 L90.48,271.87 L90.75,272.89 L91.01,273.91 L91.27,274.92 L91.52,275.94 L91.78,276.96 L92.03,277.98 L92.29,278.99 L92.54,280.01 L92.79,281.03 L93.04,282.05 L93.28,283.08 L93.53,284.1 L93.77,285.12 L94.01,286.14 L94.25,287.17 L94.49,288.19 L94.73,289.21 L94.96,290.24 L95.19,291.27 L95.42,292.29 L95.65,293.32 L95.88,294.35 L96.11,295.37 L96.33,296.4 L96.55,297.43 L96.77,298.46 L96.99,299.49 L97.2,300.52 L97.42,301.55 L97.63,302.58 L97.84,303.61 L98.05,304.64 L98.26,305.67 L98.47,306.71 L98.67,307.74 L98.88,308.77 L99.08,309.81 L99.28,310.84 L99.47,311.87 L99.67,312.91 L99.86,313.94 L100.05,314.98 L100.24,316.01 L100.43,317.05 L100.62,318.09 L100.8,319.12 L100.98,320.16 L101.16,321.2 L101.34,322.23 L101.52,323.27 L101.7,324.31 L101.87,325.35 L102.05,326.39 L102.22,327.42 L102.39,328.46 L102.56,329.5 L102.73,330.54 L102.91,331.58 L103.08,332.62 L103.25,333.66 L103.42,334.7 L103.59,335.73 L103.76,336.77 L103.93,337.81 L104.1,338.85 L104.27,339.89 L104.44,340.93 L104.61,341.97 L104.78,343.01 L104.95,344.04 L105.12,345.08 L105.29,346.12 L105.46,347.16 L105.64,348.2 L105.81,349.24 L105.98,350.27 L106.16,351.31 L106.33,352.35 L106.51,353.39 L106.68,354.43 L106.86,355.46 L107.03,356.5 L107.21,357.54 L107.39,358.58 L107.57,359.61 L107.74,360.65 L107.92,361.69 L108.1,362.73 L108.28,363.76 L108.46,364.8 L108.64,365.84 L108.82,366.87 L109,367.91 L109.18,368.95 L109.36,369.98 L109.54,371.02 L109.72,372.06 L109.9,373.09 L110.08,374.13 L110.26,375.17 L110.45,376.2 L110.63,377.24 L110.81,378.27 L110.99,379.31 L111.18,380.34 L111.36,381.38 L111.55,382.42 L111.73,383.45 L111.92,384.49 L112.11,385.52 L112.3,386.55 L112.49,387.59 L112.69,388.62 L112.88,389.66 L113.08,390.69 L113.28,391.72 L113.48,392.76 L113.69,393.79 L113.89,394.82 L114.1,395.85 L114.32,396.88 L114.54,397.91 L114.76,398.94 L114.99,399.97 L115.22,400.99 L115.46,402.02 L115.7,403.04 L115.95,404.07 L116.21,405.09 L116.48,406.11 L116.76,407.12 L117.05,408.14 L117.35,409.15 L117.67,410.15 L117.99,411.16 L118.34,412.16 L118.7,413.15 L119.07,414.14 L119.47,415.12 L119.89,416.09 L120.33,417.06 L120.8,418.01 L121.3,418.95 L121.83,419.87 L122.39,420.77 L123,421.66 L123.64,422.51 L124.33,423.33 L125.06,424.11 L125.85,424.84 L126.68,425.52 L127.56,426.14 L128.48,426.69 L129.44,427.17 L130.43,427.58 L131.44,427.93 L132.47,428.21 L133.5,428.44 L134.55,428.63 L135.6,428.77 L136.65,428.89 L137.7,428.97 L138.76,429.04 L139.81,429.08 L140.86,429.12 L141.92,429.14 L142.97,429.15 L144.02,429.16 L145.07,429.16 L146.13,429.16 L147.18,429.15 L148.23,429.15 L149.28,429.14 L150.34,429.13 L151.39,429.12 L152.44,429.11 L153.5,429.09 L154.55,429.08 L155.6,429.07 L156.65,429.07 L157.71,429.06 L158.76,429.05 L159.81,429.04 L160.86,429.03 L161.92,429.03 L162.97,429.02 L164.02,429.02 L165.07,429.02 L166.13,429.01 L167.18,429.01 L168.23,429.01 L169.28,429.01 L170.34,429 L171.39,429 L172.44,429 L173.5,429 L174.55,429 L175.6,429 L176.65,429 L177.71,428.99 L178.76,428.99 L179.81,428.99 L180.86,428.99 L181.92,428.99" class="cu"/>
<path d="M22.47,259.47 L22.52,258.47 L22.62,257.47 L22.75,256.47 L22.93,255.49 L23.14,254.51 L23.39,253.53 L23.68,252.57 L24.02,251.62 L24.39,250.69 L24.81,249.78 L25.27,248.88 L25.78,248.02 L26.34,247.18 L26.94,246.37 L27.59,245.6 L28.28,244.87 L29.02,244.18 L29.79,243.53 L30.59,242.92 L31.43,242.35 L32.29,241.83 L33.17,241.34 L34.07,240.9 L34.99,240.48 L35.93,240.11 L36.87,239.76 L37.83,239.44 L38.79,239.15 L39.76,238.88 L40.73,238.64 L41.71,238.41 L42.69,238.21 L43.68,238.02 L44.67,237.85 L45.66,237.69 L46.66,237.55 L47.65,237.42 L48.65,237.3 L49.65,237.2 L50.64,237.1 L51.64,237.01 L52.64,236.94 L53.65,236.87 L54.65,236.81 L55.65,236.76 L56.65,236.72 L57.65,236.69 L58.66,236.66 L59.66,236.64 L60.66,236.63 L61.67,236.62 L62.67,236.63 L63.67,236.64 L64.68,236.66 L65.68,236.69 L66.68,236.72 L67.69,236.77 L68.69,236.82 L69.69,236.89 L70.69,236.96 L71.7,237.05 L72.7,237.15 L73.7,237.26 L74.7,237.39 L75.69,237.53 L76.69,237.68 L77.68,237.85 L78.67,238.04 L79.66,238.24 L80.65,238.47 L81.63,238.71 L82.61,238.98 L83.58,239.27 L84.54,239.58 L85.5,239.92 L86.45,240.28 L87.39,240.66 L88.32,241.08 L89.24,241.52 L90.14,241.99 L91.03,242.48 L91.91,243 L92.77,243.55 L93.61,244.13 L94.43,244.73 L95.24,245.36 L96.02,246.01 L96.78,246.68 L97.53,247.37 L98.25,248.08 L98.96,248.81 L99.64,249.56 L100.31,250.32 L100.95,251.1 L101.58,251.9 L102.19,252.71 L102.78,253.53 L103.35,254.36 L103.9,255.2 L104.44,256.05 L104.97,256.91 L105.47,257.78 L105.97,258.65 L106.45,259.54 L106.92,260.42 L107.37,261.32 L107.82,262.22 L108.25,263.12 L108.68,264.03 L109.09,264.94 L109.5,265.85 L109.89,266.77 L110.28,267.7 L110.67,268.62 L111.04,269.55 L111.41,270.48 L111.77,271.41 L112.13,272.34 L112.48,273.28 L112.83,274.21 L113.17,275.15 L113.51,276.09 L113.84,277.04 L114.17,277.98 L114.5,278.93 L114.82,279.87 L115.14,280.82 L115.45,281.77 L115.76,282.72 L116.07,283.67 L116.37,284.62 L116.67,285.58 L116.97,286.53 L117.26,287.49 L117.55,288.44 L117.84,289.4 L118.13,290.36 L118.41,291.32 L118.69,292.28 L118.97,293.24 L119.24,294.2 L119.51,295.16 L119.78,296.13 L120.05,297.09 L120.32,298.05 L120.58,299.02 L120.84,299.99 L121.1,300.95 L121.35,301.92 L121.61,302.89 L121.86,303.85 L122.11,304.82 L122.36,305.79 L122.61,306.76 L122.86,307.73 L123.11,308.7 L123.35,309.67 L123.6,310.64 L123.84,311.61 L124.08,312.58 L124.32,313.56 L124.56,314.53 L124.81,315.5 L125.05,316.47 L125.29,317.44 L125.53,318.41 L125.77,319.39 L126.01,320.36 L126.25,321.33 L126.49,322.3 L126.73,323.28 L126.97,324.25 L127.21,325.22 L127.45,326.19 L127.69,327.17 L127.93,328.14 L128.17,329.11 L128.41,330.08 L128.65,331.06 L128.89,332.03 L129.13,333 L129.37,333.97 L129.61,334.95 L129.86,335.92 L130.1,336.89 L130.34,337.86 L130.58,338.84 L130.82,339.81 L131.07,340.78 L131.31,341.75 L131.55,342.72 L131.8,343.7 L132.04,344.67 L132.29,345.64 L132.53,346.61 L132.78,347.58 L133.02,348.56 L133.27,349.53 L133.52,350.5 L133.76,351.47 L134.01,352.44 L134.26,353.41 L134.5,354.38 L134.75,355.35 L135,356.33 L135.25,357.3 L135.5,358.27 L135.75,359.24 L136,360.21 L136.25,361.18 L136.49,362.15 L136.74,363.12 L136.99,364.09 L137.24,365.06 L137.49,366.03 L137.74,367 L137.99,367.97 L138.24,368.94 L138.49,369.91 L138.74,370.88 L138.98,371.84 L139.23,372.81 L139.48,373.78 L139.72,374.75 L139.97,375.72 L140.21,376.69 L140.45,377.66 L140.7,378.63 L140.94,379.6 L141.18,380.57 L141.42,381.54 L141.66,382.51 L141.9,383.48 L142.13,384.45 L142.37,385.43 L142.61,386.4 L142.84,387.37 L143.08,388.34 L143.31,389.31 L143.55,390.28 L143.78,391.26 L144.02,392.23 L144.26,393.2 L144.51,394.17 L144.76,395.14 L145.01,396.11 L145.27,397.07 L145.54,398.04 L145.82,399 L146.1,399.96 L146.4,400.92 L146.7,401.87 L147.02,402.82 L147.35,403.77 L147.69,404.71 L148.05,405.65 L148.42,406.58 L148.8,407.51 L149.2,408.43 L149.61,409.34 L150.04,410.25 L150.49,411.15 L150.96,412.04 L151.45,412.92 L151.96,413.79 L152.49,414.64 L153.04,415.48 L153.62,416.3 L154.23,417.11 L154.87,417.89 L155.54,418.64 L156.24,419.37 L156.97,420.06 L157.74,420.72 L158.54,421.33 L159.38,421.9 L160.25,422.42 L161.14,422.89 L162.06,423.3 L163,423.66 L163.96,423.96 L164.94,424.22 L165.92,424.42 L166.91,424.59 L167.91,424.72 L168.91,424.81 L169.91,424.87 L170.91,424.91 L171.92,424.92 L172.92,424.92 L173.92,424.9 L174.92,424.86 L175.92,424.81 L176.92,424.76 L177.92,424.69 L178.92,424.62 L179.92,424.55 L180.92,424.46 L181.92,424.38" class="cb"/>
<path d="M22.47,259.47 L22.52,258.47 L22.62,257.47 L22.75,256.47 L22.93,255.49 L23.14,254.51 L23.39,253.53 L23.68,252.57 L24.02,251.62 L24.39,250.69 L24.81,249.78 L25.27,248.88 L25.78,248.02 L26.34,247.18 L26.94,246.37 L27.59,245.6 L28.28,244.87 L29.02,244.18 L29.79,243.53 L30.59,242.92 L31.43,242.35 L32.29,241.83 L33.17,241.34 L34.07,240.9 L34.99,240.48 L35.93,240.11 L36.87,239.76 L37.83,239.44 L38.79,239.15 L39.76,238.88 L40.73,238.64 L41.71,238.41 L42.69,238.21 L43.68,238.02 L44.67,237.85 L45.66,237.69 L46.66,237.55 L47.65,237.42 L48.65,237.3 L49.65,237.2 L50.64,237.1 L51.64,237.01 L52.64,236.94 L53.65,236.87 L54.65,236.81 L55.65,236.76 L56.65,236.72 L57.65,236.69 L58.66,236.66 L59.66,236.64 L60.66,236.63 L61.67,236.62 L62.67,236.63 L63.67,236.64 L64.68,236.66 L65.68,236.69 L66.68,236.72 L67.69,236.77 L68.69,236.82 L69.69,236.89 L70.69,236.96 L71.7,237.05 L72.7,237.15 L73.7,237.26 L74.7,237.39 L75.69,237.53 L76.69,237.68 L77.68,237.85 L78.67,238.04 L79.66,238.24 L80.65,238.47 L81.63,238.71 L82.61,238.98 L83.58,239.27 L84.54,239.58 L85.5,239.92 L86.45,240.28 L87.39,240.66 L88.32,241.08 L89.24,241.52 L90.14,241.99 L91.03,242.48 L91.91,243 L92.77,243.55 L93.61,244.13 L94.43,244.73 L95.24,245.36 L96.02,246.01 L96.78,246.68 L97.53,247.37 L98.25,248.08 L98.96,248.81 L99.64,249.56 L100.31,250.32 L100.95,251.1 L101.58,251.9 L102.19,252.71 L102.78,253.53 L103.35,254.36 L103.9,255.2 L104.44,256.05 L104.97,256.91 L105.47,257.78 L105.97,258.65 L106.45,259.54 L106.92,260.42 L107.37,261.32 L107.82,262.22 L108.25,263.12 L108.68,264.03 L109.09,264.94 L109.5,265.85 L109.89,266.77 L110.28,267.7 L110.67,268.62 L111.04,269.55 L111.41,270.48 L111.77,271.41 L112.13,272.34 L112.48,273.28 L112.83,274.21 L113.17,275.15 L113.51,276.09 L113.84,277.04 L114.17,277.98 L114.5,278.93 L114.82,279.87 L115.14,280.82 L115.45,281.77 L115.76,282.72 L116.07,283.67 L116.37,284.62 L116.67,285.58 L116.97,286.53 L117.26,287.49 L117.55,288.44 L117.84,289.4 L118.13,290.36 L118.41,291.32 L118.69,292.28 L118.97,293.24 L119.24,294.2 L119.51,295.16 L119.78,296.13 L120.05,297.09 L120.32,298.05 L120.58,299.02 L120.84,299.99 L121.1,300.95 L121.35,301.92 L121.61,302.89 L121.86,303.85 L122.11,304.82 L122.36,305.79 L122.61,306.76 L122.86,307.73 L123.11,308.7 L123.35,309.67 L123.6,310.64 L123.84,311.61 L124.08,312.58 L124.32,313.56 L124.56,314.53 L124.81,315.5 L125.05,316.47 L125.29,317.44 L125.53,318.41 L125.77,319.39 L126.01,320.36 L126.25,321.33 L126.49,322.3 L126.73,323.28 L126.97,324.25 L127.21,325.22 L127.45,326.19 L127.69,327.17 L127.93,328.14 L128.17,329.11 L128.41,330.08 L128.65,331.06 L128.89,332.03 L129.13,333 L129.37,333.97 L129.61,334.95 L129.86,335.92 L130.1,336.89 L130.34,337.86 L130.58,338.84 L130.82,339.81 L131.07,340.78 L131.31,341.75 L131.55,342.72 L131.8,343.7 L132.04,344.67 L132.29,345.64 L132.53,346.61 L132.78,347.58 L133.02,348.56 L133.27,349.53 L133.52,350.5 L133.76,351.47 L134.01,352.44 L134.26,353.41 L134.5,354.38 L134.75,355.35 L135,356.33 L135.25,357.3 L135.5,358.27 L135.75,359.24 L136,360.21 L136.25,361.18 L136.49,362.15 L136.74,363.12 L136.99,364.09 L137.24,365.06 L137.49,366.03 L137.74,367 L137.99,367.97 L138.24,368.94 L138.49,369.91 L138.74,370.88 L138.98,371.84 L139.23,372.81 L139.48,373.78 L139.72,374.75 L139.97,375.72 L140.21,376.69 L140.45,377.66 L140.7,378.63 L140.94,379.6 L141.18,380.57 L141.42,381.54 L141.66,382.51 L141.9,383.48 L142.13,384.45 L142.37,385.43 L142.61,386.4 L142.84,387.37 L143.08,388.34 L143.31,389.31 L143.55,390.28 L143.78,391.26 L144.02,392.23 L144.26,393.2 L144.51,394.17 L144.76,395.14 L145.01,396.11 L145.27,397.07 L145.54,398.04 L145.82,399 L146.1,399.96 L146.4,400.92 L146.7,401.87 L147.02,402.82 L147.35,403.77 L147.69,404.71 L148.05,405.65 L148.42,406.58 L148.8,407.51 L149.2,408.43 L149.61,409.34 L150.04,410.25 L150.49,411.15 L150.96,412.04 L151.45,412.92 L151.96,413.79 L152.49,414.64 L153.04,415.48 L153.62,416.3 L154.23,417.11 L154.87,417.89 L155.54,418.64 L156.24,419.37 L156.97,420.06 L157.74,420.72 L158.54,421.33 L159.38,421.9 L160.25,422.42 L161.14,422.89 L162.06,423.3 L163,423.66 L163.96,423.96 L164.94,424.22 L165.92,424.42 L166.91,424.59 L167.91,424.72 L168.91,424.81 L169.91,424.87 L170.91,424.91 L171.92,424.92 L172.92,424.92 L173.92,424.9 L174.92,424.86 L175.92,424.81 L176.92,424.76 L177.92,424.69 L178.92,424.62 L179.92,424.55 L180.92,424.46 L181.92,424.38" class="cu"/>
<path d="M22.47,254.88 L22.69,253.87 L22.97,252.87 L23.27,251.89 L23.62,250.91 L23.99,249.95 L24.4,249 L24.84,248.07 L25.32,247.16 L25.84,246.27 L26.4,245.41 L27.01,244.57 L27.65,243.78 L28.35,243.02 L29.09,242.31 L29.87,241.65 L30.7,241.04 L31.56,240.49 L32.46,240 L33.38,239.56 L34.33,239.18 L35.29,238.84 L36.27,238.55 L37.26,238.3 L38.27,238.08 L39.27,237.9 L40.29,237.74 L41.31,237.61 L42.33,237.49 L43.35,237.4 L44.37,237.32 L45.4,237.25 L46.43,237.2 L47.46,237.16 L48.49,237.12 L49.52,237.09 L50.55,237.06 L51.58,237.05 L52.61,237.03 L53.64,237.02 L54.67,237.01 L55.7,237.01 L56.73,237.01 L57.77,237.01 L58.8,237.02 L59.83,237.03 L60.86,237.04 L61.9,237.06 L62.93,237.08 L63.96,237.11 L65,237.15 L66.03,237.19 L67.06,237.24 L68.09,237.3 L69.12,237.37 L70.15,237.45 L71.18,237.54 L72.21,237.64 L73.24,237.75 L74.27,237.87 L75.29,238 L76.32,238.15 L77.34,238.31 L78.36,238.48 L79.38,238.66 L80.39,238.85 L81.41,239.05 L82.42,239.27 L83.42,239.49 L84.43,239.73 L85.43,239.98 L86.43,240.23 L87.43,240.5 L88.42,240.78 L89.41,241.06 L90.39,241.36 L91.38,241.67 L92.35,241.98 L93.33,242.31 L94.3,242.65 L95.26,243 L96.22,243.36 L97.17,243.74 L98.12,244.13 L99.06,244.53 L100,244.95 L100.92,245.38 L101.84,245.82 L102.76,246.28 L103.66,246.76 L104.56,247.25 L105.45,247.75 L106.33,248.28 L107.19,248.81 L108.05,249.37 L108.9,249.93 L109.74,250.52 L110.57,251.12 L111.39,251.73 L112.2,252.36 L113,253 L113.78,253.65 L114.56,254.32 L115.32,255 L116.08,255.7 L116.82,256.4 L117.55,257.12 L118.28,257.85 L118.99,258.59 L119.69,259.34 L120.38,260.1 L121.07,260.87 L121.74,261.64 L122.41,262.43 L123.07,263.22 L123.72,264.02 L124.36,264.83 L124.99,265.64 L125.61,266.47 L126.22,267.3 L126.83,268.13 L127.42,268.97 L128.01,269.82 L128.59,270.68 L129.16,271.54 L129.73,272.4 L130.28,273.28 L130.83,274.15 L131.37,275.03 L131.91,275.92 L132.43,276.81 L132.95,277.71 L133.46,278.61 L133.96,279.51 L134.46,280.42 L134.95,281.33 L135.43,282.24 L135.9,283.16 L136.37,284.09 L136.83,285.01 L137.29,285.94 L137.73,286.88 L138.18,287.81 L138.61,288.75 L139.04,289.69 L139.46,290.64 L139.88,291.58 L140.29,292.53 L140.69,293.48 L141.09,294.44 L141.49,295.39 L141.88,296.35 L142.27,297.31 L142.65,298.27 L143.03,299.23 L143.41,300.19 L143.78,301.16 L144.16,302.12 L144.53,303.09 L144.89,304.05 L145.26,305.02 L145.62,305.99 L145.98,306.95 L146.34,307.92 L146.7,308.89 L147.05,309.86 L147.41,310.83 L147.76,311.8 L148.11,312.77 L148.46,313.75 L148.81,314.72 L149.16,315.69 L149.51,316.66 L149.86,317.64 L150.2,318.61 L150.55,319.58 L150.89,320.56 L151.23,321.53 L151.57,322.51 L151.92,323.48 L152.26,324.46 L152.6,325.43 L152.93,326.41 L153.27,327.38 L153.61,328.36 L153.95,329.33 L154.29,330.31 L154.62,331.29 L154.96,332.26 L155.3,333.24 L155.63,334.22 L155.97,335.19 L156.31,336.17 L156.64,337.15 L156.98,338.12 L157.31,339.1 L157.65,340.08 L157.98,341.05 L158.31,342.03 L158.65,343.01 L158.98,343.99 L159.31,344.96 L159.64,345.94 L159.97,346.92 L160.3,347.9 L160.63,348.88 L160.95,349.86 L161.28,350.84 L161.61,351.82 L161.93,352.8 L162.25,353.78 L162.58,354.76 L162.9,355.74 L163.22,356.72 L163.54,357.7 L163.87,358.68 L164.19,359.66 L164.51,360.64 L164.84,361.62 L165.17,362.6 L165.49,363.58 L165.83,364.55 L166.16,365.53 L166.5,366.51 L166.83,367.48 L167.18,368.46 L167.52,369.43 L167.87,370.4 L168.22,371.37 L168.58,372.34 L168.94,373.31 L169.3,374.27 L169.67,375.24 L170.04,376.2 L170.41,377.16 L170.79,378.12 L171.17,379.08 L171.56,380.04 L171.95,380.99 L172.34,381.95 L172.74,382.9 L173.14,383.85 L173.54,384.8 L173.95,385.75 L174.35,386.7 L174.77,387.64 L175.18,388.59 L175.6,389.53 L176.02,390.48 L176.44,391.42 L176.86,392.36 L177.29,393.3 L177.71,394.24 L178.15,395.18 L178.58,396.12 L179.02,397.06 L179.47,397.99 L179.92,398.93 L180.38,399.86 L180.85,400.78 L181.33,401.71 L181.82,402.62 L182.33,403.53 L182.85,404.43 L183.39,405.33 L183.95,406.21 L184.53,407.08 L185.13,407.94 L185.75,408.78 L186.4,409.61 L187.06,410.42 L187.75,411.21 L188.47,411.99 L189.2,412.74 L189.96,413.47 L190.75,414.17 L191.55,414.85 L192.38,415.51 L193.23,416.13 L194.1,416.73 L194.98,417.3 L195.89,417.83 L196.81,418.33 L197.75,418.8 L198.71,419.24 L199.67,419.64 L200.65,420.01 L201.64,420.34 L202.63,420.64 L203.63,420.91 L204.64,421.16 L205.65,421.37 L206.67,421.55 L207.69,421.71 L208.71,421.85 L209.73,421.96 L210.76,422.05 L211.78,422.12 L212.81,422.18 L213.83,422.22" class="cb"/>
<path d="M22.47,254.88 L22.69,253.87 L22.97,252.87 L23.27,251.89 L23.62,250.91 L23.99,249.95 L24.4,249 L24.84,248.07 L25.32,247.16 L25.84,246.27 L26.4,245.41 L27.01,244.57 L27.65,243.78 L28.35,243.02 L29.09,242.31 L29.87,241.65 L30.7,241.04 L31.56,240.49 L32.46,240 L33.38,239.56 L34.33,239.18 L35.29,238.84 L36.27,238.55 L37.26,238.3 L38.27,238.08 L39.27,237.9 L40.29,237.74 L41.31,237.61 L42.33,237.49 L43.35,237.4 L44.37,237.32 L45.4,237.25 L46.43,237.2 L47.46,237.16 L48.49,237.12 L49.52,237.09 L50.55,237.06 L51.58,237.05 L52.61,237.03 L53.64,237.02 L54.67,237.01 L55.7,237.01 L56.73,237.01 L57.77,237.01 L58.8,237.02 L59.83,237.03 L60.86,237.04 L61.9,237.06 L62.93,237.08 L63.96,237.11 L65,237.15 L66.03,237.19 L67.06,237.24 L68.09,237.3 L69.12,237.37 L70.15,237.45 L71.18,237.54 L72.21,237.64 L73.24,237.75 L74.27,237.87 L75.29,238 L76.32,238.15 L77.34,238.31 L78.36,238.48 L79.38,238.66 L80.39,238.85 L81.41,239.05 L82.42,239.27 L83.42,239.49 L84.43,239.73 L85.43,239.98 L86.43,240.23 L87.43,240.5 L88.42,240.78 L89.41,241.06 L90.39,241.36 L91.38,241.67 L92.35,241.98 L93.33,242.31 L94.3,242.65 L95.26,243 L96.22,243.36 L97.17,243.74 L98.12,244.13 L99.06,244.53 L100,244.95 L100.92,245.38 L101.84,245.82 L102.76,246.28 L103.66,246.76 L104.56,247.25 L105.45,247.75 L106.33,248.28 L107.19,248.81 L108.05,249.37 L108.9,249.93 L109.74,250.52 L110.57,251.12 L111.39,251.73 L112.2,252.36 L113,253 L113.78,253.65 L114.56,254.32 L115.32,255 L116.08,255.7 L116.82,256.4 L117.55,257.12 L118.28,257.85 L118.99,258.59 L119.69,259.34 L120.38,260.1 L121.07,260.87 L121.74,261.64 L122.41,262.43 L123.07,263.22 L123.72,264.02 L124.36,264.83 L124.99,265.64 L125.61,266.47 L126.22,267.3 L126.83,268.13 L127.42,268.97 L128.01,269.82 L128.59,270.68 L129.16,271.54 L129.73,272.4 L130.28,273.28 L130.83,274.15 L131.37,275.03 L131.91,275.92 L132.43,276.81 L132.95,277.71 L133.46,278.61 L133.96,279.51 L134.46,280.42 L134.95,281.33 L135.43,282.24 L135.9,283.16 L136.37,284.09 L136.83,285.01 L137.29,285.94 L137.73,286.88 L138.18,287.81 L138.61,288.75 L139.04,289.69 L139.46,290.64 L139.88,291.58 L140.29,292.53 L140.69,293.48 L141.09,294.44 L141.49,295.39 L141.88,296.35 L142.27,297.31 L142.65,298.27 L143.03,299.23 L143.41,300.19 L143.78,301.16 L144.16,302.12 L144.53,303.09 L144.89,304.05 L145.26,305.02 L145.62,305.99 L145.98,306.95 L146.34,307.92 L146.7,308.89 L147.05,309.86 L147.41,310.83 L147.76,311.8 L148.11,312.77 L148.46,313.75 L148.81,314.72 L149.16,315.69 L149.51,316.66 L149.86,317.64 L150.2,318.61 L150.55,319.58 L150.89,320.56 L151.23,321.53 L151.57,322.51 L151.92,323.48 L152.26,324.46 L152.6,325.43 L152.93,326.41 L153.27,327.38 L153.61,328.36 L153.95,329.33 L154.29,330.31 L154.62,331.29 L154.96,332.26 L155.3,333.24 L155.63,334.22 L155.97,335.19 L156.31,336.17 L156.64,337.15 L156.98,338.12 L157.31,339.1 L157.65,340.08 L157.98,341.05 L158.31,342.03 L158.65,343.01 L158.98,343.99 L159.31,344.96 L159.64,345.94 L159.97,346.92 L160.3,347.9 L160.63,348.88 L160.95,349.86 L161.28,350.84 L161.61,351.82 L161.93,352.8 L162.25,353.78 L162.58,354.76 L162.9,355.74 L163.22,356.72 L163.54,357.7 L163.87,358.68 L164.19,359.66 L164.51,360.64 L164.84,361.62 L165.17,362.6 L165.49,363.58 L165.83,364.55 L166.16,365.53 L166.5,366.51 L166.83,367.48 L167.18,368.46 L167.52,369.43 L167.87,370.4 L168.22,371.37 L168.58,372.34 L168.94,373.31 L169.3,374.27 L169.67,375.24 L170.04,376.2 L170.41,377.16 L170.79,378.12 L171.17,379.08 L171.56,380.04 L171.95,380.99 L172.34,381.95 L172.74,382.9 L173.14,383.85 L173.54,384.8 L173.95,385.75 L174.35,386.7 L174.77,387.64 L175.18,388.59 L175.6,389.53 L176.02,390.48 L176.44,391.42 L176.86,392.36 L177.29,393.3 L177.71,394.24 L178.15,395.18 L178.58,396.12 L179.02,397.06 L179.47,397.99 L179.92,398.93 L180.38,399.86 L180.85,400.78 L181.33,401.71 L181.82,402.62 L182.33,403.53 L182.85,404.43 L183.39,405.33 L183.95,406.21 L184.53,407.08 L185.13,407.94 L185.75,408.78 L186.4,409.61 L187.06,410.42 L187.75,411.21 L188.47,411.99 L189.2,412.74 L189.96,413.47 L190.75,414.17 L191.55,414.85 L192.38,415.51 L193.23,416.13 L194.1,416.73 L194.98,417.3 L195.89,417.83 L196.81,418.33 L197.75,418.8 L198.71,419.24 L199.67,419.64 L200.65,420.01 L201.64,420.34 L202.63,420.64 L203.63,420.91 L204.64,421.16 L205.65,421.37 L206.67,421.55 L207.69,421.71 L208.71,421.85 L209.73,421.96 L210.76,422.05 L211.78,422.12 L212.81,422.18 L213.83,422.22" class="cu"/>
<rect x="47.1" y="389.3" width="15.8" height="5.4" fill="#fff"/>
<text x="47.6" y="393.9" class="el" textLength="14.4" lengthAdjust="spacingAndGlyphs">6 MeV-</text>
<rect x="67.25" y="389.3" width="15.95" height="5.4" fill="#fff"/>
<text x="67.75" y="393.9" class="el" textLength="14.55" lengthAdjust="spacingAndGlyphs">9 MeV-</text>
<rect x="91.5" y="389.3" width="17.3" height="5.4" fill="#fff"/>
<text x="92" y="393.9" class="el" textLength="15.9" lengthAdjust="spacingAndGlyphs">12 MeV-</text>
<rect x="124.3" y="389.3" width="19.1" height="5.4" fill="#fff"/>
<text x="124.8" y="393.9" class="el" textLength="17.7" lengthAdjust="spacingAndGlyphs">16 MeV-</text>
<rect x="153.7" y="389.3" width="17.6" height="5.4" fill="#fff"/>
<text x="154.2" y="393.9" class="el" textLength="16.2" lengthAdjust="spacingAndGlyphs">20 MeV-</text>
<line x1="256.5" y1="414.25" x2="447.8" y2="414.25" class="g"/>
<line x1="256.5" y1="394.5" x2="447.8" y2="394.5" class="g"/>
<line x1="256.5" y1="374.75" x2="447.8" y2="374.75" class="g"/>
<line x1="256.5" y1="355" x2="447.8" y2="355" class="g"/>
<line x1="256.5" y1="335.25" x2="447.8" y2="335.25" class="g"/>
<line x1="256.5" y1="315.5" x2="447.8" y2="315.5" class="g"/>
<line x1="256.5" y1="295.75" x2="447.8" y2="295.75" class="g"/>
<line x1="256.5" y1="276" x2="447.8" y2="276" class="g"/>
<line x1="256.5" y1="256.25" x2="447.8" y2="256.25" class="g"/>
<line x1="256.5" y1="236.5" x2="447.8" y2="236.5" class="g"/>
<line x1="256.5" y1="236.5" x2="256.5" y2="434" class="ax"/>
<line x1="256.5" y1="434" x2="447.8" y2="434" class="ax"/>
<text x="251.9" y="436" class="tk" text-anchor="end">0</text>
<text x="251.9" y="416.25" class="tk" text-anchor="end">10</text>
<text x="251.9" y="396.5" class="tk" text-anchor="end">20</text>
<text x="251.9" y="376.75" class="tk" text-anchor="end">30</text>
<text x="251.9" y="357" class="tk" text-anchor="end">40</text>
<text x="251.9" y="337.25" class="tk" text-anchor="end">50</text>
<text x="251.9" y="317.5" class="tk" text-anchor="end">60</text>
<text x="251.9" y="297.75" class="tk" text-anchor="end">70</text>
<text x="251.9" y="278" class="tk" text-anchor="end">80</text>
<text x="251.9" y="258.25" class="tk" text-anchor="end">90</text>
<text x="251.9" y="239.3" class="tk" text-anchor="end">100</text>
<text x="256.5" y="443.5" class="tk" text-anchor="middle">0</text>
<text x="288.38" y="443.5" class="tk" text-anchor="middle">2</text>
<text x="320.27" y="443.5" class="tk" text-anchor="middle">4</text>
<text x="352.15" y="443.5" class="tk" text-anchor="middle">6</text>
<text x="384.03" y="443.5" class="tk" text-anchor="middle">8</text>
<text x="415.92" y="443.5" class="tk" text-anchor="middle">10</text>
<text x="447.8" y="443.5" class="tk" text-anchor="middle">12</text>
<text class="ttl" text-anchor="middle" textLength="34" lengthAdjust="spacingAndGlyphs" transform="translate(238.7,335.25) rotate(-90)">Percent Dose</text>
<text x="352.15" y="453" class="ttl" text-anchor="middle" textLength="29.7" lengthAdjust="spacingAndGlyphs">Depth (cm)</text>
<rect x="442.7" y="233.7" width="12.3" height="15" fill="#fff"/>
<text class="let" transform="translate(445.2,246.7) scale(1.0,1)">d</text>
<line x1="400" y1="272.1" x2="416.6" y2="272.1" class="lgb"/>
<line x1="400" y1="290.3" x2="416.6" y2="290.3" class="lgr"/>
<text x="418.3" y="273.7" class="lg" textLength="25.6" lengthAdjust="spacingAndGlyphs">Cerrobend</text>
<text x="418.3" y="291.9" class="lg" textLength="17" lengthAdjust="spacingAndGlyphs">Copper</text>
<path d="M256.64,284.49 L257.36,284.28 L258.08,283.55 L258.69,282.61 L259.23,281.59 L259.72,280.53 L260.17,279.44 L260.59,278.33 L261,277.21 L261.39,276.08 L261.77,274.95 L262.15,273.82 L262.53,272.68 L262.91,271.54 L263.29,270.4 L263.67,269.26 L264.05,268.12 L264.45,266.98 L264.84,265.84 L265.25,264.7 L265.66,263.56 L266.07,262.43 L266.49,261.29 L266.91,260.16 L267.34,259.02 L267.77,257.89 L268.2,256.76 L268.63,255.63 L269.06,254.5 L269.48,253.36 L269.91,252.23 L270.33,251.1 L270.75,249.98 L271.16,248.85 L271.58,247.72 L271.99,246.59 L272.4,245.47 L272.82,244.36 L273.25,243.25 L273.69,242.15 L274.15,241.07 L274.65,240.01 L275.2,239 L275.82,238.08 L276.53,237.37 L277.26,237.09 L278.05,237.42 L278.8,238.19 L279.44,239.14 L279.99,240.19 L280.49,241.27 L280.93,242.38 L281.34,243.51 L281.72,244.65 L282.08,245.81 L282.41,246.97 L282.72,248.13 L283.02,249.3 L283.3,250.48 L283.56,251.65 L283.81,252.83 L284.05,254.02 L284.28,255.2 L284.5,256.39 L284.71,257.58 L284.91,258.77 L285.11,259.96 L285.3,261.15 L285.48,262.35 L285.66,263.54 L285.84,264.73 L286.01,265.93 L286.18,267.12 L286.34,268.32 L286.5,269.52 L286.66,270.71 L286.82,271.91 L286.97,273.11 L287.13,274.3 L287.28,275.5 L287.43,276.7 L287.58,277.89 L287.73,279.09 L287.88,280.29 L288.03,281.49 L288.17,282.68 L288.32,283.88 L288.46,285.08 L288.61,286.28 L288.75,287.48 L288.89,288.68 L289.03,289.87 L289.17,291.07 L289.31,292.27 L289.44,293.47 L289.57,294.67 L289.71,295.87 L289.84,297.07 L289.96,298.27 L290.09,299.47 L290.21,300.67 L290.33,301.87 L290.45,303.07 L290.57,304.27 L290.69,305.47 L290.8,306.68 L290.91,307.88 L291.02,309.08 L291.13,310.28 L291.23,311.48 L291.34,312.69 L291.44,313.89 L291.55,315.09 L291.65,316.29 L291.75,317.49 L291.85,318.7 L291.95,319.9 L292.05,321.1 L292.15,322.3 L292.25,323.51 L292.35,324.71 L292.45,325.91 L292.55,327.11 L292.66,328.32 L292.76,329.52 L292.87,330.72 L292.97,331.92 L293.08,333.12 L293.19,334.33 L293.3,335.53 L293.4,336.73 L293.52,337.93 L293.63,339.13 L293.74,340.33 L293.85,341.54 L293.96,342.74 L294.08,343.94 L294.19,345.14 L294.3,346.34 L294.42,347.54 L294.53,348.74 L294.64,349.94 L294.75,351.15 L294.87,352.35 L294.98,353.55 L295.09,354.75 L295.19,355.95 L295.3,357.15 L295.41,358.36 L295.51,359.56 L295.62,360.76 L295.72,361.96 L295.82,363.16 L295.93,364.37 L296.03,365.57 L296.13,366.77 L296.23,367.97 L296.33,369.18 L296.42,370.38 L296.52,371.58 L296.62,372.79 L296.72,373.99 L296.82,375.19 L296.92,376.39 L297.02,377.6 L297.12,378.8 L297.22,380 L297.32,381.21 L297.42,382.41 L297.52,383.61 L297.63,384.82 L297.73,386.02 L297.84,387.22 L297.95,388.42 L298.06,389.63 L298.17,390.83 L298.29,392.03 L298.41,393.23 L298.54,394.44 L298.67,395.64 L298.8,396.84 L298.94,398.04 L299.09,399.24 L299.24,400.44 L299.4,401.64 L299.57,402.83 L299.74,404.03 L299.93,405.22 L300.12,406.42 L300.33,407.61 L300.54,408.8 L300.76,409.99 L300.99,411.18 L301.24,412.37 L301.49,413.55 L301.76,414.73 L302.04,415.91 L302.33,417.09 L302.63,418.27 L302.95,419.44 L303.29,420.6 L303.64,421.76 L304.02,422.92 L304.43,424.06 L304.86,425.2 L305.34,426.31 L305.87,427.41 L306.46,428.47 L307.14,429.48 L307.92,430.4 L308.83,431.19 L309.87,431.8 L311,432.2 L312.17,432.42 L313.37,432.53 L314.57,432.57 L315.77,432.57 L316.98,432.56 L318.18,432.54 L319.39,432.53 L320.6,432.51 L321.8,432.49 L323.01,432.48 L324.22,432.47 L325.42,432.46 L326.63,432.45 L327.84,432.44 L329.04,432.43 L330.25,432.43 L331.46,432.43 L332.66,432.43 L333.87,432.43 L335.08,432.43 L336.28,432.44 L337.49,432.45 L338.7,432.46 L339.9,432.47 L341.11,432.48 L342.32,432.5 L343.52,432.51 L344.73,432.53 L345.94,432.54 L347.14,432.56 L348.35,432.57 L349.56,432.58 L350.76,432.59 L351.97,432.6 L353.18,432.6 L354.38,432.61 L355.59,432.61 L356.79,432.61 L358,432.62 L359.21,432.61 L360.41,432.61 L361.62,432.61 L362.83,432.61 L364.03,432.61 L365.24,432.61 L366.45,432.6 L367.65,432.6 L368.86,432.6 L370.07,432.59 L371.27,432.59 L372.48,432.59 L373.69,432.58 L374.89,432.58 L376.1,432.57 L377.31,432.57 L378.51,432.57 L379.72,432.56 L380.93,432.55 L382.13,432.55 L383.34,432.54 L384.55,432.54 L385.75,432.53 L386.96,432.53 L388.17,432.52 L389.37,432.52 L390.58,432.51 L391.79,432.51 L392.99,432.5 L394.2,432.5 L395.4,432.49 L396.61,432.49 L397.82,432.48 L399.02,432.48 L400.23,432.47 L401.44,432.47 L402.64,432.47 L403.85,432.46 L405.06,432.46 L406.26,432.45 L407.47,432.45 L408.68,432.45 L409.88,432.44 L411.09,432.44 L412.3,432.44 L413.5,432.43 L414.71,432.43 L415.92,432.43" class="cb"/>
<path d="M256.64,284.49 L257.36,284.28 L258.08,283.55 L258.69,282.61 L259.23,281.59 L259.72,280.53 L260.17,279.44 L260.59,278.33 L261,277.21 L261.39,276.08 L261.77,274.95 L262.15,273.82 L262.53,272.68 L262.91,271.54 L263.29,270.4 L263.67,269.26 L264.05,268.12 L264.45,266.98 L264.84,265.84 L265.25,264.7 L265.66,263.56 L266.07,262.43 L266.49,261.29 L266.91,260.16 L267.34,259.02 L267.77,257.89 L268.2,256.76 L268.63,255.63 L269.06,254.5 L269.48,253.36 L269.91,252.23 L270.33,251.1 L270.75,249.98 L271.16,248.85 L271.58,247.72 L271.99,246.59 L272.4,245.47 L272.82,244.36 L273.25,243.25 L273.69,242.15 L274.15,241.07 L274.65,240.01 L275.2,239 L275.82,238.08 L276.53,237.37 L277.26,237.09 L278.05,237.42 L278.8,238.19 L279.44,239.14 L279.99,240.19 L280.49,241.27 L280.93,242.38 L281.34,243.51 L281.72,244.65 L282.08,245.81 L282.41,246.97 L282.72,248.13 L283.02,249.3 L283.3,250.48 L283.56,251.65 L283.81,252.83 L284.05,254.02 L284.28,255.2 L284.5,256.39 L284.71,257.58 L284.91,258.77 L285.11,259.96 L285.3,261.15 L285.48,262.35 L285.66,263.54 L285.84,264.73 L286.01,265.93 L286.18,267.12 L286.34,268.32 L286.5,269.52 L286.66,270.71 L286.82,271.91 L286.97,273.11 L287.13,274.3 L287.28,275.5 L287.43,276.7 L287.58,277.89 L287.73,279.09 L287.88,280.29 L288.03,281.49 L288.17,282.68 L288.32,283.88 L288.46,285.08 L288.61,286.28 L288.75,287.48 L288.89,288.68 L289.03,289.87 L289.17,291.07 L289.31,292.27 L289.44,293.47 L289.57,294.67 L289.71,295.87 L289.84,297.07 L289.96,298.27 L290.09,299.47 L290.21,300.67 L290.33,301.87 L290.45,303.07 L290.57,304.27 L290.69,305.47 L290.8,306.68 L290.91,307.88 L291.02,309.08 L291.13,310.28 L291.23,311.48 L291.34,312.69 L291.44,313.89 L291.55,315.09 L291.65,316.29 L291.75,317.49 L291.85,318.7 L291.95,319.9 L292.05,321.1 L292.15,322.3 L292.25,323.51 L292.35,324.71 L292.45,325.91 L292.55,327.11 L292.66,328.32 L292.76,329.52 L292.87,330.72 L292.97,331.92 L293.08,333.12 L293.19,334.33 L293.3,335.53 L293.4,336.73 L293.52,337.93 L293.63,339.13 L293.74,340.33 L293.85,341.54 L293.96,342.74 L294.08,343.94 L294.19,345.14 L294.3,346.34 L294.42,347.54 L294.53,348.74 L294.64,349.94 L294.75,351.15 L294.87,352.35 L294.98,353.55 L295.09,354.75 L295.19,355.95 L295.3,357.15 L295.41,358.36 L295.51,359.56 L295.62,360.76 L295.72,361.96 L295.82,363.16 L295.93,364.37 L296.03,365.57 L296.13,366.77 L296.23,367.97 L296.33,369.18 L296.42,370.38 L296.52,371.58 L296.62,372.79 L296.72,373.99 L296.82,375.19 L296.92,376.39 L297.02,377.6 L297.12,378.8 L297.22,380 L297.32,381.21 L297.42,382.41 L297.52,383.61 L297.63,384.82 L297.73,386.02 L297.84,387.22 L297.95,388.42 L298.06,389.63 L298.17,390.83 L298.29,392.03 L298.41,393.23 L298.54,394.44 L298.67,395.64 L298.8,396.84 L298.94,398.04 L299.09,399.24 L299.24,400.44 L299.4,401.64 L299.57,402.83 L299.74,404.03 L299.93,405.22 L300.12,406.42 L300.33,407.61 L300.54,408.8 L300.76,409.99 L300.99,411.18 L301.24,412.37 L301.49,413.55 L301.76,414.73 L302.04,415.91 L302.33,417.09 L302.63,418.27 L302.95,419.44 L303.29,420.6 L303.64,421.76 L304.02,422.92 L304.43,424.06 L304.86,425.2 L305.34,426.31 L305.87,427.41 L306.46,428.47 L307.14,429.48 L307.92,430.4 L308.83,431.19 L309.87,431.8 L311,432.2 L312.17,432.42 L313.37,432.53 L314.57,432.57 L315.77,432.57 L316.98,432.56 L318.18,432.54 L319.39,432.53 L320.6,432.51 L321.8,432.49 L323.01,432.48 L324.22,432.47 L325.42,432.46 L326.63,432.45 L327.84,432.44 L329.04,432.43 L330.25,432.43 L331.46,432.43 L332.66,432.43 L333.87,432.43 L335.08,432.43 L336.28,432.44 L337.49,432.45 L338.7,432.46 L339.9,432.47 L341.11,432.48 L342.32,432.5 L343.52,432.51 L344.73,432.53 L345.94,432.54 L347.14,432.56 L348.35,432.57 L349.56,432.58 L350.76,432.59 L351.97,432.6 L353.18,432.6 L354.38,432.61 L355.59,432.61 L356.79,432.61 L358,432.62 L359.21,432.61 L360.41,432.61 L361.62,432.61 L362.83,432.61 L364.03,432.61 L365.24,432.61 L366.45,432.6 L367.65,432.6 L368.86,432.6 L370.07,432.59 L371.27,432.59 L372.48,432.59 L373.69,432.58 L374.89,432.58 L376.1,432.57 L377.31,432.57 L378.51,432.57 L379.72,432.56 L380.93,432.55 L382.13,432.55 L383.34,432.54 L384.55,432.54 L385.75,432.53 L386.96,432.53 L388.17,432.52 L389.37,432.52 L390.58,432.51 L391.79,432.51 L392.99,432.5 L394.2,432.5 L395.4,432.49 L396.61,432.49 L397.82,432.48 L399.02,432.48 L400.23,432.47 L401.44,432.47 L402.64,432.47 L403.85,432.46 L405.06,432.46 L406.26,432.45 L407.47,432.45 L408.68,432.45 L409.88,432.44 L411.09,432.44 L412.3,432.44 L413.5,432.43 L414.71,432.43 L415.92,432.43" class="cu"/>
<path d="M256.18,277.66 L256.75,276.72 L257.3,275.73 L257.85,274.74 L258.4,273.75 L258.95,272.75 L259.49,271.76 L260.05,270.76 L260.6,269.77 L261.16,268.78 L261.72,267.79 L262.29,266.81 L262.86,265.83 L263.44,264.85 L264.03,263.87 L264.62,262.9 L265.21,261.93 L265.81,260.97 L266.42,260.01 L267.04,259.05 L267.66,258.1 L268.29,257.15 L268.92,256.21 L269.56,255.27 L270.21,254.34 L270.87,253.42 L271.53,252.49 L272.2,251.58 L272.88,250.67 L273.57,249.77 L274.27,248.88 L274.97,247.99 L275.69,247.11 L276.41,246.24 L277.15,245.39 L277.89,244.54 L278.65,243.71 L279.43,242.89 L280.22,242.1 L281.03,241.32 L281.86,240.57 L282.72,239.86 L283.6,239.19 L284.52,238.57 L285.46,238.01 L286.44,237.55 L287.46,237.21 L288.49,237.02 L289.53,237.02 L290.55,237.22 L291.51,237.63 L292.39,238.2 L293.21,238.91 L293.94,239.71 L294.61,240.59 L295.22,241.51 L295.79,242.47 L296.31,243.46 L296.8,244.47 L297.25,245.5 L297.68,246.55 L298.08,247.6 L298.46,248.66 L298.82,249.73 L299.17,250.81 L299.5,251.89 L299.81,252.98 L300.11,254.07 L300.39,255.17 L300.67,256.27 L300.93,257.37 L301.18,258.47 L301.43,259.58 L301.66,260.69 L301.89,261.8 L302.11,262.91 L302.33,264.02 L302.54,265.14 L302.75,266.25 L302.95,267.37 L303.15,268.49 L303.35,269.6 L303.54,270.72 L303.74,271.84 L303.93,272.95 L304.12,274.07 L304.31,275.19 L304.5,276.31 L304.69,277.43 L304.87,278.55 L305.06,279.67 L305.24,280.79 L305.43,281.91 L305.61,283.03 L305.79,284.15 L305.96,285.27 L306.14,286.39 L306.32,287.51 L306.49,288.64 L306.66,289.76 L306.83,290.88 L307,292 L307.17,293.13 L307.33,294.25 L307.5,295.37 L307.66,296.5 L307.83,297.62 L307.99,298.75 L308.15,299.87 L308.31,301 L308.47,302.12 L308.63,303.24 L308.78,304.37 L308.94,305.49 L309.1,306.62 L309.25,307.74 L309.41,308.87 L309.56,310 L309.71,311.12 L309.86,312.25 L310.01,313.37 L310.16,314.5 L310.31,315.63 L310.46,316.75 L310.6,317.88 L310.75,319 L310.89,320.13 L311.04,321.26 L311.18,322.38 L311.32,323.51 L311.47,324.64 L311.61,325.77 L311.75,326.89 L311.89,328.02 L312.03,329.15 L312.17,330.27 L312.31,331.4 L312.46,332.53 L312.6,333.65 L312.74,334.78 L312.88,335.91 L313.02,337.03 L313.16,338.16 L313.31,339.29 L313.45,340.42 L313.59,341.54 L313.73,342.67 L313.87,343.8 L314.02,344.92 L314.16,346.05 L314.3,347.18 L314.44,348.3 L314.58,349.43 L314.71,350.56 L314.85,351.68 L314.99,352.81 L315.12,353.94 L315.26,355.07 L315.39,356.19 L315.53,357.32 L315.66,358.45 L315.79,359.58 L315.92,360.7 L316.05,361.83 L316.18,362.96 L316.31,364.09 L316.44,365.21 L316.57,366.34 L316.7,367.47 L316.83,368.6 L316.97,369.73 L317.1,370.85 L317.23,371.98 L317.37,373.11 L317.5,374.23 L317.64,375.36 L317.78,376.49 L317.92,377.61 L318.06,378.74 L318.2,379.87 L318.34,380.99 L318.49,382.12 L318.63,383.24 L318.78,384.37 L318.93,385.5 L319.07,386.62 L319.22,387.75 L319.37,388.87 L319.52,390 L319.67,391.12 L319.83,392.25 L319.98,393.37 L320.14,394.5 L320.29,395.62 L320.45,396.75 L320.61,397.87 L320.78,399 L320.95,400.12 L321.12,401.25 L321.3,402.37 L321.49,403.49 L321.68,404.61 L321.88,405.74 L322.09,406.85 L322.31,407.97 L322.54,409.09 L322.79,410.2 L323.05,411.31 L323.32,412.42 L323.61,413.53 L323.92,414.63 L324.24,415.72 L324.59,416.82 L324.96,417.9 L325.35,418.98 L325.77,420.05 L326.22,421.11 L326.7,422.16 L327.22,423.19 L327.78,424.21 L328.38,425.2 L329.04,426.16 L329.75,427.09 L330.53,427.97 L331.37,428.79 L332.27,429.54 L333.24,430.21 L334.26,430.79 L335.33,431.28 L336.42,431.68 L337.54,432 L338.67,432.25 L339.8,432.45 L340.94,432.59 L342.08,432.7 L343.22,432.77 L344.36,432.82 L345.5,432.85 L346.64,432.87 L347.78,432.88 L348.92,432.87 L350.05,432.86 L351.19,432.85 L352.33,432.83 L353.46,432.81 L354.6,432.78 L355.73,432.76 L356.87,432.73 L358.01,432.7 L359.14,432.67 L360.28,432.65 L361.41,432.62 L362.55,432.59 L363.68,432.57 L364.82,432.54 L365.95,432.52 L367.09,432.49 L368.22,432.47 L369.36,432.45 L370.49,432.43 L371.63,432.4 L372.77,432.38 L373.9,432.36 L375.04,432.34 L376.17,432.31 L377.31,432.29 L378.44,432.27 L379.58,432.24 L380.71,432.21 L381.85,432.19 L382.98,432.16 L384.12,432.13 L385.26,432.1 L386.39,432.07 L387.53,432.04 L388.66,432.01 L389.8,431.98 L390.93,431.95 L392.07,431.92 L393.2,431.9 L394.34,431.87 L395.47,431.84 L396.61,431.82 L397.74,431.8 L398.88,431.77 L400.02,431.75 L401.15,431.73 L402.29,431.7 L403.42,431.68 L404.56,431.66 L405.69,431.64 L406.83,431.62 L407.96,431.6 L409.1,431.58 L410.24,431.56 L411.37,431.54 L412.51,431.52 L413.64,431.51 L414.78,431.49 L415.91,431.47" class="cb"/>
<path d="M256.18,277.66 L256.75,276.72 L257.3,275.73 L257.85,274.74 L258.4,273.75 L258.95,272.75 L259.49,271.76 L260.05,270.76 L260.6,269.77 L261.16,268.78 L261.72,267.79 L262.29,266.81 L262.86,265.83 L263.44,264.85 L264.03,263.87 L264.62,262.9 L265.21,261.93 L265.81,260.97 L266.42,260.01 L267.04,259.05 L267.66,258.1 L268.29,257.15 L268.92,256.21 L269.56,255.27 L270.21,254.34 L270.87,253.42 L271.53,252.49 L272.2,251.58 L272.88,250.67 L273.57,249.77 L274.27,248.88 L274.97,247.99 L275.69,247.11 L276.41,246.24 L277.15,245.39 L277.89,244.54 L278.65,243.71 L279.43,242.89 L280.22,242.1 L281.03,241.32 L281.86,240.57 L282.72,239.86 L283.6,239.19 L284.52,238.57 L285.46,238.01 L286.44,237.55 L287.46,237.21 L288.49,237.02 L289.53,237.02 L290.55,237.22 L291.51,237.63 L292.39,238.2 L293.21,238.91 L293.94,239.71 L294.61,240.59 L295.22,241.51 L295.79,242.47 L296.31,243.46 L296.8,244.47 L297.25,245.5 L297.68,246.55 L298.08,247.6 L298.46,248.66 L298.82,249.73 L299.17,250.81 L299.5,251.89 L299.81,252.98 L300.11,254.07 L300.39,255.17 L300.67,256.27 L300.93,257.37 L301.18,258.47 L301.43,259.58 L301.66,260.69 L301.89,261.8 L302.11,262.91 L302.33,264.02 L302.54,265.14 L302.75,266.25 L302.95,267.37 L303.15,268.49 L303.35,269.6 L303.54,270.72 L303.74,271.84 L303.93,272.95 L304.12,274.07 L304.31,275.19 L304.5,276.31 L304.69,277.43 L304.87,278.55 L305.06,279.67 L305.24,280.79 L305.43,281.91 L305.61,283.03 L305.79,284.15 L305.96,285.27 L306.14,286.39 L306.32,287.51 L306.49,288.64 L306.66,289.76 L306.83,290.88 L307,292 L307.17,293.13 L307.33,294.25 L307.5,295.37 L307.66,296.5 L307.83,297.62 L307.99,298.75 L308.15,299.87 L308.31,301 L308.47,302.12 L308.63,303.24 L308.78,304.37 L308.94,305.49 L309.1,306.62 L309.25,307.74 L309.41,308.87 L309.56,310 L309.71,311.12 L309.86,312.25 L310.01,313.37 L310.16,314.5 L310.31,315.63 L310.46,316.75 L310.6,317.88 L310.75,319 L310.89,320.13 L311.04,321.26 L311.18,322.38 L311.32,323.51 L311.47,324.64 L311.61,325.77 L311.75,326.89 L311.89,328.02 L312.03,329.15 L312.17,330.27 L312.31,331.4 L312.46,332.53 L312.6,333.65 L312.74,334.78 L312.88,335.91 L313.02,337.03 L313.16,338.16 L313.31,339.29 L313.45,340.42 L313.59,341.54 L313.73,342.67 L313.87,343.8 L314.02,344.92 L314.16,346.05 L314.3,347.18 L314.44,348.3 L314.58,349.43 L314.71,350.56 L314.85,351.68 L314.99,352.81 L315.12,353.94 L315.26,355.07 L315.39,356.19 L315.53,357.32 L315.66,358.45 L315.79,359.58 L315.92,360.7 L316.05,361.83 L316.18,362.96 L316.31,364.09 L316.44,365.21 L316.57,366.34 L316.7,367.47 L316.83,368.6 L316.97,369.73 L317.1,370.85 L317.23,371.98 L317.37,373.11 L317.5,374.23 L317.64,375.36 L317.78,376.49 L317.92,377.61 L318.06,378.74 L318.2,379.87 L318.34,380.99 L318.49,382.12 L318.63,383.24 L318.78,384.37 L318.93,385.5 L319.07,386.62 L319.22,387.75 L319.37,388.87 L319.52,390 L319.67,391.12 L319.83,392.25 L319.98,393.37 L320.14,394.5 L320.29,395.62 L320.45,396.75 L320.61,397.87 L320.78,399 L320.95,400.12 L321.12,401.25 L321.3,402.37 L321.49,403.49 L321.68,404.61 L321.88,405.74 L322.09,406.85 L322.31,407.97 L322.54,409.09 L322.79,410.2 L323.05,411.31 L323.32,412.42 L323.61,413.53 L323.92,414.63 L324.24,415.72 L324.59,416.82 L324.96,417.9 L325.35,418.98 L325.77,420.05 L326.22,421.11 L326.7,422.16 L327.22,423.19 L327.78,424.21 L328.38,425.2 L329.04,426.16 L329.75,427.09 L330.53,427.97 L331.37,428.79 L332.27,429.54 L333.24,430.21 L334.26,430.79 L335.33,431.28 L336.42,431.68 L337.54,432 L338.67,432.25 L339.8,432.45 L340.94,432.59 L342.08,432.7 L343.22,432.77 L344.36,432.82 L345.5,432.85 L346.64,432.87 L347.78,432.88 L348.92,432.87 L350.05,432.86 L351.19,432.85 L352.33,432.83 L353.46,432.81 L354.6,432.78 L355.73,432.76 L356.87,432.73 L358.01,432.7 L359.14,432.67 L360.28,432.65 L361.41,432.62 L362.55,432.59 L363.68,432.57 L364.82,432.54 L365.95,432.52 L367.09,432.49 L368.22,432.47 L369.36,432.45 L370.49,432.43 L371.63,432.4 L372.77,432.38 L373.9,432.36 L375.04,432.34 L376.17,432.31 L377.31,432.29 L378.44,432.27 L379.58,432.24 L380.71,432.21 L381.85,432.19 L382.98,432.16 L384.12,432.13 L385.26,432.1 L386.39,432.07 L387.53,432.04 L388.66,432.01 L389.8,431.98 L390.93,431.95 L392.07,431.92 L393.2,431.9 L394.34,431.87 L395.47,431.84 L396.61,431.82 L397.74,431.8 L398.88,431.77 L400.02,431.75 L401.15,431.73 L402.29,431.7 L403.42,431.68 L404.56,431.66 L405.69,431.64 L406.83,431.62 L407.96,431.6 L409.1,431.58 L410.24,431.56 L411.37,431.54 L412.51,431.52 L413.64,431.51 L414.78,431.49 L415.91,431.47" class="cu"/>
<path d="M256.21,265.34 L256.35,264.25 L256.62,263.19 L256.98,262.17 L257.41,261.17 L257.9,260.21 L258.44,259.27 L259.03,258.37 L259.65,257.49 L260.31,256.64 L261,255.82 L261.73,255.03 L262.47,254.26 L263.24,253.51 L264.03,252.79 L264.84,252.09 L265.67,251.42 L266.52,250.76 L267.38,250.13 L268.25,249.52 L269.13,248.92 L270.03,248.34 L270.93,247.78 L271.85,247.24 L272.77,246.71 L273.7,246.2 L274.64,245.7 L275.59,245.21 L276.54,244.74 L277.49,244.27 L278.45,243.82 L279.42,243.38 L280.39,242.95 L281.36,242.53 L282.34,242.12 L283.32,241.72 L284.3,241.33 L285.29,240.95 L286.28,240.57 L287.28,240.21 L288.27,239.85 L289.27,239.5 L290.28,239.16 L291.28,238.83 L292.29,238.51 L293.3,238.2 L294.32,237.91 L295.34,237.63 L296.37,237.37 L297.41,237.13 L298.44,236.92 L299.49,236.73 L300.54,236.58 L301.6,236.47 L302.67,236.4 L303.74,236.38 L304.82,236.43 L305.89,236.54 L306.95,236.72 L308.01,236.99 L309.04,237.34 L310.04,237.77 L311,238.28 L311.92,238.87 L312.79,239.52 L313.61,240.24 L314.38,241.01 L315.1,241.82 L315.77,242.67 L316.39,243.54 L316.98,244.45 L317.52,245.37 L318.03,246.32 L318.51,247.27 L318.96,248.24 L319.38,249.22 L319.78,250.21 L320.15,251.21 L320.51,252.21 L320.85,253.22 L321.17,254.23 L321.48,255.25 L321.77,256.27 L322.05,257.29 L322.32,258.32 L322.58,259.35 L322.83,260.38 L323.08,261.41 L323.32,262.45 L323.55,263.48 L323.78,264.51 L324.01,265.55 L324.23,266.59 L324.45,267.62 L324.68,268.66 L324.9,269.69 L325.12,270.73 L325.34,271.77 L325.56,272.8 L325.78,273.84 L326,274.88 L326.22,275.91 L326.44,276.95 L326.66,277.99 L326.88,279.03 L327.1,280.07 L327.31,281.11 L327.53,282.14 L327.75,283.18 L327.96,284.22 L328.17,285.26 L328.39,286.31 L328.6,287.35 L328.81,288.39 L329.02,289.43 L329.23,290.47 L329.43,291.51 L329.64,292.56 L329.84,293.6 L330.05,294.64 L330.25,295.69 L330.46,296.73 L330.66,297.78 L330.87,298.82 L331.07,299.86 L331.27,300.91 L331.48,301.95 L331.68,303 L331.89,304.04 L332.09,305.09 L332.3,306.13 L332.51,307.17 L332.71,308.22 L332.92,309.26 L333.12,310.31 L333.33,311.35 L333.53,312.4 L333.73,313.45 L333.94,314.49 L334.14,315.54 L334.34,316.58 L334.53,317.63 L334.73,318.68 L334.93,319.72 L335.12,320.77 L335.31,321.82 L335.51,322.86 L335.7,323.91 L335.88,324.96 L336.07,326.01 L336.25,327.06 L336.44,328.11 L336.62,329.16 L336.8,330.2 L336.98,331.25 L337.16,332.3 L337.34,333.35 L337.51,334.4 L337.69,335.45 L337.86,336.5 L338.03,337.55 L338.21,338.6 L338.38,339.65 L338.55,340.7 L338.72,341.75 L338.89,342.8 L339.05,343.85 L339.22,344.9 L339.39,345.96 L339.55,347.01 L339.72,348.06 L339.89,349.11 L340.05,350.16 L340.22,351.21 L340.38,352.26 L340.55,353.31 L340.71,354.36 L340.88,355.41 L341.04,356.46 L341.21,357.51 L341.37,358.56 L341.54,359.61 L341.7,360.66 L341.87,361.71 L342.04,362.76 L342.21,363.81 L342.38,364.86 L342.55,365.91 L342.73,366.96 L342.91,368.01 L343.09,369.05 L343.27,370.1 L343.45,371.15 L343.64,372.19 L343.83,373.24 L344.02,374.28 L344.22,375.33 L344.41,376.37 L344.61,377.41 L344.82,378.46 L345.02,379.5 L345.23,380.54 L345.44,381.58 L345.66,382.62 L345.87,383.66 L346.08,384.7 L346.3,385.74 L346.51,386.77 L346.73,387.81 L346.94,388.85 L347.16,389.89 L347.37,390.93 L347.58,391.97 L347.79,393 L348,394.04 L348.21,395.08 L348.42,396.12 L348.63,397.16 L348.84,398.2 L349.05,399.24 L349.27,400.28 L349.49,401.32 L349.71,402.35 L349.94,403.39 L350.18,404.42 L350.43,405.46 L350.69,406.49 L350.96,407.52 L351.24,408.54 L351.54,409.56 L351.85,410.58 L352.19,411.59 L352.54,412.6 L352.91,413.6 L353.3,414.59 L353.72,415.57 L354.17,416.54 L354.64,417.5 L355.14,418.45 L355.67,419.38 L356.24,420.29 L356.84,421.18 L357.48,422.05 L358.16,422.88 L358.88,423.69 L359.65,424.45 L360.45,425.18 L361.3,425.85 L362.18,426.48 L363.1,427.05 L364.06,427.56 L365.04,428.02 L366.04,428.42 L367.06,428.77 L368.09,429.07 L369.13,429.33 L370.18,429.54 L371.24,429.72 L372.3,429.86 L373.36,429.98 L374.42,430.07 L375.49,430.14 L376.55,430.2 L377.62,430.23 L378.68,430.26 L379.75,430.27 L380.81,430.27 L381.88,430.27 L382.94,430.25 L384,430.23 L385.07,430.21 L386.13,430.18 L387.19,430.15 L388.26,430.11 L389.32,430.07 L390.38,430.03 L391.45,429.99 L392.51,429.94 L393.57,429.9 L394.64,429.85 L395.7,429.81 L396.76,429.77 L397.83,429.73 L398.89,429.69 L399.95,429.65 L401.02,429.61 L402.08,429.57 L403.14,429.53 L404.21,429.5 L405.27,429.46 L406.33,429.43 L407.4,429.39 L408.46,429.36 L409.52,429.32 L410.59,429.29 L411.65,429.26 L412.71,429.22 L413.78,429.19 L414.84,429.16 L415.9,429.13" class="cb"/>
<path d="M256.21,265.34 L256.35,264.25 L256.62,263.19 L256.98,262.17 L257.41,261.17 L257.9,260.21 L258.44,259.27 L259.03,258.37 L259.65,257.49 L260.31,256.64 L261,255.82 L261.73,255.03 L262.47,254.26 L263.24,253.51 L264.03,252.79 L264.84,252.09 L265.67,251.42 L266.52,250.76 L267.38,250.13 L268.25,249.52 L269.13,248.92 L270.03,248.34 L270.93,247.78 L271.85,247.24 L272.77,246.71 L273.7,246.2 L274.64,245.7 L275.59,245.21 L276.54,244.74 L277.49,244.27 L278.45,243.82 L279.42,243.38 L280.39,242.95 L281.36,242.53 L282.34,242.12 L283.32,241.72 L284.3,241.33 L285.29,240.95 L286.28,240.57 L287.28,240.21 L288.27,239.85 L289.27,239.5 L290.28,239.16 L291.28,238.83 L292.29,238.51 L293.3,238.2 L294.32,237.91 L295.34,237.63 L296.37,237.37 L297.41,237.13 L298.44,236.92 L299.49,236.73 L300.54,236.58 L301.6,236.47 L302.67,236.4 L303.74,236.38 L304.82,236.43 L305.89,236.54 L306.95,236.72 L308.01,236.99 L309.04,237.34 L310.04,237.77 L311,238.28 L311.92,238.87 L312.79,239.52 L313.61,240.24 L314.38,241.01 L315.1,241.82 L315.77,242.67 L316.39,243.54 L316.98,244.45 L317.52,245.37 L318.03,246.32 L318.51,247.27 L318.96,248.24 L319.38,249.22 L319.78,250.21 L320.15,251.21 L320.51,252.21 L320.85,253.22 L321.17,254.23 L321.48,255.25 L321.77,256.27 L322.05,257.29 L322.32,258.32 L322.58,259.35 L322.83,260.38 L323.08,261.41 L323.32,262.45 L323.55,263.48 L323.78,264.51 L324.01,265.55 L324.23,266.59 L324.45,267.62 L324.68,268.66 L324.9,269.69 L325.12,270.73 L325.34,271.77 L325.56,272.8 L325.78,273.84 L326,274.88 L326.22,275.91 L326.44,276.95 L326.66,277.99 L326.88,279.03 L327.1,280.07 L327.31,281.11 L327.53,282.14 L327.75,283.18 L327.96,284.22 L328.17,285.26 L328.39,286.31 L328.6,287.35 L328.81,288.39 L329.02,289.43 L329.23,290.47 L329.43,291.51 L329.64,292.56 L329.84,293.6 L330.05,294.64 L330.25,295.69 L330.46,296.73 L330.66,297.78 L330.87,298.82 L331.07,299.86 L331.27,300.91 L331.48,301.95 L331.68,303 L331.89,304.04 L332.09,305.09 L332.3,306.13 L332.51,307.17 L332.71,308.22 L332.92,309.26 L333.12,310.31 L333.33,311.35 L333.53,312.4 L333.73,313.45 L333.94,314.49 L334.14,315.54 L334.34,316.58 L334.53,317.63 L334.73,318.68 L334.93,319.72 L335.12,320.77 L335.31,321.82 L335.51,322.86 L335.7,323.91 L335.88,324.96 L336.07,326.01 L336.25,327.06 L336.44,328.11 L336.62,329.16 L336.8,330.2 L336.98,331.25 L337.16,332.3 L337.34,333.35 L337.51,334.4 L337.69,335.45 L337.86,336.5 L338.03,337.55 L338.21,338.6 L338.38,339.65 L338.55,340.7 L338.72,341.75 L338.89,342.8 L339.05,343.85 L339.22,344.9 L339.39,345.96 L339.55,347.01 L339.72,348.06 L339.89,349.11 L340.05,350.16 L340.22,351.21 L340.38,352.26 L340.55,353.31 L340.71,354.36 L340.88,355.41 L341.04,356.46 L341.21,357.51 L341.37,358.56 L341.54,359.61 L341.7,360.66 L341.87,361.71 L342.04,362.76 L342.21,363.81 L342.38,364.86 L342.55,365.91 L342.73,366.96 L342.91,368.01 L343.09,369.05 L343.27,370.1 L343.45,371.15 L343.64,372.19 L343.83,373.24 L344.02,374.28 L344.22,375.33 L344.41,376.37 L344.61,377.41 L344.82,378.46 L345.02,379.5 L345.23,380.54 L345.44,381.58 L345.66,382.62 L345.87,383.66 L346.08,384.7 L346.3,385.74 L346.51,386.77 L346.73,387.81 L346.94,388.85 L347.16,389.89 L347.37,390.93 L347.58,391.97 L347.79,393 L348,394.04 L348.21,395.08 L348.42,396.12 L348.63,397.16 L348.84,398.2 L349.05,399.24 L349.27,400.28 L349.49,401.32 L349.71,402.35 L349.94,403.39 L350.18,404.42 L350.43,405.46 L350.69,406.49 L350.96,407.52 L351.24,408.54 L351.54,409.56 L351.85,410.58 L352.19,411.59 L352.54,412.6 L352.91,413.6 L353.3,414.59 L353.72,415.57 L354.17,416.54 L354.64,417.5 L355.14,418.45 L355.67,419.38 L356.24,420.29 L356.84,421.18 L357.48,422.05 L358.16,422.88 L358.88,423.69 L359.65,424.45 L360.45,425.18 L361.3,425.85 L362.18,426.48 L363.1,427.05 L364.06,427.56 L365.04,428.02 L366.04,428.42 L367.06,428.77 L368.09,429.07 L369.13,429.33 L370.18,429.54 L371.24,429.72 L372.3,429.86 L373.36,429.98 L374.42,430.07 L375.49,430.14 L376.55,430.2 L377.62,430.23 L378.68,430.26 L379.75,430.27 L380.81,430.27 L381.88,430.27 L382.94,430.25 L384,430.23 L385.07,430.21 L386.13,430.18 L387.19,430.15 L388.26,430.11 L389.32,430.07 L390.38,430.03 L391.45,429.99 L392.51,429.94 L393.57,429.9 L394.64,429.85 L395.7,429.81 L396.76,429.77 L397.83,429.73 L398.89,429.69 L399.95,429.65 L401.02,429.61 L402.08,429.57 L403.14,429.53 L404.21,429.5 L405.27,429.46 L406.33,429.43 L407.4,429.39 L408.46,429.36 L409.52,429.32 L410.59,429.29 L411.65,429.26 L412.71,429.22 L413.78,429.19 L414.84,429.16 L415.9,429.13" class="cu"/>
<path d="M256.66,257.68 L256.71,256.69 L256.84,255.71 L257.01,254.74 L257.24,253.78 L257.51,252.83 L257.84,251.9 L258.21,250.98 L258.64,250.09 L259.12,249.22 L259.64,248.39 L260.21,247.58 L260.83,246.81 L261.49,246.07 L262.19,245.37 L262.93,244.71 L263.7,244.08 L264.5,243.49 L265.33,242.94 L266.18,242.43 L267.05,241.95 L267.94,241.5 L268.84,241.08 L269.76,240.69 L270.68,240.32 L271.62,239.98 L272.56,239.66 L273.51,239.36 L274.47,239.09 L275.43,238.83 L276.4,238.59 L277.37,238.37 L278.35,238.16 L279.33,237.97 L280.31,237.79 L281.29,237.62 L282.27,237.47 L283.26,237.32 L284.25,237.19 L285.24,237.07 L286.23,236.96 L287.22,236.86 L288.21,236.77 L289.21,236.69 L290.2,236.62 L291.2,236.56 L292.19,236.5 L293.19,236.45 L294.18,236.42 L295.18,236.38 L296.17,236.36 L297.17,236.35 L298.17,236.34 L299.16,236.34 L300.16,236.35 L301.16,236.36 L302.16,236.39 L303.15,236.42 L304.15,236.46 L305.15,236.52 L306.14,236.58 L307.14,236.65 L308.14,236.74 L309.13,236.84 L310.13,236.95 L311.12,237.08 L312.11,237.22 L313.11,237.38 L314.09,237.57 L315.08,237.77 L316.06,238 L317.04,238.24 L318.01,238.52 L318.97,238.82 L319.93,239.14 L320.88,239.49 L321.82,239.87 L322.75,240.28 L323.66,240.72 L324.56,241.19 L325.45,241.68 L326.32,242.2 L327.17,242.76 L328,243.33 L328.82,243.93 L329.62,244.56 L330.39,245.21 L331.15,245.88 L331.89,246.57 L332.61,247.28 L333.31,248.01 L333.98,248.76 L334.64,249.52 L335.28,250.3 L335.9,251.09 L336.5,251.9 L337.09,252.71 L337.65,253.54 L338.21,254.38 L338.74,255.22 L339.26,256.08 L339.77,256.94 L340.26,257.81 L340.74,258.69 L341.21,259.57 L341.66,260.45 L342.11,261.35 L342.54,262.24 L342.97,263.14 L343.39,264.05 L343.8,264.96 L344.2,265.87 L344.6,266.78 L344.98,267.7 L345.37,268.61 L345.75,269.53 L346.12,270.45 L346.49,271.38 L346.85,272.3 L347.21,273.23 L347.57,274.16 L347.92,275.09 L348.27,276.02 L348.61,276.96 L348.95,277.89 L349.28,278.83 L349.61,279.77 L349.94,280.71 L350.26,281.65 L350.57,282.59 L350.88,283.54 L351.19,284.49 L351.49,285.43 L351.79,286.38 L352.08,287.33 L352.37,288.29 L352.66,289.24 L352.94,290.19 L353.21,291.15 L353.48,292.11 L353.75,293.07 L354.01,294.03 L354.27,294.99 L354.53,295.95 L354.78,296.91 L355.03,297.87 L355.27,298.84 L355.51,299.8 L355.75,300.77 L355.98,301.74 L356.21,302.71 L356.44,303.67 L356.67,304.64 L356.89,305.61 L357.12,306.58 L357.34,307.55 L357.56,308.52 L357.78,309.49 L357.99,310.46 L358.21,311.43 L358.43,312.41 L358.65,313.38 L358.87,314.35 L359.09,315.31 L359.32,316.28 L359.54,317.25 L359.77,318.22 L360,319.19 L360.23,320.16 L360.46,321.12 L360.7,322.09 L360.93,323.06 L361.17,324.02 L361.41,324.99 L361.65,325.96 L361.89,326.92 L362.14,327.89 L362.38,328.85 L362.63,329.82 L362.87,330.78 L363.12,331.75 L363.37,332.71 L363.62,333.67 L363.87,334.64 L364.11,335.6 L364.36,336.57 L364.61,337.53 L364.86,338.5 L365.11,339.46 L365.36,340.42 L365.61,341.39 L365.85,342.35 L366.1,343.32 L366.35,344.28 L366.59,345.25 L366.83,346.21 L367.08,347.18 L367.32,348.15 L367.56,349.11 L367.8,350.08 L368.03,351.05 L368.27,352.01 L368.5,352.98 L368.73,353.95 L368.96,354.92 L369.19,355.89 L369.41,356.85 L369.64,357.82 L369.86,358.79 L370.08,359.76 L370.3,360.73 L370.53,361.7 L370.75,362.67 L370.97,363.64 L371.19,364.61 L371.41,365.58 L371.64,366.55 L371.86,367.52 L372.09,368.49 L372.32,369.46 L372.55,370.43 L372.78,371.39 L373.02,372.36 L373.26,373.33 L373.5,374.29 L373.74,375.26 L373.99,376.22 L374.25,377.18 L374.5,378.14 L374.76,379.1 L375.02,380.06 L375.29,381.02 L375.56,381.98 L375.84,382.93 L376.11,383.89 L376.39,384.84 L376.67,385.8 L376.96,386.75 L377.24,387.7 L377.53,388.65 L377.83,389.6 L378.12,390.55 L378.41,391.5 L378.71,392.45 L379.01,393.39 L379.31,394.34 L379.62,395.28 L379.93,396.23 L380.24,397.17 L380.55,398.11 L380.87,399.05 L381.19,399.99 L381.52,400.93 L381.86,401.86 L382.2,402.8 L382.55,403.73 L382.91,404.65 L383.28,405.57 L383.67,406.49 L384.06,407.41 L384.47,408.31 L384.89,409.21 L385.33,410.11 L385.78,410.99 L386.26,411.87 L386.75,412.74 L387.26,413.59 L387.8,414.43 L388.36,415.26 L388.94,416.07 L389.55,416.86 L390.19,417.63 L390.86,418.38 L391.55,419.09 L392.28,419.78 L393.04,420.44 L393.83,421.05 L394.65,421.63 L395.49,422.17 L396.37,422.66 L397.27,423.1 L398.19,423.5 L399.12,423.85 L400.08,424.16 L401.04,424.42 L402.02,424.64 L403,424.83 L403.98,424.98 L404.97,425.09 L405.97,425.19 L406.96,425.25 L407.96,425.3 L408.95,425.32 L409.95,425.33 L410.94,425.32 L411.94,425.3 L412.93,425.27 L413.93,425.23 L414.92,425.18 L415.91,425.13" class="cb"/>
<path d="M256.66,257.68 L256.71,256.69 L256.84,255.71 L257.01,254.74 L257.24,253.78 L257.51,252.83 L257.84,251.9 L258.21,250.98 L258.64,250.09 L259.12,249.22 L259.64,248.39 L260.21,247.58 L260.83,246.81 L261.49,246.07 L262.19,245.37 L262.93,244.71 L263.7,244.08 L264.5,243.49 L265.33,242.94 L266.18,242.43 L267.05,241.95 L267.94,241.5 L268.84,241.08 L269.76,240.69 L270.68,240.32 L271.62,239.98 L272.56,239.66 L273.51,239.36 L274.47,239.09 L275.43,238.83 L276.4,238.59 L277.37,238.37 L278.35,238.16 L279.33,237.97 L280.31,237.79 L281.29,237.62 L282.27,237.47 L283.26,237.32 L284.25,237.19 L285.24,237.07 L286.23,236.96 L287.22,236.86 L288.21,236.77 L289.21,236.69 L290.2,236.62 L291.2,236.56 L292.19,236.5 L293.19,236.45 L294.18,236.42 L295.18,236.38 L296.17,236.36 L297.17,236.35 L298.17,236.34 L299.16,236.34 L300.16,236.35 L301.16,236.36 L302.16,236.39 L303.15,236.42 L304.15,236.46 L305.15,236.52 L306.14,236.58 L307.14,236.65 L308.14,236.74 L309.13,236.84 L310.13,236.95 L311.12,237.08 L312.11,237.22 L313.11,237.38 L314.09,237.57 L315.08,237.77 L316.06,238 L317.04,238.24 L318.01,238.52 L318.97,238.82 L319.93,239.14 L320.88,239.49 L321.82,239.87 L322.75,240.28 L323.66,240.72 L324.56,241.19 L325.45,241.68 L326.32,242.2 L327.17,242.76 L328,243.33 L328.82,243.93 L329.62,244.56 L330.39,245.21 L331.15,245.88 L331.89,246.57 L332.61,247.28 L333.31,248.01 L333.98,248.76 L334.64,249.52 L335.28,250.3 L335.9,251.09 L336.5,251.9 L337.09,252.71 L337.65,253.54 L338.21,254.38 L338.74,255.22 L339.26,256.08 L339.77,256.94 L340.26,257.81 L340.74,258.69 L341.21,259.57 L341.66,260.45 L342.11,261.35 L342.54,262.24 L342.97,263.14 L343.39,264.05 L343.8,264.96 L344.2,265.87 L344.6,266.78 L344.98,267.7 L345.37,268.61 L345.75,269.53 L346.12,270.45 L346.49,271.38 L346.85,272.3 L347.21,273.23 L347.57,274.16 L347.92,275.09 L348.27,276.02 L348.61,276.96 L348.95,277.89 L349.28,278.83 L349.61,279.77 L349.94,280.71 L350.26,281.65 L350.57,282.59 L350.88,283.54 L351.19,284.49 L351.49,285.43 L351.79,286.38 L352.08,287.33 L352.37,288.29 L352.66,289.24 L352.94,290.19 L353.21,291.15 L353.48,292.11 L353.75,293.07 L354.01,294.03 L354.27,294.99 L354.53,295.95 L354.78,296.91 L355.03,297.87 L355.27,298.84 L355.51,299.8 L355.75,300.77 L355.98,301.74 L356.21,302.71 L356.44,303.67 L356.67,304.64 L356.89,305.61 L357.12,306.58 L357.34,307.55 L357.56,308.52 L357.78,309.49 L357.99,310.46 L358.21,311.43 L358.43,312.41 L358.65,313.38 L358.87,314.35 L359.09,315.31 L359.32,316.28 L359.54,317.25 L359.77,318.22 L360,319.19 L360.23,320.16 L360.46,321.12 L360.7,322.09 L360.93,323.06 L361.17,324.02 L361.41,324.99 L361.65,325.96 L361.89,326.92 L362.14,327.89 L362.38,328.85 L362.63,329.82 L362.87,330.78 L363.12,331.75 L363.37,332.71 L363.62,333.67 L363.87,334.64 L364.11,335.6 L364.36,336.57 L364.61,337.53 L364.86,338.5 L365.11,339.46 L365.36,340.42 L365.61,341.39 L365.85,342.35 L366.1,343.32 L366.35,344.28 L366.59,345.25 L366.83,346.21 L367.08,347.18 L367.32,348.15 L367.56,349.11 L367.8,350.08 L368.03,351.05 L368.27,352.01 L368.5,352.98 L368.73,353.95 L368.96,354.92 L369.19,355.89 L369.41,356.85 L369.64,357.82 L369.86,358.79 L370.08,359.76 L370.3,360.73 L370.53,361.7 L370.75,362.67 L370.97,363.64 L371.19,364.61 L371.41,365.58 L371.64,366.55 L371.86,367.52 L372.09,368.49 L372.32,369.46 L372.55,370.43 L372.78,371.39 L373.02,372.36 L373.26,373.33 L373.5,374.29 L373.74,375.26 L373.99,376.22 L374.25,377.18 L374.5,378.14 L374.76,379.1 L375.02,380.06 L375.29,381.02 L375.56,381.98 L375.84,382.93 L376.11,383.89 L376.39,384.84 L376.67,385.8 L376.96,386.75 L377.24,387.7 L377.53,388.65 L377.83,389.6 L378.12,390.55 L378.41,391.5 L378.71,392.45 L379.01,393.39 L379.31,394.34 L379.62,395.28 L379.93,396.23 L380.24,397.17 L380.55,398.11 L380.87,399.05 L381.19,399.99 L381.52,400.93 L381.86,401.86 L382.2,402.8 L382.55,403.73 L382.91,404.65 L383.28,405.57 L383.67,406.49 L384.06,407.41 L384.47,408.31 L384.89,409.21 L385.33,410.11 L385.78,410.99 L386.26,411.87 L386.75,412.74 L387.26,413.59 L387.8,414.43 L388.36,415.26 L388.94,416.07 L389.55,416.86 L390.19,417.63 L390.86,418.38 L391.55,419.09 L392.28,419.78 L393.04,420.44 L393.83,421.05 L394.65,421.63 L395.49,422.17 L396.37,422.66 L397.27,423.1 L398.19,423.5 L399.12,423.85 L400.08,424.16 L401.04,424.42 L402.02,424.64 L403,424.83 L403.98,424.98 L404.97,425.09 L405.97,425.19 L406.96,425.25 L407.96,425.3 L408.95,425.32 L409.95,425.33 L410.94,425.32 L411.94,425.3 L412.93,425.27 L413.93,425.23 L414.92,425.18 L415.91,425.13" class="cu"/>
<path d="M256.43,253.7 L256.67,252.69 L257.01,251.71 L257.42,250.75 L257.88,249.82 L258.38,248.92 L258.93,248.04 L259.53,247.19 L260.17,246.37 L260.85,245.59 L261.56,244.84 L262.32,244.13 L263.11,243.46 L263.94,242.82 L264.79,242.23 L265.67,241.68 L266.57,241.17 L267.49,240.69 L268.43,240.25 L269.39,239.85 L270.35,239.48 L271.33,239.14 L272.32,238.83 L273.32,238.55 L274.32,238.29 L275.33,238.06 L276.34,237.85 L277.36,237.65 L278.38,237.48 L279.4,237.32 L280.43,237.18 L281.45,237.06 L282.48,236.94 L283.51,236.84 L284.54,236.76 L285.57,236.68 L286.6,236.61 L287.64,236.56 L288.67,236.51 L289.7,236.47 L290.73,236.44 L291.77,236.42 L292.8,236.4 L293.83,236.4 L294.87,236.4 L295.9,236.4 L296.93,236.42 L297.97,236.44 L299,236.47 L300.03,236.5 L301.06,236.54 L302.1,236.59 L303.13,236.64 L304.16,236.7 L305.19,236.77 L306.22,236.84 L307.25,236.92 L308.28,237.01 L309.31,237.1 L310.34,237.2 L311.37,237.31 L312.4,237.43 L313.42,237.55 L314.45,237.68 L315.47,237.82 L316.5,237.97 L317.52,238.12 L318.54,238.29 L319.56,238.47 L320.58,238.66 L321.6,238.86 L322.61,239.07 L323.62,239.3 L324.63,239.54 L325.63,239.8 L326.63,240.07 L327.63,240.36 L328.62,240.67 L329.61,240.99 L330.58,241.34 L331.56,241.7 L332.52,242.07 L333.48,242.47 L334.43,242.89 L335.37,243.32 L336.31,243.77 L337.23,244.24 L338.15,244.73 L339.05,245.24 L339.94,245.76 L340.82,246.3 L341.69,246.86 L342.55,247.44 L343.4,248.03 L344.23,248.64 L345.06,249.26 L345.87,249.9 L346.66,250.55 L347.45,251.22 L348.22,251.9 L348.98,252.59 L349.73,253.29 L350.47,254.01 L351.19,254.74 L351.91,255.47 L352.61,256.22 L353.31,256.98 L353.99,257.74 L354.66,258.52 L355.33,259.3 L355.98,260.09 L356.62,260.89 L357.26,261.7 L357.89,262.51 L358.51,263.33 L359.12,264.15 L359.72,264.98 L360.32,265.82 L360.9,266.66 L361.48,267.51 L362.05,268.37 L362.61,269.23 L363.16,270.1 L363.71,270.97 L364.24,271.85 L364.77,272.73 L365.28,273.62 L365.79,274.52 L366.29,275.42 L366.79,276.32 L367.27,277.23 L367.75,278.14 L368.22,279.06 L368.68,279.98 L369.14,280.9 L369.59,281.82 L370.03,282.75 L370.47,283.69 L370.91,284.62 L371.34,285.55 L371.76,286.49 L372.19,287.43 L372.61,288.37 L373.03,289.31 L373.44,290.25 L373.86,291.2 L374.27,292.14 L374.69,293.08 L375.1,294.03 L375.51,294.97 L375.93,295.92 L376.34,296.86 L376.76,297.81 L377.17,298.75 L377.59,299.7 L378,300.64 L378.42,301.59 L378.84,302.53 L379.25,303.48 L379.67,304.43 L380.08,305.37 L380.5,306.32 L380.91,307.27 L381.32,308.22 L381.73,309.17 L382.13,310.12 L382.54,311.08 L382.94,312.03 L383.33,312.99 L383.73,313.94 L384.12,314.9 L384.5,315.86 L384.89,316.82 L385.26,317.79 L385.64,318.75 L386.01,319.72 L386.38,320.68 L386.74,321.65 L387.11,322.62 L387.46,323.59 L387.82,324.56 L388.17,325.53 L388.52,326.51 L388.86,327.48 L389.2,328.46 L389.54,329.44 L389.88,330.41 L390.21,331.39 L390.54,332.37 L390.86,333.35 L391.19,334.33 L391.51,335.32 L391.83,336.3 L392.14,337.28 L392.45,338.27 L392.76,339.25 L393.07,340.24 L393.37,341.23 L393.67,342.21 L393.97,343.2 L394.26,344.19 L394.55,345.18 L394.84,346.17 L395.13,347.17 L395.42,348.16 L395.7,349.15 L395.98,350.15 L396.26,351.14 L396.54,352.14 L396.82,353.13 L397.09,354.13 L397.37,355.12 L397.64,356.12 L397.92,357.11 L398.19,358.11 L398.47,359.1 L398.75,360.1 L399.03,361.09 L399.31,362.09 L399.6,363.08 L399.89,364.07 L400.18,365.06 L400.48,366.05 L400.78,367.04 L401.09,368.02 L401.4,369.01 L401.72,369.99 L402.04,370.97 L402.37,371.95 L402.7,372.93 L403.04,373.9 L403.38,374.88 L403.73,375.85 L404.08,376.82 L404.44,377.79 L404.8,378.75 L405.17,379.72 L405.55,380.68 L405.92,381.64 L406.3,382.6 L406.69,383.56 L407.08,384.51 L407.47,385.47 L407.87,386.42 L408.27,387.37 L408.67,388.32 L409.08,389.27 L409.49,390.22 L409.91,391.16 L410.33,392.11 L410.75,393.05 L411.17,393.99 L411.6,394.93 L412.04,395.86 L412.48,396.8 L412.92,397.73 L413.38,398.66 L413.84,399.58 L414.31,400.5 L414.79,401.42 L415.28,402.33 L415.78,403.24 L416.29,404.14 L416.82,405.03 L417.36,405.91 L417.92,406.79 L418.5,407.66 L419.09,408.51 L419.7,409.35 L420.34,410.18 L420.99,410.99 L421.67,411.78 L422.38,412.55 L423.1,413.3 L423.85,414.03 L424.63,414.74 L425.43,415.42 L426.25,416.06 L427.1,416.68 L427.97,417.27 L428.86,417.82 L429.77,418.33 L430.7,418.81 L431.65,419.26 L432.61,419.66 L433.58,420.03 L434.57,420.37 L435.57,420.67 L436.57,420.94 L437.58,421.18 L438.59,421.39 L439.61,421.58 L440.63,421.74 L441.65,421.88 L442.68,422 L443.71,422.11 L444.73,422.19 L445.76,422.27 L446.79,422.33 L447.82,422.38" class="cb"/>
<path d="M256.43,253.7 L256.67,252.69 L257.01,251.71 L257.42,250.75 L257.88,249.82 L258.38,248.92 L258.93,248.04 L259.53,247.19 L260.17,246.37 L260.85,245.59 L261.56,244.84 L262.32,244.13 L263.11,243.46 L263.94,242.82 L264.79,242.23 L265.67,241.68 L266.57,241.17 L267.49,240.69 L268.43,240.25 L269.39,239.85 L270.35,239.48 L271.33,239.14 L272.32,238.83 L273.32,238.55 L274.32,238.29 L275.33,238.06 L276.34,237.85 L277.36,237.65 L278.38,237.48 L279.4,237.32 L280.43,237.18 L281.45,237.06 L282.48,236.94 L283.51,236.84 L284.54,236.76 L285.57,236.68 L286.6,236.61 L287.64,236.56 L288.67,236.51 L289.7,236.47 L290.73,236.44 L291.77,236.42 L292.8,236.4 L293.83,236.4 L294.87,236.4 L295.9,236.4 L296.93,236.42 L297.97,236.44 L299,236.47 L300.03,236.5 L301.06,236.54 L302.1,236.59 L303.13,236.64 L304.16,236.7 L305.19,236.77 L306.22,236.84 L307.25,236.92 L308.28,237.01 L309.31,237.1 L310.34,237.2 L311.37,237.31 L312.4,237.43 L313.42,237.55 L314.45,237.68 L315.47,237.82 L316.5,237.97 L317.52,238.12 L318.54,238.29 L319.56,238.47 L320.58,238.66 L321.6,238.86 L322.61,239.07 L323.62,239.3 L324.63,239.54 L325.63,239.8 L326.63,240.07 L327.63,240.36 L328.62,240.67 L329.61,240.99 L330.58,241.34 L331.56,241.7 L332.52,242.07 L333.48,242.47 L334.43,242.89 L335.37,243.32 L336.31,243.77 L337.23,244.24 L338.15,244.73 L339.05,245.24 L339.94,245.76 L340.82,246.3 L341.69,246.86 L342.55,247.44 L343.4,248.03 L344.23,248.64 L345.06,249.26 L345.87,249.9 L346.66,250.55 L347.45,251.22 L348.22,251.9 L348.98,252.59 L349.73,253.29 L350.47,254.01 L351.19,254.74 L351.91,255.47 L352.61,256.22 L353.31,256.98 L353.99,257.74 L354.66,258.52 L355.33,259.3 L355.98,260.09 L356.62,260.89 L357.26,261.7 L357.89,262.51 L358.51,263.33 L359.12,264.15 L359.72,264.98 L360.32,265.82 L360.9,266.66 L361.48,267.51 L362.05,268.37 L362.61,269.23 L363.16,270.1 L363.71,270.97 L364.24,271.85 L364.77,272.73 L365.28,273.62 L365.79,274.52 L366.29,275.42 L366.79,276.32 L367.27,277.23 L367.75,278.14 L368.22,279.06 L368.68,279.98 L369.14,280.9 L369.59,281.82 L370.03,282.75 L370.47,283.69 L370.91,284.62 L371.34,285.55 L371.76,286.49 L372.19,287.43 L372.61,288.37 L373.03,289.31 L373.44,290.25 L373.86,291.2 L374.27,292.14 L374.69,293.08 L375.1,294.03 L375.51,294.97 L375.93,295.92 L376.34,296.86 L376.76,297.81 L377.17,298.75 L377.59,299.7 L378,300.64 L378.42,301.59 L378.84,302.53 L379.25,303.48 L379.67,304.43 L380.08,305.37 L380.5,306.32 L380.91,307.27 L381.32,308.22 L381.73,309.17 L382.13,310.12 L382.54,311.08 L382.94,312.03 L383.33,312.99 L383.73,313.94 L384.12,314.9 L384.5,315.86 L384.89,316.82 L385.26,317.79 L385.64,318.75 L386.01,319.72 L386.38,320.68 L386.74,321.65 L387.11,322.62 L387.46,323.59 L387.82,324.56 L388.17,325.53 L388.52,326.51 L388.86,327.48 L389.2,328.46 L389.54,329.44 L389.88,330.41 L390.21,331.39 L390.54,332.37 L390.86,333.35 L391.19,334.33 L391.51,335.32 L391.83,336.3 L392.14,337.28 L392.45,338.27 L392.76,339.25 L393.07,340.24 L393.37,341.23 L393.67,342.21 L393.97,343.2 L394.26,344.19 L394.55,345.18 L394.84,346.17 L395.13,347.17 L395.42,348.16 L395.7,349.15 L395.98,350.15 L396.26,351.14 L396.54,352.14 L396.82,353.13 L397.09,354.13 L397.37,355.12 L397.64,356.12 L397.92,357.11 L398.19,358.11 L398.47,359.1 L398.75,360.1 L399.03,361.09 L399.31,362.09 L399.6,363.08 L399.89,364.07 L400.18,365.06 L400.48,366.05 L400.78,367.04 L401.09,368.02 L401.4,369.01 L401.72,369.99 L402.04,370.97 L402.37,371.95 L402.7,372.93 L403.04,373.9 L403.38,374.88 L403.73,375.85 L404.08,376.82 L404.44,377.79 L404.8,378.75 L405.17,379.72 L405.55,380.68 L405.92,381.64 L406.3,382.6 L406.69,383.56 L407.08,384.51 L407.47,385.47 L407.87,386.42 L408.27,387.37 L408.67,388.32 L409.08,389.27 L409.49,390.22 L409.91,391.16 L410.33,392.11 L410.75,393.05 L411.17,393.99 L411.6,394.93 L412.04,395.86 L412.48,396.8 L412.92,397.73 L413.38,398.66 L413.84,399.58 L414.31,400.5 L414.79,401.42 L415.28,402.33 L415.78,403.24 L416.29,404.14 L416.82,405.03 L417.36,405.91 L417.92,406.79 L418.5,407.66 L419.09,408.51 L419.7,409.35 L420.34,410.18 L420.99,410.99 L421.67,411.78 L422.38,412.55 L423.1,413.3 L423.85,414.03 L424.63,414.74 L425.43,415.42 L426.25,416.06 L427.1,416.68 L427.97,417.27 L428.86,417.82 L429.77,418.33 L430.7,418.81 L431.65,419.26 L432.61,419.66 L433.58,420.03 L434.57,420.37 L435.57,420.67 L436.57,420.94 L437.58,421.18 L438.59,421.39 L439.61,421.58 L440.63,421.74 L441.65,421.88 L442.68,422 L443.71,422.11 L444.73,422.19 L445.76,422.27 L446.79,422.33 L447.82,422.38" class="cu"/>
<rect x="280.6" y="388.7" width="16" height="5.4" fill="#fff"/>
<text x="281.1" y="393.3" class="el" textLength="14.6" lengthAdjust="spacingAndGlyphs">6 MeV-</text>
<rect x="301.8" y="388.7" width="15.8" height="5.4" fill="#fff"/>
<text x="302.3" y="393.3" class="el" textLength="14.4" lengthAdjust="spacingAndGlyphs">9 MeV-</text>
<rect x="327.3" y="388.7" width="18.3" height="5.4" fill="#fff"/>
<text x="327.8" y="393.3" class="el" textLength="16.9" lengthAdjust="spacingAndGlyphs">12 MeV-</text>
<rect x="357.1" y="388.7" width="18.9" height="5.4" fill="#fff"/>
<text x="357.6" y="393.3" class="el" textLength="17.5" lengthAdjust="spacingAndGlyphs">16 MeV-</text>
<rect x="388.9" y="388.7" width="19.7" height="5.4" fill="#fff"/>
<text x="389.4" y="393.3" class="el" textLength="18.3" lengthAdjust="spacingAndGlyphs">20 MeV-</text>
</svg></body></html>
